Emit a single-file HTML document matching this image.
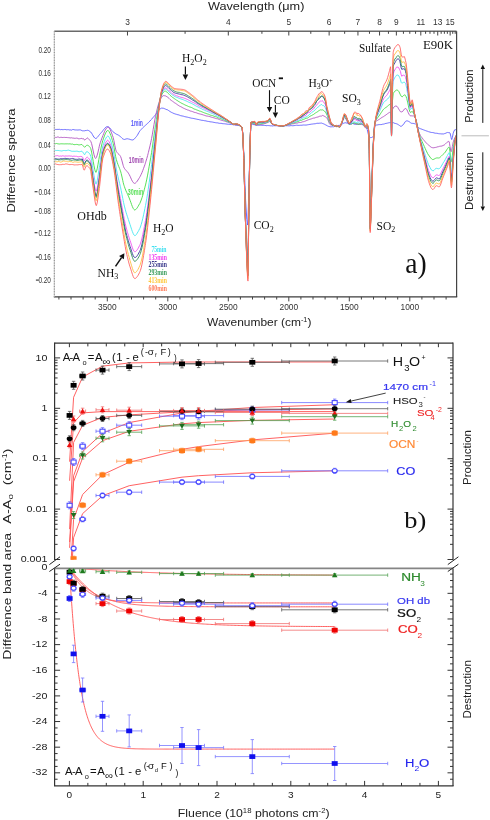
<!DOCTYPE html>
<html><head><meta charset="utf-8"><style>
html,body{margin:0;padding:0;background:#fff;width:490px;height:820px;overflow:hidden;}
body{position:relative;font-family:"Liberation Sans", sans-serif;}
</style></head><body>
<svg width="490" height="820" viewBox="0 0 490 820" style="position:absolute;left:0;top:0;will-change:transform">
<rect width="490" height="820" fill="#fff"/>
<clipPath id="c1"><rect x="54.3" y="31.2" width="402.3" height="265.7"/></clipPath>
<g clip-path="url(#c1)">
<polyline points="54,129.62 54.8,129.48 55.6,129.44 56.4,129.46 57.2,129.39 58,129.44 58.8,129.39 59.6,129.35 60,129.62 60.4,129.68 61.2,129.52 62,129.57 62.8,129.66 63.6,129.62 64.4,129.49 65.2,129.48 66,129.68 66.8,129.8 67.6,129.67 68.4,129.67 69.2,129.92 70,129.92 70.8,129.93 71.6,130.12 72,129.9 72.4,129.62 73.2,129.55 74,129.63 74.8,129.91 75.6,129.94 76.4,129.95 77.2,130.04 78,129.97 78.8,129.95 79.6,129.88 80.4,129.92 81.2,130.23 82,130.71 82.2,130.83 82.8,130.73 83.4,130.79 83.6,130.86 84,131.06 84.4,131 84.6,130.73 85.2,130.58 86,130.53 86.4,130.59 86.8,130.21 87.1,130.08 87.6,130.33 88.4,130.46 89.2,130.93 90,131.55 90.1,131.61 90.7,132.03 90.8,132.1 91.6,133.13 92.4,134.5 93.2,135.93 94,137.13 94.8,138 95.6,138.49 96.2,138.44 96.4,138.25 97.2,137.48 98,136.5 98.8,135.44 99.3,134.77 99.6,134.42 100.4,133.55 100.5,133.43 101.2,132.68 102,131.8 102.8,130.76 103,130.42 103.6,129.65 104.4,128.7 105.2,127.77 106,127.06 106.8,126.74 107.5,126.69 107.6,126.63 108,126.63 108.4,126.78 109.2,127.34 110,128.17 110.8,129.2 111.6,130.22 112.4,131.14 113,131.77 113.2,131.95 113.9,132.52 114,132.55 114.8,133.07 115.6,133.66 116.2,134.12 116.4,134.18 117.2,134.51 118,134.9 118.5,135.2 118.8,135.44 119.6,135.92 120,136.14 120.4,136.48 120.5,136.62 121.2,137.35 122,138.21 122.8,138.93 123.2,139.13 123.6,139.28 124.1,139.44 124.4,139.47 125.2,139.26 126,138.97 126.8,138.81 127.3,138.79 127.6,138.77 128.3,138.91 128.4,139.01 129.2,139.15 130,139.36 130.1,139.45 130.8,139.67 131.6,139.85 132.4,139.96 133.2,139.76 134,139.24 134.5,138.79 134.8,138.44 135.6,137.48 136.4,136.55 136.5,136.46 137.2,135.53 138,134.11 138.8,132.64 139.6,131.36 139.7,131.17 139.8,131.02 140,130.84 140.4,130.39 141.2,129.48 142,128.58 142.8,127.72 143.6,126.97 144.4,126.29 144.9,125.86 145.2,125.58 145.5,125.29 146,124.83 146.8,124.09 147.6,123.3 148.2,122.76 148.4,122.66 149.2,121.88 150,120.98 150.8,120.01 151.1,119.74 151.6,119.28 152.4,118.33 153.2,117.34 154,116.47 154.8,115.54 155.5,114.58 155.6,114.49 155.8,114.27 156.4,113.35 157.2,112.09 158,110.9 158.8,109.99 159.5,109.42 159.6,109.39 160,109.1 160.4,108.78 161.2,108.25 161.6,108.14 162,108.17 162.8,108.19 163.6,108.3 164,108.45 164.4,108.61 165.2,108.94 165.7,109.21 166,109.36 166.8,109.6 167,109.55 167.6,109.86 168.4,110.41 169.2,110.95 170,111.51 170.8,111.99 171.6,112.44 172,112.68 172.4,112.79 172.7,112.91 173.2,113.21 174,113.49 174.7,113.79 174.8,113.9 175.6,114.08 176.4,114.29 177.2,114.57 178,114.74 178.8,114.93 179.6,115.25 180,115.45 180.4,115.58 181.2,115.77 182,115.92 182.8,116.08 183.6,116.25 183.7,116.32 184.4,116.55 185.2,116.73 186,116.91 186.8,117.05 187.6,117.21 188.4,117.42 189.2,117.62 190,117.82 190.8,118.03 191.6,118.22 192.4,118.32 193.2,118.4 194,118.55 194.8,118.77 194.9,118.82 195.6,118.92 196.4,119.1 197.2,119.31 198,119.43 198.8,119.59 199.6,119.8 200,119.88 200.4,119.97 201.2,120.19 202,120.32 202.8,120.38 203.6,120.51 204.4,120.69 205.2,120.79 206,120.92 206.8,121.17 207.6,121.35 208.4,121.45 209.2,121.57 210,121.75 210.8,121.86 211.6,121.93 212.2,122.01 212.4,122.07 213.2,122.24 214,122.39 214.8,122.54 215.6,122.69 216.4,122.81 217.2,122.86 217.3,122.83 218,122.99 218.8,123.18 219.6,123.33 220.4,123.35 221.2,123.34 222,123.52 222.8,123.7 223.6,123.72 224.4,123.75 224.5,123.77 225.2,123.86 226,123.97 226.8,124.09 227.6,124.22 228.4,124.26 229.2,124.29 230,124.43 230.8,124.54 231.6,124.56 231.8,124.5 232.4,124.56 233.2,124.76 234,124.83 234.8,124.83 235,124.88 235.3,125.06 235.6,125.18 236.4,125.28 236.7,125.28 237.2,125.25 238,125.36 238.8,125.6 239.6,125.8 240.4,126.03 241,126.25 241.2,126.29 242,127.49 242.2,128.1 242.8,134.21 243.6,150.02 243.7,152.07 243.8,154.02 244.4,168.95 245.2,191.43 245.4,196.05 245.5,198.18 245.6,200.06 246,206.94 246.8,219.48 247.6,225.04 247.8,223.28 248,218.94 248.4,206.33 248.6,199.95 248.7,196.86 249.2,177.28 249.8,153.94 250,147.17 250.8,124.67 250.9,124.13 251.6,124.09 252.4,124.28 253.2,124.5 254,124.65 254.8,124.74 255,124.79 255.6,124.96 256,124.97 256.4,124.96 257.2,125.12 257.3,125.16 258,125.13 258.8,125.17 259.6,125.21 260.4,125.2 261.2,125.23 262,125.3 262.8,125.34 263.6,125.38 264.4,125.41 265.2,125.47 266,125.6 266.8,125.66 267.5,125.56 267.6,125.48 268,125.52 268.4,125.55 269.2,125.62 269.8,125.73 270,125.81 270.8,125.83 271.6,125.84 272,125.96 272.4,125.97 273.2,125.77 274,125.67 274.8,125.76 275.6,125.78 276.4,125.72 277.2,125.8 278,125.84 278.8,125.85 279.6,125.94 280.4,125.96 281.2,125.91 282,125.88 282.1,125.84 282.8,125.83 283.6,125.89 284.4,125.9 285.2,125.79 286,125.73 286.8,125.77 287.6,125.75 288.4,125.82 289.2,125.89 290,125.78 290.8,125.61 291.6,125.61 292,125.71 292.2,125.73 292.4,125.73 293.2,125.71 294,125.62 294.8,125.52 295.6,125.37 296.4,125.23 297.2,125.26 298,125.35 298.8,125.36 299.6,125.33 300.4,125.28 301.2,125.25 302,125.2 302.8,125.09 303.6,124.99 304.2,124.97 304.4,125.05 305,125.05 305.2,125.06 306,125.07 306.8,124.96 307.6,124.81 308.4,124.66 309.2,124.5 310,124.42 310.8,124.28 311.6,124.13 312.4,124.06 313.2,123.95 313.4,123.9 314,123.83 314.8,123.77 315.6,123.66 316.4,123.42 317.2,123.27 318,123.29 318.8,123.3 319.6,123.21 320.4,123.17 320.7,123.13 321.2,123.05 321.6,123.12 322,123.27 322.6,123.49 322.8,123.53 323.6,123.82 324.4,124.2 325.2,124.61 325.3,124.69 326,125.08 326.8,125.49 327,125.63 327.1,125.73 327.6,125.98 328.4,126.33 329,126.52 329.2,126.54 330,126.76 330.8,126.85 331.6,126.8 331.7,126.76 332.4,126.73 333.2,126.78 333.6,126.77 334,126.62 334.8,126.48 335,126.47 335.6,126.4 336.4,126.38 337.2,126.04 338,125.56 338.8,125.38 339.6,125.33 339.7,125.35 340,125.26 340.4,125.18 341.2,124.99 342,124.38 342.1,123.95 342.8,123.51 343.6,123.27 344.4,123.01 344.6,122.87 345.2,122.75 346,122.84 346.8,123.1 347,123.19 347.6,123.03 348.4,122.91 348.9,122.94 349,123.01 349.2,123.06 349.5,123.01 350,122.96 350.8,123.05 351.6,123.24 351.9,123.51 352,123.56 352.4,123.51 353.2,123.71 354,123.97 354.4,124.21 354.8,124.31 355.6,124.29 356.4,124.28 357.2,124.17 357.4,124.06 357.5,124.08 358,124.13 358.8,124.16 359.6,124.16 360,124.18 360.4,124.32 360.5,124.34 361.2,124.11 361.7,124.04 362,124.29 362.8,124.6 363,124.48 363.6,124.68 364.4,125.49 365.2,126.31 365.4,126.33 366,127.06 366.6,127.84 366.8,128.17 367.2,129.43 367.6,131.04 368.4,134.56 368.5,135.01 369.1,136.42 369.2,136.41 369.3,136.45 370,137.12 370.2,137.35 370.8,137.73 370.9,137.7 371.5,137.51 371.6,137.45 372.4,137.11 373.2,136.5 373.4,136.36 374,133.37 374.5,129 374.8,126.74 375,125.85 375.2,125.54 375.6,125.38 376.1,125.15 376.4,125.07 377,124.98 377.2,124.96 378,124.82 378.8,124.65 379.6,124.58 379.8,124.6 380.4,124.59 381.2,124.58 382,124.44 382.2,124.33 382.8,124.22 383.5,124.09 383.6,124.12 384.4,123.92 384.7,123.72 385.2,123.55 386,123.43 386.8,123.26 387.1,123.2 387.6,123.08 388.4,122.89 389.2,122.72 389.6,122.61 390,122.54 390.6,122.45 390.8,122.44 391.2,122.52 391.4,122.49 391.5,122.37 391.6,122.39 391.9,122.53 392.3,122.64 392.4,122.54 393.2,122.57 393.3,122.69 394,123.08 394.8,123.32 395.6,123.51 395.7,123.55 396.3,123.75 396.4,123.72 396.9,123.83 397.2,123.98 398,124.51 398.2,124.64 398.8,124.96 399.6,125.52 400,125.93 400.4,126.19 401.2,126.24 401.8,125.95 402,125.81 402.8,125.11 403.6,124.18 404.3,123.18 404.4,122.97 405.2,121.77 405.5,121.39 406,121.12 406.1,121.14 406.7,120.84 406.8,120.78 407.6,120.97 408,121.11 408.4,121.29 409.2,121.7 410,122.27 410.4,122.61 410.8,122.93 411.6,123.32 412.2,123.41 412.4,123.37 413.2,123.43 414,123.47 414.1,123.54 414.8,123.75 415.6,124 416.4,124.42 416.5,124.51 416.6,124.56 417.2,126.03 417.7,127.1 418,127.33 418.8,127.91 419.6,128.35 420.4,128.69 421,128.92 421.2,128.98 422,129.27 422.8,129.59 423.2,129.73 423.6,129.88 424.3,130.2 424.4,130.2 425.2,130.44 425.4,130.57 426,130.81 426.8,131.05 427.6,131.31 428.4,131.58 428.6,131.71 429.2,131.87 430,132.09 430.8,132.33 431.6,132.49 431.9,132.5 432.4,132.53 433,132.6 433.2,132.63 434,132.87 434.8,133.09 435.6,133.24 436.3,133.32 436.4,133.24 437.2,133.33 438,133.5 438.5,133.63 438.8,133.68 439.1,133.7 439.6,133.76 440.4,133.81 441.2,133.88 442,133.95 442.8,133.91 442.9,133.94 443.6,133.94 444,133.83 444.4,133.67 445.2,133.41 446,133.1 446.8,132.68 447.3,132.48 447.6,132.53 448.4,132.58 448.9,132.62 449.2,132.59 449.5,132.67 450,132.99 450.8,136.13 451.1,137.71 451.4,138.94 451.6,139.43 451.7,139.59 452.4,137.4 453.2,133.32 453.3,132.94 454,131.03 454.8,129.69 455,129.64 455.6,129.71 456.4,130.03" fill="none" stroke="#5a5aff" stroke-width="0.9" stroke-linejoin="round" />
<polyline points="54,137.12 54.8,137.19 55.6,137.43 56.4,137.43 57.2,137.07 58,136.89 58.8,137.22 59.6,137.61 60,137.61 60.4,137.39 61.2,137.3 62,137.45 62.8,137.53 63.6,137.43 64.4,137.4 65.2,137.48 66,137.49 66.8,137.48 67.6,137.6 68.4,137.67 69.2,137.73 70,137.95 70.8,137.92 71.6,137.79 72,137.97 72.4,138.06 73.2,138.07 74,138.22 74.8,138.3 75.6,138.28 76.4,138.12 77.2,138.15 78,138.58 78.8,138.82 79.6,138.74 80.4,138.61 81.2,138.44 82,138.39 82.2,138.65 82.8,138.84 83.4,138.7 83.6,138.66 84,139.22 84.4,139.96 84.6,140.15 85.2,139.69 86,138.98 86.4,138.81 86.8,138.36 87.1,138.01 87.6,137.94 88.4,138.66 89.2,139.47 90,140.42 90.1,140.6 90.7,141.36 90.8,141.42 91.6,143.58 92.4,147.06 93.2,150.99 94,154.63 94.8,157.35 95.6,158.48 96.2,157.89 96.4,157.42 97.2,155.17 98,152.09 98.8,148.55 99.3,146.22 99.6,144.96 100.4,142.36 100.5,142.07 101.2,140.14 102,137.93 102.8,135.83 103,135.4 103.6,133.81 104.4,131.82 105.2,130.19 106,128.87 106.8,127.84 107.5,127.34 107.6,127.31 108,127.2 108.4,127.27 109.2,128.07 110,129.43 110.8,131.07 111.6,133.01 112.4,135.22 113,136.96 113.2,137.61 113.9,140.61 114,141.08 114.8,145.3 115.6,149.17 116.2,151.04 116.4,151.4 117.2,152.66 118,153.58 118.5,154 118.8,154.27 119.6,155.18 120,155.67 120.4,156.22 120.5,156.38 121.2,158.18 122,160.96 122.8,163.99 123.2,165.45 123.6,166.7 124.1,167.87 124.4,168.35 125.2,169.43 126,170.34 126.8,171.21 127.3,171.79 127.6,172.11 128.3,173 128.4,173.19 129.2,174.54 130,176.11 130.1,176.31 130.8,177.95 131.6,179.75 132.4,181.29 133.2,182.47 134,183.19 134.5,183.37 134.8,183.37 135.6,182.97 136.4,182.2 136.5,182.09 137.2,181.21 138,179.98 138.8,178.66 139.6,177.41 139.7,177.29 139.8,177.11 140,176.71 140.4,175.93 141.2,174.32 142,172.5 142.8,170.44 143.6,168.31 144.4,166.15 144.9,164.74 145.2,163.8 145.5,162.78 146,161.13 146.8,158.44 147.6,155.58 148.2,153.28 148.4,152.46 149.2,149.17 150,145.8 150.8,142.28 151.1,140.86 151.6,138.48 152.4,134.19 153.2,129.39 154,124.51 154.8,119.93 155.5,116.33 155.6,115.92 155.8,115.15 156.4,112.5 157.2,108.93 158,105.8 158.8,103.08 159.5,101.06 159.6,100.84 160,100.08 160.4,99.35 161.2,98.04 161.6,97.39 162,96.79 162.8,96 163.6,95.59 164,95.61 164.4,95.7 165.2,95.83 165.7,95.96 166,96.14 166.8,96.69 167,96.8 167.6,97.16 168.4,97.77 169.2,98.53 170,99.38 170.8,100.09 171.6,100.66 172,100.92 172.4,101.18 172.7,101.38 173.2,101.74 174,102.34 174.7,102.9 174.8,102.92 175.6,103.37 176.4,103.95 177.2,104.58 178,105.11 178.8,105.61 179.6,106.16 180,106.39 180.4,106.5 181.2,106.88 182,107.34 182.8,107.84 183.6,108.23 183.7,108.23 184.4,108.57 185.2,108.97 186,109.29 186.8,109.62 187.6,109.96 188.4,110.17 189.2,110.5 190,110.92 190.8,111.13 191.6,111.3 192.4,111.56 193.2,111.88 194,112.21 194.8,112.48 194.9,112.48 195.6,112.6 196.4,112.8 197.2,113.16 198,113.52 198.8,113.73 199.6,113.92 200,114.03 200.4,114.12 201.2,114.31 202,114.52 202.8,114.78 203.6,115.05 204.4,115.3 205.2,115.6 206,115.9 206.8,116.06 207.6,116.15 208.4,116.29 209.2,116.48 210,116.7 210.8,116.98 211.6,117.24 212.2,117.4 212.4,117.44 213.2,117.65 214,117.83 214.8,118.08 215.6,118.42 216.4,118.62 217.2,118.72 217.3,118.7 218,118.95 218.8,119.28 219.6,119.61 220.4,119.89 221.2,120.14 222,120.4 222.8,120.66 223.6,120.89 224.4,121.11 224.5,121.05 225.2,121.22 226,121.59 226.8,121.95 227.6,122.14 228.4,122.38 229.2,122.71 230,122.95 230.8,123.21 231.6,123.54 231.8,123.62 232.4,123.75 233.2,123.95 234,124.22 234.8,124.5 235,124.59 235.3,124.71 235.6,124.77 236.4,124.9 236.7,124.91 237.2,124.97 238,125.18 238.8,125.39 239.6,125.55 240.4,125.84 241,126.14 241.2,126.27 242,127.5 242.2,128 242.8,134.33 243.6,151.66 243.7,154.1 243.8,156.68 244.4,178.72 245.2,211.54 245.4,217.55 245.5,219.98 245.6,222.29 246,231.14 246.8,246.48 247.6,254.78 247.8,255.08 248,252.14 248.4,235.25 248.6,224.91 248.7,220.11 249.2,189.39 249.8,154.01 250,146.16 250.8,123.43 250.9,122.97 251.6,123.02 252.4,123.33 253.2,123.76 254,124.2 254.8,124.63 255,124.74 255.6,124.98 256,125.06 256.4,124.98 257.2,124.93 257.3,124.95 258,124.87 258.8,124.78 259.6,124.73 260.4,124.6 261.2,124.39 262,124.26 262.8,124.17 263.6,123.94 264.4,123.63 265.2,123.47 266,123.23 266.8,122.83 267.5,122.56 267.6,122.61 268,122.49 268.4,122.31 269.2,121.76 269.8,121.51 270,121.56 270.8,122.54 271.6,123.8 272,124.18 272.4,124.31 273.2,124.49 274,124.75 274.8,125.07 275.6,125.25 276.4,125.32 277.2,125.44 278,125.59 278.8,125.67 279.6,125.7 280.4,125.74 281.2,125.82 282,125.84 282.1,125.79 282.8,125.78 283.6,125.74 284.4,125.6 285.2,125.44 286,125.29 286.8,125.15 287.6,125.02 288.4,124.84 289.2,124.69 290,124.49 290.8,124.22 291.6,124.03 292,123.94 292.2,123.87 292.4,123.86 293.2,123.76 294,123.68 294.8,123.51 295.6,123.27 296.4,123.12 297.2,123.07 298,122.88 298.8,122.57 299.6,122.55 300.4,122.53 301.2,122.36 302,122.03 302.8,121.74 303.6,121.69 304.2,121.65 304.4,121.39 305,121.07 305.2,121.1 306,120.8 306.8,120.46 307.6,120.14 308.4,119.78 309.2,119.5 310,119.26 310.8,119.03 311.6,118.78 312.4,118.41 313.2,118.06 313.4,118.14 314,118.16 314.8,117.92 315.6,117.59 316.4,117.34 317.2,117.15 318,116.98 318.8,116.68 319.6,116.26 320.4,116.07 320.7,116.22 321.2,116.25 321.6,115.98 322,115.63 322.6,115.45 322.8,115.46 323.6,115.84 324.4,116.29 325.2,116.67 325.3,116.79 326,117.33 326.8,117.93 327,118.13 327.1,118.24 327.6,119.06 328.4,121.18 329,122.78 329.2,123.22 330,124.56 330.8,124.92 331.6,125.08 331.7,125.17 332.4,125.25 333.2,125.27 333.6,125.34 334,125.43 334.8,125.62 335,125.69 335.6,125.82 336.4,125.92 337.2,126.26 338,126.48 338.8,126.76 339.6,126.9 339.7,126.64 340,126.26 340.4,125.69 341.2,124.15 342,122.56 342.1,122.27 342.8,120.44 343.6,118.65 344.4,117.75 344.6,117.69 345.2,117.95 346,119.18 346.8,120.92 347,121.36 347.6,122.33 348.4,123.83 348.9,124.39 349,124.54 349.2,124.55 349.5,124.46 350,124.38 350.8,124.4 351.6,124.17 351.9,123.65 352,123.42 352.4,123.44 353.2,123.26 354,123.19 354.4,123.45 354.8,123.58 355.6,123.67 356.4,123.93 357.2,124.26 357.4,124.38 357.5,124.31 358,124.26 358.8,124.22 359.6,124.2 360,124.11 360.4,123.8 360.5,123.81 361.2,124.19 361.7,124.37 362,124.5 362.8,124.8 363,124.87 363.6,125.5 364.4,126.55 365.2,127.4 365.4,127.79 366,128.4 366.6,128.26 366.8,127.95 367.2,128.34 367.6,128.55 368.4,129.28 368.5,129.46 369.1,142.59 369.2,146.25 369.3,150 370,208.08 370.2,214.99 370.8,207.19 370.9,204.85 371.5,189.97 371.6,187.73 372.4,165.09 373.2,143.66 373.4,139.93 374,130.77 374.5,124.75 374.8,122.61 375,122.01 375.2,121.78 375.6,121.42 376.1,121.13 376.4,121.05 377,120.76 377.2,120.56 378,120.04 378.8,119.58 379.6,119.14 379.8,118.98 380.4,118.51 381.2,117.94 382,117.38 382.2,117.27 382.8,116.98 383.5,116.62 383.6,116.55 384.4,115.96 384.7,115.72 385.2,115.45 386,114.88 386.8,114.25 387.1,114.03 387.6,113.66 388.4,113.1 389.2,112.59 389.6,112.38 390,112.25 390.6,112.11 390.8,112.15 391.2,125.12 391.4,133.96 391.5,135.99 391.6,134.96 391.9,125.14 392.3,110.23 392.4,109.87 393.2,108.11 393.3,107.84 394,106.96 394.8,106.47 395.6,106.08 395.7,105.93 396.3,106.03 396.4,106.28 396.9,106.46 397.2,106.55 398,107.7 398.2,108.16 398.8,109.19 399.6,110.48 400,111.18 400.4,111.65 401.2,111.97 401.8,111.87 402,111.96 402.8,111.27 403.6,110.16 404.3,109.21 404.4,109.05 405.2,108.61 405.5,108.54 406,108.54 406.1,108.69 406.7,109.55 406.8,109.57 407.6,111.25 408,112.21 408.4,112.94 409.2,114.54 410,115.68 410.4,115.82 410.8,115.78 411.6,115.84 412.2,115.89 412.4,115.92 413.2,115.92 414,115.87 414.1,115.79 414.8,116.4 415.6,118.5 416.4,121.23 416.5,121.65 416.6,121.99 417.2,124.44 417.7,127.03 418,128.56 418.8,131.81 419.6,133.81 420.4,135.43 421,136.49 421.2,136.76 422,137.75 422.8,138.79 423.2,139.42 423.6,139.85 424.3,140.64 424.4,140.83 425.2,141.79 425.4,141.96 426,142.64 426.8,143.51 427.6,144.3 428.4,144.98 428.6,145.09 429.2,145.57 430,146.28 430.8,146.94 431.6,147.45 431.9,147.55 432.4,147.67 433,147.77 433.2,147.81 434,147.71 434.8,147.56 435.6,147.41 436.3,147.29 436.4,147.25 437.2,146.95 438,146.71 438.5,146.63 438.8,146.65 439.1,146.53 439.6,146.31 440.4,146.2 441.2,146.15 442,145.98 442.8,145.66 442.9,145.51 443.6,145.28 444,145.17 444.4,144.88 445.2,144.17 446,143.32 446.8,142.51 447.3,142.16 447.6,141.94 448.4,141.45 448.9,141.38 449.2,141.95 449.5,143.32 450,146.53 450.8,151.12 451.1,151.66 451.4,151.33 451.6,150.64 451.7,150.17 452.4,146.38 453.2,142.17 453.3,141.88 454,139.69 454.8,137.68 455,137.32 455.6,136.53 456.4,135.92" fill="none" stroke="#b050c0" stroke-width="0.9" stroke-linejoin="round" />
<polyline points="54,143.73 54.8,143.81 55.6,143.71 56.4,143.49 57.2,143.65 58,143.91 58.8,143.91 59.6,144.01 60,144.06 60.4,143.87 61.2,143.79 62,143.85 62.8,143.83 63.6,143.87 64.4,143.91 65.2,143.85 66,143.87 66.8,143.86 67.6,143.83 68.4,143.92 69.2,143.89 70,143.84 70.8,144.03 71.6,144.17 72,144.04 72.4,144.03 73.2,144.39 74,144.63 74.8,144.64 75.6,144.52 76.4,144.41 77.2,144.47 78,144.69 78.8,144.92 79.6,144.86 80.4,144.7 81.2,144.53 82,144.53 82.2,144.77 82.8,145.42 83.4,146.2 83.6,146.26 84,146.7 84.4,147.12 84.6,147.21 85.2,146.9 86,146 86.4,145.5 86.8,145.08 87.1,145.01 87.6,145.36 88.4,145.64 89.2,146.3 90,147.19 90.1,147.3 90.7,148.52 90.8,148.81 91.6,152.05 92.4,156.54 93.2,161.27 94,165.77 94.8,169.71 95.6,172.16 96.2,172.24 96.4,171.75 97.2,168.72 98,164.36 98.8,159.65 99.3,156.9 99.6,155.36 100.4,151.27 100.5,150.73 101.2,147.12 102,143.44 102.8,140.51 103,139.99 103.6,138.24 104.4,135.96 105.2,133.94 106,132.29 106.8,131.06 107.5,130.51 107.6,130.62 108,130.51 108.4,130.67 109.2,131.73 110,133.35 110.8,135.32 111.6,137.75 112.4,140.57 113,142.77 113.2,143.52 113.9,146.9 114,147.46 114.8,151.98 115.6,156.38 116.2,159.04 116.4,159.77 117.2,162.34 118,164.63 118.5,165.91 118.8,166.6 119.6,168.56 120,169.67 120.4,170.89 120.5,171.09 121.2,173.52 122,177.01 122.8,180.69 123.2,182.48 123.6,184.09 124.1,185.72 124.4,186.56 125.2,188.87 126,190.88 126.8,192.59 127.3,193.66 127.6,194.37 128.3,195.97 128.4,196.1 129.2,197.98 130,200.12 130.1,200.39 130.8,202.31 131.6,204.58 132.4,206.65 133.2,208.36 134,209.52 134.5,209.91 134.8,210.02 135.6,209.62 136.4,208.8 136.5,208.75 137.2,207.85 138,206.51 138.8,205.08 139.6,203.71 139.7,203.62 139.8,203.46 140,203 140.4,202.1 141.2,200.06 142,197.69 142.8,195.15 143.6,192.33 144.4,189.23 144.9,187.23 145.2,186.1 145.5,184.97 146,182.85 146.8,179.14 147.6,175.12 148.2,171.94 148.4,170.79 149.2,166.28 150,161.77 150.8,157.25 151.1,155.43 151.6,152.4 152.4,147.06 153.2,141.32 154,135.48 154.8,129.8 155.5,125.26 155.6,124.68 155.8,123.36 156.4,119.66 157.2,114.69 158,109.76 158.8,105.27 159.5,102.03 159.6,101.66 160,100.14 160.4,98.67 161.2,96.09 161.6,95.17 162,94.39 162.8,92.98 163.6,91.89 164,91.51 164.4,91.29 165.2,91.12 165.7,91.25 166,91.44 166.8,92.02 167,92.13 167.6,92.62 168.4,93.45 169.2,94.38 170,95.2 170.8,95.9 171.6,96.57 172,96.9 172.4,97.28 172.7,97.48 173.2,97.75 174,98.39 174.7,98.86 174.8,98.87 175.6,99.48 176.4,100.05 177.2,100.51 178,101.01 178.8,101.59 179.6,102.03 180,102.23 180.4,102.53 181.2,103 182,103.44 182.8,103.8 183.6,104.14 183.7,104.26 184.4,104.64 185.2,105.04 186,105.39 186.8,105.69 187.6,106.06 188.4,106.44 189.2,106.77 190,107.04 190.8,107.27 191.6,107.56 192.4,107.96 193.2,108.48 194,108.96 194.8,109.18 194.9,109.09 195.6,109.41 196.4,109.81 197.2,110.1 198,110.37 198.8,110.74 199.6,111.09 200,111.18 200.4,111.21 201.2,111.52 202,111.9 202.8,112.18 203.6,112.53 204.4,112.87 205.2,113.15 206,113.43 206.8,113.72 207.6,113.98 208.4,114.22 209.2,114.58 210,114.99 210.8,115.24 211.6,115.42 212.2,115.57 212.4,115.6 213.2,115.89 214,116.21 214.8,116.5 215.6,116.66 216.4,116.86 217.2,117.26 217.3,117.48 218,117.84 218.8,118.05 219.6,118.21 220.4,118.48 221.2,118.8 222,119.12 222.8,119.4 223.6,119.73 224.4,120.15 224.5,120.23 225.2,120.51 226,120.92 226.8,121.31 227.6,121.57 228.4,121.86 229.2,122.19 230,122.5 230.8,122.88 231.6,123.22 231.8,123.3 232.4,123.72 233.2,124.13 234,124.24 234.8,124.38 235,124.38 235.3,124.36 235.6,124.43 236.4,124.47 236.7,124.44 237.2,124.54 238,124.79 238.8,125.08 239.6,125.43 240.4,125.88 241,126.2 241.2,126.26 242,127.45 242.2,127.93 242.8,134.43 243.6,152.13 243.7,154.67 243.8,157.45 244.4,179.6 245.2,212.15 245.4,218.22 245.5,220.72 245.6,223.17 246,233.09 246.8,251.1 247.6,261.68 247.8,262.46 248,260.68 248.4,239.97 248.6,226.04 248.7,220.01 249.2,188.13 249.8,153.91 250,146.14 250.8,123.31 250.9,122.86 251.6,122.79 252.4,122.91 253.2,123.14 254,123.41 254.8,123.68 255,123.81 255.6,124.46 256,124.93 256.4,125.09 257.2,124.2 257.3,124.12 258,124.09 258.8,124.01 259.6,123.91 260.4,123.8 261.2,123.67 262,123.59 262.8,123.41 263.6,123.17 264.4,123.01 265.2,122.85 266,122.64 266.8,122.38 267.5,122.17 267.6,122.08 268,121.71 268.4,121.42 269.2,120.8 269.8,120.62 270,120.73 270.8,121.93 271.6,123.46 272,123.88 272.4,124.04 273.2,124.33 274,124.63 274.8,124.86 275.6,125 276.4,125.12 277.2,125.36 278,125.63 278.8,125.69 279.6,125.68 280.4,125.74 281.2,125.8 282,125.87 282.1,125.93 282.8,125.91 283.6,125.8 284.4,125.63 285.2,125.5 286,125.35 286.8,125.09 287.6,124.75 288.4,124.43 289.2,124.23 290,124.04 290.8,123.71 291.6,123.33 292,123.25 292.2,123.27 292.4,123.2 293.2,122.96 294,122.77 294.8,122.57 295.6,122.3 296.4,122.02 297.2,121.77 298,121.52 298.8,121.21 299.6,120.76 300.4,120.49 301.2,120.39 302,120 302.8,119.62 303.6,119.33 304.2,119.1 304.4,119.07 305,118.85 305.2,118.67 306,118.31 306.8,118.21 307.6,118.01 308.4,117.49 309.2,116.84 310,116.26 310.8,115.89 311.6,115.5 312.4,115.02 313.2,114.63 313.4,114.52 314,114.08 314.8,113.45 315.6,112.88 316.4,112.42 317.2,111.96 318,111.37 318.8,110.72 319.6,110.28 320.4,109.91 320.7,109.8 321.2,109.92 321.6,109.96 322,109.79 322.6,109.85 322.8,110 323.6,110.49 324.4,111.21 325.2,111.77 325.3,111.63 326,112.94 326.8,114.75 327,115.09 327.1,115.34 327.6,116.63 328.4,119.16 329,121.08 329.2,121.54 330,122.97 330.8,123.76 331.6,124.51 331.7,124.82 332.4,125.33 333.2,125.39 333.6,125.39 334,125.49 334.8,125.72 335,125.76 335.6,125.92 336.4,126.02 337.2,126.08 338,126.24 338.8,126.6 339.6,126.98 339.7,126.94 340,126.31 340.4,125.51 341.2,123.77 342,121.99 342.1,121.94 342.8,120.09 343.6,117.75 344.4,116.33 344.6,116.39 345.2,117.15 346,118.52 346.8,119.84 347,119.9 347.6,121.04 348.4,123.03 348.9,123.87 349,124.12 349.2,124.41 349.5,124.3 350,124.03 350.8,123.85 351.6,123.8 351.9,124.02 352,123.96 352.4,123.57 353.2,123.15 354,122.88 354.4,122.78 354.8,122.83 355.6,123.28 356.4,123.72 357.2,123.92 357.4,123.89 357.5,123.81 358,124.07 358.8,124.41 359.6,123.96 360,123.69 360.4,124.1 360.5,124.09 361.2,123.68 361.7,123.42 362,123.53 362.8,123.99 363,124.24 363.6,124.93 364.4,126.39 365.2,127.42 365.4,127.33 366,127.53 366.6,127.58 366.8,127.52 367.2,127.17 367.6,127.44 368.4,129.15 368.5,129.48 369.1,142.66 369.2,146.36 369.3,150.15 370,212.41 370.2,219.8 370.8,211.3 370.9,208.83 371.5,192.76 371.6,190.36 372.4,167.17 373.2,145.31 373.4,141.26 374,131.59 374.5,125.52 374.8,123.26 375,122.41 375.2,121.81 375.6,120.77 376.1,119.85 376.4,119.5 377,118.69 377.2,118.36 378,117.26 378.8,116.2 379.6,115.05 379.8,114.74 380.4,113.85 381.2,112.63 382,111.43 382.2,111.12 382.8,110.23 383.5,109.32 383.6,109.22 384.4,108.52 384.7,108.33 385.2,107.95 386,107.38 386.8,106.85 387.1,106.61 387.6,106.13 388.4,105.4 389.2,104.78 389.6,104.59 390,104.35 390.6,103.38 390.8,104.27 391.2,119.89 391.4,132.78 391.5,136.04 391.6,134.1 391.9,119.37 392.3,103.1 392.4,101.62 393.2,93.81 393.3,93.58 394,92.25 394.8,91.25 395.6,90.69 395.7,90.6 396.3,90.18 396.4,90.03 396.9,89.92 397.2,90.05 398,90.46 398.2,90.61 398.8,91.46 399.6,93.01 400,93.97 400.4,94.76 401.2,96.23 401.8,96.82 402,97.07 402.8,96.32 403.6,95.46 404.3,95.02 404.4,94.91 405.2,95.12 405.5,95.65 406,96.47 406.1,96.61 406.7,98.45 406.8,98.72 407.6,102.13 408,103.89 408.4,105.72 409.2,109.54 410,112.1 410.4,112.46 410.8,112.34 411.6,111.71 412.2,111.44 412.4,111.56 413.2,112.78 414,114.39 414.1,114.59 414.8,116.17 415.6,118.78 416.4,121.79 416.5,122.18 416.6,122.64 417.2,125.4 417.7,127.97 418,129.43 418.8,132.9 419.6,135.45 420.4,137.68 421,139.13 421.2,139.5 422,141.33 422.8,143.13 423.2,144.02 423.6,144.89 424.3,146.41 424.4,146.64 425.2,148.44 425.4,148.95 426,150.24 426.8,151.94 427.6,153.57 428.4,154.91 428.6,155.08 429.2,155.92 430,157.05 430.8,158.08 431.6,158.9 431.9,159.16 432.4,159.49 433,159.65 433.2,159.54 434,159.19 434.8,158.72 435.6,158.29 436.3,158.04 436.4,158 437.2,157.93 438,157.94 438.5,157.98 438.8,158.03 439.1,157.96 439.6,157.66 440.4,156.99 441.2,156.22 442,155.41 442.8,154.56 442.9,154.46 443.6,153.85 444,153.5 444.4,153.19 445.2,152.22 446,150.99 446.8,149.72 447.3,148.99 447.6,148.6 448.4,147.52 448.9,147 449.2,147.29 449.5,148.31 450,151.88 450.8,159.58 451.1,161.31 451.4,161.58 451.6,160.97 451.7,160.46 452.4,155.06 453.2,148.27 453.3,147.61 454,143.51 454.8,139.68 455,138.99 455.6,137.21 456.4,135.66" fill="none" stroke="#44dd44" stroke-width="0.9" stroke-linejoin="round" />
<polyline points="54,150.15 54.8,150.21 55.6,150.43 56.4,150.53 57.2,150.44 58,150.46 58.8,150.56 59.6,150.7 60,150.72 60.4,150.79 61.2,150.98 62,150.91 62.8,150.71 63.6,150.49 64.4,150.49 65.2,150.6 66,150.59 66.8,150.51 67.6,150.28 68.4,150.14 69.2,150.39 70,150.64 70.8,150.86 71.6,151.23 72,151.41 72.4,151.32 73.2,151.28 74,151.31 74.8,151.32 75.6,151.29 76.4,151.19 77.2,151.2 78,151.44 78.8,151.65 79.6,151.68 80.4,151.51 81.2,151.26 82,151.33 82.2,151.49 82.8,152.13 83.4,153.18 83.6,153.37 84,154.02 84.4,154.56 84.6,154.81 85.2,153.73 86,152.16 86.4,151.89 86.8,151.82 87.1,151.8 87.6,151.84 88.4,152.4 89.2,153.25 90,154.33 90.1,154.54 90.7,156.04 90.8,156.34 91.6,160.33 92.4,165.48 93.2,170.6 94,175.63 94.8,180.36 95.6,183.59 96.2,184.1 96.4,183.74 97.2,180.73 98,176.06 98.8,170.71 99.3,167.55 99.6,165.74 100.4,160.32 100.5,159.57 101.2,154.81 102,149.82 102.8,146.09 103,145.5 103.6,143.71 104.4,141.46 105.2,139.53 106,137.96 106.8,136.77 107.5,136.13 107.6,136.05 108,135.94 108.4,136.26 109.2,137.42 110,138.96 110.8,141.11 111.6,143.89 112.4,147.1 113,149.79 113.2,150.75 113.9,154.44 114,154.96 114.8,159.7 115.6,164.72 116.2,168.17 116.4,169.23 117.2,173.12 118,176.73 118.5,178.94 118.8,180.23 119.6,183.46 120,185.07 120.4,186.72 120.5,187.17 121.2,190.5 122,194.65 122.8,198.68 123.2,200.57 123.6,202.59 124.1,204.93 124.4,206.07 125.2,209.21 126,212.18 126.8,214.75 127.3,216.24 127.6,217.15 128.3,219.19 128.4,219.49 129.2,222 130,224.42 130.1,224.72 130.8,226.88 131.6,229.39 132.4,231.64 133.2,233.54 134,235 134.5,235.53 134.8,235.67 135.6,235.36 136.4,234.52 136.5,234.27 137.2,233.15 138,231.84 138.8,230.38 139.6,228.75 139.7,228.57 139.8,228.43 140,228 140.4,227.02 141.2,224.57 142,221.59 142.8,218.31 143.6,214.8 144.4,211.03 144.9,208.53 145.2,206.99 145.5,205.52 146,202.94 146.8,198.34 147.6,193.39 148.2,189.5 148.4,188.08 149.2,182.38 150,176.68 150.8,170.88 151.1,168.61 151.6,164.64 152.4,157.97 153.2,151.09 154,144.24 154.8,137.45 155.5,131.71 155.6,130.95 155.8,129.42 156.4,124.64 157.2,118.3 158,112.32 158.8,106.88 159.5,102.82 159.6,102.35 160,100.36 160.4,98.4 161.2,95.15 161.6,94.1 162,93.22 162.8,91.51 163.6,90.22 164,89.75 164.4,89.4 165.2,89.11 165.7,89.17 166,89.4 166.8,89.98 167,90.16 167.6,90.7 168.4,91.43 169.2,92.18 170,92.93 170.8,93.64 171.6,94.34 172,94.73 172.4,95.05 172.7,95.17 173.2,95.45 174,96.04 174.7,96.5 174.8,96.52 175.6,96.86 176.4,97.26 177.2,97.52 178,97.75 178.8,98.17 179.6,98.54 180,98.62 180.4,98.72 181.2,99.03 182,99.3 182.8,99.53 183.6,99.86 183.7,99.96 184.4,100.27 185.2,100.57 186,100.86 186.8,101.25 187.6,101.67 188.4,102.08 189.2,102.45 190,102.76 190.8,103.1 191.6,103.5 192.4,103.9 193.2,104.37 194,104.83 194.8,105.2 194.9,105.28 195.6,105.75 196.4,106.19 197.2,106.58 198,106.96 198.8,107.37 199.6,107.89 200,108.19 200.4,108.31 201.2,108.6 202,109.06 202.8,109.51 203.6,109.82 204.4,110.1 205.2,110.53 206,110.96 206.8,111.23 207.6,111.54 208.4,111.84 209.2,112.15 210,112.58 210.8,113.05 211.6,113.4 212.2,113.56 212.4,113.6 213.2,113.91 214,114.26 214.8,114.77 215.6,115.27 216.4,115.61 217.2,115.91 217.3,116 218,116.32 218.8,116.61 219.6,116.95 220.4,117.34 221.2,117.8 222,118.22 222.8,118.49 223.6,118.85 224.4,119.35 224.5,119.35 225.2,119.59 226,120 226.8,120.45 227.6,120.91 228.4,121.4 229.2,121.86 230,122.25 230.8,122.66 231.6,123.12 231.8,123.33 232.4,123.8 233.2,124.15 234,124.24 234.8,124.39 235,124.36 235.3,124.2 235.6,124.14 236.4,124.27 236.7,124.37 237.2,124.39 238,124.55 238.8,124.88 239.6,125.35 240.4,125.81 241,126.1 241.2,126.25 242,127.49 242.2,127.93 242.8,134.74 243.6,152.92 243.7,155.44 243.8,158.22 244.4,180.41 245.2,212.68 245.4,218.87 245.5,221.54 245.6,224.17 246,234.94 246.8,254.8 247.6,267.08 247.8,268.28 248,267.23 248.4,243.39 248.6,226.71 248.7,219.96 249.2,187.45 249.8,154.12 250,146.18 250.8,123.06 250.9,122.58 251.6,122.44 252.4,122.53 253.2,122.7 254,122.82 254.8,122.99 255,123.07 255.6,123.92 256,124.7 256.4,125.03 257.2,123.65 257.3,123.52 258,123.34 258.8,123.24 259.6,123.15 260.4,123.06 261.2,122.99 262,122.95 262.8,122.9 263.6,122.72 264.4,122.51 265.2,122.38 266,122.21 266.8,121.93 267.5,121.65 267.6,121.64 268,121.48 268.4,121.14 269.2,120.23 269.8,119.9 270,119.98 270.8,121.49 271.6,123.44 272,123.99 272.4,124.18 273.2,124.45 274,124.66 274.8,124.86 275.6,125.08 276.4,125.31 277.2,125.43 278,125.5 278.8,125.65 279.6,125.74 280.4,125.69 281.2,125.78 282,125.93 282.1,125.94 282.8,125.83 283.6,125.73 284.4,125.71 285.2,125.55 286,125.21 286.8,124.86 287.6,124.62 288.4,124.34 289.2,123.93 290,123.55 290.8,123.24 291.6,122.96 292,122.79 292.2,122.65 292.4,122.5 293.2,122.24 294,122.11 294.8,121.9 295.6,121.58 296.4,121.22 297.2,120.8 298,120.45 298.8,120.19 299.6,119.95 300.4,119.6 301.2,118.89 302,118.38 302.8,118.06 303.6,117.76 304.2,117.43 304.4,117.23 305,117.22 305.2,117.32 306,116.83 306.8,116.59 307.6,116.17 308.4,115.36 309.2,114.67 310,114.1 310.8,113.41 311.6,112.6 312.4,111.97 313.2,111.48 313.4,111.38 314,111.04 314.8,110.27 315.6,109.27 316.4,108.46 317.2,107.68 318,107.06 318.8,106.56 319.6,105.87 320.4,105.07 320.7,104.76 321.2,104.67 321.6,104.56 322,104.78 322.6,105.46 322.8,105.57 323.6,105.64 324.4,106.25 325.2,107.46 325.3,107.69 326,109.39 326.8,112.22 327,113.22 327.1,113.54 327.6,114.57 328.4,117.08 329,119.25 329.2,119.88 330,121.81 330.8,123.4 331.6,124.43 331.7,124.49 332.4,124.84 333.2,125.16 333.6,125.29 334,125.52 334.8,125.83 335,125.84 335.6,125.96 336.4,126.18 337.2,126.22 338,126.21 338.8,126.45 339.6,127.03 339.7,127.25 340,126.59 340.4,125.86 341.2,124.1 342,122.25 342.1,122.4 342.8,120.53 343.6,117.81 344.4,115.94 344.6,115.76 345.2,116.3 346,117.52 346.8,119.1 347,119.51 347.6,120.86 348.4,123.19 348.9,124.22 349,124.32 349.2,124.2 349.5,124.08 350,124.03 350.8,123.73 351.6,123.56 351.9,123.48 352,123.4 352.4,123.21 353.2,122.21 354,121.55 354.4,121.77 354.8,121.91 355.6,122.15 356.4,122.53 357.2,122.68 357.4,122.24 357.5,121.84 358,122.06 358.8,122.28 359.6,121.88 360,121.62 360.4,122 360.5,122.54 361.2,122.89 361.7,123.09 362,123.51 362.8,124.33 363,124.62 363.6,124.96 364.4,125.91 365.2,127.03 365.4,127.27 366,127.23 366.6,126.67 366.8,126.56 367.2,126.33 367.6,126.69 368.4,128.95 368.5,129.34 369.1,142.59 369.2,146.28 369.3,150.14 370,215.97 370.2,223.89 370.8,214.73 370.9,212.01 371.5,194.98 371.6,192.36 372.4,168.6 373.2,146.47 373.4,142.39 374,132.4 374.5,126.23 374.8,123.75 375,122.62 375.2,121.87 375.6,120.41 376.1,118.84 376.4,118 377,116.6 377.2,116.18 378,114.47 378.8,112.85 379.6,111.25 379.8,110.85 380.4,109.46 381.2,107.53 382,105.69 382.2,105.27 382.8,104.01 383.5,102.69 383.6,102.5 384.4,101.67 384.7,101.45 385.2,101.02 386,100.46 386.8,99.8 387.1,99.55 387.6,99.08 388.4,98.15 389.2,97.19 389.6,96.67 390,96.06 390.6,94.26 390.8,95.97 391.2,114.71 391.4,131.7 391.5,136.05 391.6,133.39 391.9,113.97 392.3,96.18 392.4,93.86 393.2,81.39 393.3,80.94 394,78.99 394.8,77.64 395.6,76.56 395.7,76.41 396.3,75.59 396.4,75.39 396.9,75.19 397.2,75.12 398,75 398.2,75.1 398.8,75.87 399.6,77.43 400,78.2 400.4,79.44 401.2,82.39 401.8,83.15 402,83.04 402.8,82.79 403.6,82.28 404.3,81.99 404.4,82.16 405.2,83.07 405.5,83.54 406,84.79 406.1,85.36 406.7,88.23 406.8,88.61 407.6,93.64 408,96.36 408.4,99.46 409.2,105.26 410,108.93 410.4,109.52 410.8,109.33 411.6,108.2 412.2,107.7 412.4,107.75 413.2,109.93 414,112.98 414.1,113.28 414.8,115.62 415.6,118.89 416.4,122.32 416.5,122.73 416.6,123.22 417.2,125.99 417.7,128.48 418,130.08 418.8,133.77 419.6,136.8 420.4,139.65 421,141.59 421.2,142.17 422,144.7 422.8,147.23 423.2,148.56 423.6,149.85 424.3,152.06 424.4,152.42 425.2,154.92 425.4,155.51 426,157.34 426.8,159.85 427.6,162.24 428.4,164.32 428.6,164.77 429.2,165.89 430,167.4 430.8,168.97 431.6,170.16 431.9,170.32 432.4,170.52 433,170.76 433.2,170.79 434,170.3 434.8,169.42 435.6,168.64 436.3,168.32 436.4,168.33 437.2,168.48 438,168.74 438.5,168.77 438.8,168.67 439.1,168.57 439.6,168.38 440.4,167.63 441.2,166.42 442,164.97 442.8,163.54 442.9,163.27 443.6,162.21 444,161.7 444.4,161.11 445.2,159.7 446,158.09 446.8,156.54 447.3,155.71 447.6,155.23 448.4,153.61 448.9,152.8 449.2,152.73 449.5,153.19 450,157.13 450.8,167.84 451.1,170.55 451.4,171.39 451.6,170.95 451.7,170.48 452.4,163.44 453.2,154.09 453.3,153.27 454,147.38 454.8,141.54 455,140.43 455.6,137.78 456.4,135.42" fill="none" stroke="#44e8f0" stroke-width="0.9" stroke-linejoin="round" />
<polyline points="54,155.85 54.8,155.91 55.6,155.89 56.4,155.74 57.2,155.6 58,155.8 58.8,156.08 59.6,156.17 60,156.1 60.4,156.01 61.2,156.16 62,156.09 62.8,155.78 63.6,155.99 64.4,156.18 65.2,156 66,155.99 66.8,156.06 67.6,156.06 68.4,155.97 69.2,155.92 70,156.02 70.8,156.11 71.6,156.11 72,156.23 72.4,156.39 73.2,156.28 74,156.12 74.8,156.26 75.6,156.33 76.4,156.27 77.2,156.52 78,156.82 78.8,156.8 79.6,156.54 80.4,156.41 81.2,156.51 82,156.68 82.2,156.77 82.8,157.65 83.4,159.28 83.6,159.74 84,160.5 84.4,160.64 84.6,160.52 85.2,159.44 86,158.02 86.4,157.61 86.8,157.22 87.1,157.09 87.6,157.35 88.4,158.05 89.2,158.9 90,160 90.1,160.21 90.7,161.82 90.8,162.16 91.6,166.45 92.4,171.87 93.2,177.02 94,182.08 94.8,187.13 95.6,190.56 96.2,191.13 96.4,190.95 97.2,188.16 98,183.37 98.8,177.91 99.3,174.68 99.6,172.79 100.4,166.84 100.5,166.02 101.2,160.55 102,154.77 102.8,150.52 103,149.78 103.6,147.87 104.4,145.6 105.2,143.64 106,142.06 106.8,140.85 107.5,140.24 107.6,140.25 108,140.32 108.4,140.73 109.2,141.91 110,143.52 110.8,145.77 111.6,148.76 112.4,152.37 113,155.35 113.2,156.29 113.9,160.13 114,160.79 114.8,165.74 115.6,171.11 116.2,175.08 116.4,176.32 117.2,181.29 118,186.05 118.5,188.74 118.8,190.15 119.6,194.21 120,196.33 120.4,198.37 120.5,198.81 121.2,202.52 122,206.99 122.8,211.39 123.2,213.54 123.6,215.69 124.1,218.23 124.4,219.65 125.2,223.43 126,226.82 126.8,229.85 127.3,231.67 127.6,232.71 128.3,235.04 128.4,235.38 129.2,237.99 130,240.41 130.1,240.65 130.8,242.76 131.6,245.35 132.4,247.85 133.2,249.82 134,251.14 134.5,251.66 134.8,251.78 135.6,251.49 136.4,250.81 136.5,250.71 137.2,249.81 138,248.54 138.8,247.07 139.6,245.54 139.7,245.31 139.8,245.12 140,244.77 140.4,243.75 141.2,241.2 142,238.12 142.8,234.54 143.6,230.58 144.4,226.46 144.9,223.76 145.2,222.04 145.5,220.43 146,217.61 146.8,212.51 147.6,206.9 148.2,202.33 148.4,200.68 149.2,194.29 150,187.83 150.8,180.9 151.1,178.31 151.6,173.8 152.4,166.3 153.2,158.62 154,150.76 154.8,142.99 155.5,136.47 155.6,135.49 155.8,133.81 156.4,128.51 157.2,121.18 158,114.13 158.8,107.81 159.5,103.2 159.6,102.62 160,100.28 160.4,98.15 161.2,94.5 161.6,93.13 162,92.04 162.8,90.35 163.6,89.03 164,88.45 164.4,88.08 165.2,87.83 165.7,87.96 166,88.09 166.8,88.53 167,88.72 167.6,89.26 168.4,90.04 169.2,90.85 170,91.52 170.8,92.16 171.6,92.93 172,93.4 172.4,93.7 172.7,93.74 173.2,94.04 174,94.6 174.7,94.98 174.8,95.01 175.6,95.39 176.4,95.73 177.2,95.96 178,96.28 178.8,96.64 179.6,96.83 180,96.89 180.4,97.07 181.2,97.29 182,97.49 182.8,97.71 183.6,97.93 183.7,97.98 184.4,98.26 185.2,98.53 186,98.8 186.8,99.21 187.6,99.59 188.4,99.97 189.2,100.43 190,100.85 190.8,101.3 191.6,101.76 192.4,102.14 193.2,102.54 194,102.93 194.8,103.31 194.9,103.34 195.6,103.8 196.4,104.24 197.2,104.67 198,105.27 198.8,105.84 199.6,106.26 200,106.44 200.4,106.57 201.2,106.92 202,107.35 202.8,107.73 203.6,108.13 204.4,108.6 205.2,108.97 206,109.3 206.8,109.7 207.6,110.11 208.4,110.55 209.2,110.95 210,111.21 210.8,111.57 211.6,112.13 212.2,112.48 212.4,112.42 213.2,112.69 214,113.1 214.8,113.56 215.6,114 216.4,114.43 217.2,114.85 217.3,114.85 218,115.16 218.8,115.62 219.6,116.18 220.4,116.67 221.2,117.04 222,117.42 222.8,117.89 223.6,118.35 224.4,118.8 224.5,118.83 225.2,119.18 226,119.57 226.8,119.98 227.6,120.47 228.4,120.95 229.2,121.42 230,121.99 230.8,122.55 231.6,122.99 231.8,123.05 232.4,123.6 233.2,124.23 234,124.34 234.8,124.25 235,124.15 235.3,124.09 235.6,124.14 236.4,124.15 236.7,124.12 237.2,124.15 238,124.39 238.8,124.81 239.6,125.29 240.4,125.76 241,126.16 241.2,126.29 242,127.46 242.2,127.92 242.8,134.88 243.6,153.28 243.7,155.84 243.8,158.7 244.4,180.95 245.2,213.12 245.4,219.34 245.5,222.05 245.6,224.76 246,236.15 246.8,257.63 247.6,271.17 247.8,272.52 248,272.12 248.4,246.14 248.6,227.43 248.7,219.96 249.2,186.71 249.8,153.99 250,146.1 250.8,122.93 250.9,122.48 251.6,122.33 252.4,122.27 253.2,122.35 254,122.41 254.8,122.41 255,122.46 255.6,123.47 256,124.32 256.4,124.77 257.2,123.09 257.3,123.09 258,122.96 258.8,122.81 259.6,122.65 260.4,122.54 261.2,122.44 262,122.32 262.8,122.26 263.6,122.23 264.4,122.12 265.2,121.99 266,121.82 266.8,121.58 267.5,121.39 267.6,121.39 268,121.09 268.4,120.6 269.2,119.58 269.8,119.3 270,119.43 270.8,121.07 271.6,123.17 272,123.75 272.4,123.96 273.2,124.26 274,124.57 274.8,124.89 275.6,125.1 276.4,125.28 277.2,125.49 278,125.6 278.8,125.69 279.6,125.81 280.4,125.88 281.2,125.91 282,125.9 282.1,125.93 282.8,125.96 283.6,125.84 284.4,125.64 285.2,125.42 286,125.14 286.8,124.8 287.6,124.43 288.4,124.1 289.2,123.74 290,123.31 290.8,122.9 291.6,122.52 292,122.41 292.2,122.34 292.4,122.22 293.2,121.9 294,121.48 294.8,121.08 295.6,120.74 296.4,120.37 297.2,120.05 298,119.59 298.8,118.49 299.6,118.08 300.4,118.07 301.2,117.79 302,117.16 302.8,116.75 303.6,116.42 304.2,115.98 304.4,115.78 305,115.44 305.2,115.7 306,115.23 306.8,114.02 307.6,112.95 308.4,112.66 309.2,112.52 310,112 310.8,111.25 311.6,110.25 312.4,109.44 313.2,109.06 313.4,109.08 314,108.23 314.8,107.12 315.6,106.28 316.4,105.41 317.2,104.45 318,103.48 318.8,102.62 319.6,101.68 320.4,100.86 320.7,101.12 321.2,101.36 321.6,101.08 322,100.64 322.6,100.89 322.8,101.38 323.6,102.03 324.4,102.96 325.2,104.27 325.3,104.38 326,106.86 326.8,110.65 327,111.43 327.1,111.93 327.6,113.6 328.4,116.32 329,118.49 329.2,119.21 330,121.6 330.8,123.26 331.6,124.41 331.7,124.66 332.4,124.89 333.2,125.24 333.6,125.5 334,125.67 334.8,125.87 335,125.92 335.6,126.13 336.4,126.84 337.2,126.41 338,125.97 338.8,126.24 339.6,126.59 339.7,126.47 340,126.3 340.4,126.12 341.2,124.37 342,122.11 342.1,121.75 342.8,119.53 343.6,116.81 344.4,115.12 344.6,115.03 345.2,115.68 346,116.99 346.8,118.48 347,118.98 347.6,120.67 348.4,122.82 348.9,123.39 349,123.7 349.2,123.86 349.5,123.46 350,123.46 350.8,123.08 351.6,121.96 351.9,121.46 352,121.26 352.4,121.03 353.2,120.54 354,119.61 354.4,119.07 354.8,119.26 355.6,119.87 356.4,120.25 357.2,120.58 357.4,120.74 357.5,120.61 358,120.67 358.8,120.82 359.6,120.79 360,120.81 360.4,121.26 360.5,121.7 361.2,121.79 361.7,121.89 362,121.88 362.8,122.63 363,123.07 363.6,123.84 364.4,125.39 365.2,126.86 365.4,127.45 366,127.62 366.6,126.74 366.8,126.24 367.2,125.74 367.6,126.13 368.4,128.71 368.5,129.16 369.1,142.54 369.2,146.24 369.3,150.02 370,218.3 370.2,226.66 370.8,217.09 370.9,214.23 371.5,196.61 371.6,193.94 372.4,169.63 373.2,147.14 373.4,143.13 374,133.07 374.5,126.79 374.8,124.14 375,122.79 375.2,121.65 375.6,119.69 376.1,117.79 376.4,116.85 377,115.18 377.2,114.7 378,112.64 378.8,110.7 379.6,108.74 379.8,108.27 380.4,106.73 381.2,104.54 382,102.43 382.2,101.95 382.8,100.46 383.5,98.97 383.6,98.76 384.4,97.72 384.7,97.39 385.2,96.84 386,96.09 386.8,95.22 387.1,94.86 387.6,94.08 388.4,92.64 389.2,91.19 389.6,90.43 390,89.53 390.6,87.61 390.8,90.08 391.2,110.94 391.4,130.8 391.5,136 391.6,132.79 391.9,110.32 392.3,92.14 392.4,89.51 393.2,74.09 393.3,73.59 394,71.47 394.8,69.87 395.6,68.78 395.7,68.38 396.3,67.45 396.4,67.41 396.9,67.05 397.2,67.11 398,67.14 398.2,67.17 398.8,67.94 399.6,69.7 400,70.43 400.4,71.3 401.2,74.82 401.8,76.31 402,75.91 402.8,75.29 403.6,75.2 404.3,75.39 404.4,75.32 405.2,76.41 405.5,77.46 406,79.11 406.1,79.23 406.7,82.47 406.8,83.45 407.6,89.7 408,92.51 408.4,95.46 409.2,102.29 410,107.24 410.4,108 410.8,107.64 411.6,106.13 412.2,105.46 412.4,105.6 413.2,108.36 414,112.19 414.1,112.71 414.8,115.53 415.6,118.99 416.4,122.59 416.5,123.06 416.6,123.55 417.2,126.46 417.7,129.09 418,130.66 418.8,134.33 419.6,137.55 420.4,140.71 421,142.94 421.2,143.69 422,146.88 422.8,149.97 423.2,151.39 423.6,152.65 424.3,155.07 424.4,155.55 425.2,158.6 425.4,159.36 426,161.61 426.8,164.64 427.6,167.57 428.4,170.1 428.6,170.57 429.2,172.03 430,174.02 430.8,175.74 431.6,176.88 431.9,177.12 432.4,177.48 433,177.76 433.2,177.81 434,177.28 434.8,176.27 435.6,175.33 436.3,174.94 436.4,174.88 437.2,174.95 438,175.3 438.5,175.51 438.8,175.53 439.1,175.51 439.6,175.22 440.4,174.18 441.2,172.62 442,170.81 442.8,169.17 442.9,168.94 443.6,167.43 444,166.64 444.4,165.98 445.2,164.4 446,162.69 446.8,160.95 447.3,159.86 447.6,159.19 448.4,157.3 448.9,156.38 449.2,156.2 449.5,156.54 450,160.69 450.8,173.16 451.1,176.55 451.4,177.7 451.6,176.98 451.7,176.4 452.4,168.69 453.2,157.83 453.3,156.81 454,149.7 454.8,142.58 455,141.36 455.6,138.24 456.4,135.37" fill="none" stroke="#f050f0" stroke-width="0.9" stroke-linejoin="round" />
<polyline points="54,158.41 54.8,158.56 55.6,158.63 56.4,158.75 57.2,158.99 58,159.12 58.8,159.1 59.6,159.05 60,158.93 60.4,158.69 61.2,158.68 62,158.81 62.8,158.68 63.6,158.55 64.4,158.44 65.2,158.32 66,158.46 66.8,158.6 67.6,158.49 68.4,158.6 69.2,158.95 70,158.93 70.8,158.72 71.6,158.66 72,158.55 72.4,158.46 73.2,158.55 74,158.83 74.8,159.16 75.6,159.28 76.4,159.29 77.2,159.38 78,159.29 78.8,159.02 79.6,158.99 80.4,159.18 81.2,159.33 82,159.24 82.2,158.86 82.8,160.04 83.4,162.54 83.6,163.19 84,163.79 84.4,163.49 84.6,163.15 85.2,162.17 86,160.7 86.4,160.38 86.8,160.18 87.1,160 87.6,160.31 88.4,160.94 89.2,161.73 90,162.82 90.1,162.98 90.7,164.62 90.8,165.05 91.6,169.77 92.4,175.52 93.2,180.81 94,186.03 94.8,191.38 95.6,195.17 96.2,196.02 96.4,195.79 97.2,192.94 98,188.13 98.8,182.47 99.3,179.02 99.6,176.98 100.4,170.61 100.5,169.75 101.2,163.83 102,157.61 102.8,153.01 103,152.2 103.6,150.33 104.4,148.11 105.2,146.18 106,144.61 106.8,143.6 107.5,143.25 107.6,143.25 108,143.28 108.4,143.65 109.2,144.75 110,146.2 110.8,148.28 111.6,151.2 112.4,154.75 113,157.71 113.2,158.76 113.9,162.61 114,163.28 114.8,168.28 115.6,173.74 116.2,177.83 116.4,179.06 117.2,184.33 118,189.48 118.5,192.5 118.8,194.27 119.6,198.67 120,200.76 120.4,202.92 120.5,203.45 121.2,207.27 122,211.79 122.8,216.33 123.2,218.53 123.6,220.57 124.1,223.17 124.4,224.86 125.2,228.94 126,232.42 126.8,235.47 127.3,237.3 127.6,238.38 128.3,240.82 128.4,241.1 129.2,243.74 130,246.27 130.1,246.48 130.8,248.63 131.6,251.27 132.4,253.61 133.2,255.56 134,257 134.5,257.43 134.8,257.49 135.6,257.36 136.4,256.77 136.5,256.63 137.2,255.72 138,254.47 138.8,253 139.6,251.43 139.7,251.25 139.8,251.05 140,250.63 140.4,249.74 141.2,247.3 142,244.12 142.8,240.44 143.6,236.38 144.4,232.04 144.9,229.3 145.2,227.66 145.5,225.93 146,222.94 146.8,217.63 147.6,211.74 148.2,207.07 148.4,205.45 149.2,198.81 150,192.12 150.8,185.08 151.1,182.34 151.6,177.7 152.4,170.04 153.2,162.18 154,154.26 154.8,146.4 155.5,139.69 155.6,138.65 155.8,136.65 156.4,130.91 157.2,123.19 158,115.63 158.8,108.69 159.5,103.56 159.6,102.93 160,100.27 160.4,97.83 161.2,93.69 161.6,92.25 162,91.14 162.8,89.05 163.6,87.36 164,86.76 164.4,86.26 165.2,85.63 165.7,85.56 166,85.71 166.8,86.22 167,86.41 167.6,86.93 168.4,87.67 169.2,88.5 170,89.28 170.8,89.96 171.6,90.71 172,91.13 172.4,91.44 172.7,91.7 173.2,92.1 174,92.56 174.7,92.86 174.8,92.91 175.6,93.19 176.4,93.43 177.2,93.63 178,93.8 178.8,93.96 179.6,94.13 180,94.24 180.4,94.41 181.2,94.62 182,94.72 182.8,94.87 183.6,95.1 183.7,95.21 184.4,95.5 185.2,95.8 186,96.09 186.8,96.43 187.6,96.95 188.4,97.49 189.2,97.88 190,98.3 190.8,98.83 191.6,99.39 192.4,99.92 193.2,100.36 194,100.84 194.8,101.4 194.9,101.43 195.6,101.9 196.4,102.56 197.2,103.13 198,103.58 198.8,104.1 199.6,104.64 200,104.87 200.4,105.07 201.2,105.54 202,106.02 202.8,106.44 203.6,106.87 204.4,107.3 205.2,107.71 206,108.1 206.8,108.56 207.6,109.09 208.4,109.55 209.2,109.84 210,110.09 210.8,110.6 211.6,111.25 212.2,111.69 212.4,111.77 213.2,112.1 214,112.48 214.8,112.96 215.6,113.49 216.4,113.87 217.2,114.26 217.3,114.39 218,114.74 218.8,115.05 219.6,115.55 220.4,116.14 221.2,116.57 222,116.94 222.8,117.44 223.6,117.98 224.4,118.42 224.5,118.4 225.2,118.86 226,119.41 226.8,119.87 227.6,120.36 228.4,120.94 229.2,121.37 230,121.76 230.8,122.25 231.6,122.77 231.8,122.98 232.4,123.73 233.2,124.38 234,124.32 234.8,124.21 235,124.2 235.3,124.12 235.6,124.08 236.4,124.1 236.7,124.14 237.2,124.22 238,124.38 238.8,124.63 239.6,125.06 240.4,125.61 241,126.09 241.2,126.3 242,127.51 242.2,128 242.8,135.11 243.6,153.66 243.7,156.1 243.8,158.86 244.4,181.08 245.2,213.13 245.4,219.42 245.5,222.28 245.6,225.21 246,237.06 246.8,259.38 247.6,273.76 247.8,275.33 248,275.34 248.4,247.96 248.6,227.98 248.7,220.16 249.2,186.43 249.8,154 250,146.06 250.8,122.78 250.9,122.35 251.6,122.21 252.4,122.02 253.2,121.96 254,122.09 254.8,122.16 255,122.08 255.6,123.26 256,124.51 256.4,125.08 257.2,122.92 257.3,122.77 258,122.53 258.8,122.36 259.6,122.26 260.4,122.11 261.2,121.89 262,121.84 262.8,121.93 263.6,121.91 264.4,121.79 265.2,121.65 266,121.46 266.8,121.28 267.5,121.16 267.6,121.14 268,120.76 268.4,120.24 269.2,119.21 269.8,118.88 270,118.97 270.8,120.85 271.6,123.21 272,123.8 272.4,124.04 273.2,124.44 274,124.72 274.8,124.86 275.6,125.03 276.4,125.27 277.2,125.49 278,125.63 278.8,125.66 279.6,125.77 280.4,125.93 281.2,125.96 282,125.97 282.1,125.95 282.8,125.89 283.6,125.76 284.4,125.53 285.2,125.32 286,125.11 286.8,124.71 287.6,124.24 288.4,123.84 289.2,123.44 290,122.95 290.8,122.48 291.6,122.07 292,121.84 292.2,121.74 292.4,121.69 293.2,121.33 294,120.92 294.8,120.46 295.6,120.02 296.4,119.62 297.2,119.17 298,118.68 298.8,118.11 299.6,117.83 300.4,117.56 301.2,117.07 302,116.51 302.8,115.86 303.6,115.2 304.2,114.91 304.4,114.64 305,114 305.2,113.81 306,113.29 306.8,112.98 307.6,112.08 308.4,110.83 309.2,110.06 310,109.51 310.8,108.93 311.6,108.42 312.4,107.84 313.2,107 313.4,106.5 314,105.6 314.8,104.81 315.6,103.48 316.4,101.67 317.2,100.5 318,99.7 318.8,98.94 319.6,98.36 320.4,97.63 320.7,97.09 321.2,96.38 321.6,96.09 322,96.32 322.6,96.77 322.8,96.77 323.6,97.4 324.4,98.75 325.2,100.69 325.3,101.11 326,103.78 326.8,108.21 327,109.24 327.1,109.84 327.6,111.9 328.4,114.72 329,116.66 329.2,117.41 330,120.52 330.8,123.07 331.6,124.46 331.7,124.35 332.4,124.59 333.2,125.19 333.6,125.48 334,125.64 334.8,125.82 335,125.94 335.6,126.09 336.4,126.12 337.2,126.15 338,126.42 338.8,126.76 339.6,126.94 339.7,127.14 340,126.86 340.4,126.03 341.2,123.91 342,121.67 342.1,121.63 342.8,120.03 343.6,117.52 344.4,115.24 344.6,114.57 345.2,114.8 346,116.21 346.8,118.22 347,118.57 347.6,120.02 348.4,122.78 348.9,123.94 349,123.84 349.2,123.63 349.5,123.75 350,123.44 350.8,122.38 351.6,121.8 351.9,121.65 352,121.19 352.4,120.62 353.2,119.28 354,118.19 354.4,118.05 354.8,117.97 355.6,118.27 356.4,118.96 357.2,119.61 357.4,119.39 357.5,119.05 358,119.56 358.8,120.14 359.6,120.08 360,119.49 360.4,119.17 360.5,119.66 361.2,120.69 361.7,121.22 362,121.14 362.8,122.18 363,122.52 363.6,123.24 364.4,124.78 365.2,126.28 365.4,126.6 366,126.54 366.6,125.9 366.8,125.29 367.2,125.09 367.6,125.59 368.4,128.66 368.5,129.25 369.1,142.55 369.2,146.09 369.3,149.94 370,220.14 370.2,228.72 370.8,218.86 370.9,215.94 371.5,197.8 371.6,195.12 372.4,170.66 373.2,147.88 373.4,143.67 374,133.46 374.5,127.07 374.8,124.24 375,122.82 375.2,121.71 375.6,119.58 376.1,117.37 376.4,116.26 377,114.28 377.2,113.56 378,111.17 378.8,109.05 379.6,106.84 379.8,106.26 380.4,104.4 381.2,101.76 382,99.09 382.2,98.43 382.8,96.78 383.5,95.06 383.6,94.74 384.4,93.39 384.7,93.03 385.2,92.4 386,91.41 386.8,90.37 387.1,90.01 387.6,89.05 388.4,87.29 389.2,85.56 389.6,84.71 390,83.53 390.6,81.35 390.8,84.62 391.2,107.63 391.4,129.94 391.5,135.82 391.6,132.34 391.9,107.12 392.3,88.21 392.4,84.74 393.2,66.7 393.3,66.15 394,64.28 394.8,62.94 395.6,61.54 395.7,61.09 396.3,60.25 396.4,60.21 396.9,59.58 397.2,59.14 398,58.67 398.2,58.63 398.8,59.2 399.6,60.64 400,61.75 400.4,63.66 401.2,67.92 401.8,69.47 402,69.27 402.8,68.93 403.6,68.8 404.3,68.75 404.4,68.77 405.2,70.37 405.5,71.43 406,73.33 406.1,73.7 406.7,77.31 406.8,78.25 407.6,85.7 408,89.27 408.4,92.49 409.2,99.94 410,105.56 410.4,106.51 410.8,106.17 411.6,104.44 412.2,103.68 412.4,103.78 413.2,106.99 414,111.49 414.1,112.05 414.8,115.2 415.6,118.94 416.4,122.8 416.5,123.28 416.6,123.8 417.2,126.83 417.7,129.41 418,130.96 418.8,134.7 419.6,138.1 420.4,141.61 421,144.21 421.2,144.97 422,148.14 422.8,151.32 423.2,152.95 423.6,154.55 424.3,157.4 424.4,157.87 425.2,161 425.4,161.76 426,164.15 426.8,167.45 427.6,170.65 428.4,173.35 428.6,173.87 429.2,175.4 430,177.35 430.8,179.06 431.6,180.33 431.9,180.64 432.4,181 433,181.25 433.2,181.18 434,180.46 434.8,179.39 435.6,178.42 436.3,177.94 436.4,177.85 437.2,178.06 438,178.5 438.5,178.71 438.8,178.7 439.1,178.7 439.6,178.54 440.4,177.37 441.2,175.56 442,173.61 442.8,171.76 442.9,171.5 443.6,170.04 444,169.24 444.4,168.45 445.2,166.72 446,164.87 446.8,163 447.3,161.92 447.6,161.25 448.4,159.03 448.9,157.88 449.2,157.68 449.5,157.93 450,162.16 450.8,175.52 451.1,179.14 451.4,180.48 451.6,179.96 451.7,179.36 452.4,171.13 453.2,159.63 453.3,158.54 454,150.82 454.8,143.1 455,141.75 455.6,138.34 456.4,135.16" fill="none" stroke="#35359a" stroke-width="0.9" stroke-linejoin="round" />
<polyline points="54,159.64 54.8,159.71 55.6,159.75 56.4,159.64 57.2,159.5 58,159.7 58.8,159.98 59.6,159.85 60,159.74 60.4,159.8 61.2,159.68 62,159.7 62.8,159.81 63.6,159.79 64.4,159.72 65.2,159.43 66,159.23 66.8,159.46 67.6,159.66 68.4,159.73 69.2,159.92 70,160.06 70.8,160.17 71.6,160.43 72,160.51 72.4,160.25 73.2,159.98 74,159.97 74.8,160.04 75.6,160.12 76.4,160.44 77.2,160.5 78,160.33 78.8,160.27 79.6,160.08 80.4,160.04 81.2,160.14 82,160.1 82.2,160.13 82.8,161.5 83.4,163.85 83.6,164.51 84,165.22 84.4,164.9 84.6,164.29 85.2,162.77 86,161.1 86.4,160.81 86.8,160.68 87.1,160.7 87.6,160.96 88.4,161.93 89.2,162.86 90,163.88 90.1,164 90.7,165.78 90.8,166.22 91.6,170.9 92.4,176.71 93.2,182.08 94,187.27 94.8,192.69 95.6,196.65 96.2,197.54 96.4,197.24 97.2,194.38 98,189.47 98.8,183.75 99.3,180.35 99.6,178.35 100.4,171.86 100.5,170.95 101.2,164.85 102,158.5 102.8,153.83 103,153.11 103.6,151.3 104.4,148.93 105.2,146.91 106,145.37 106.8,144.34 107.5,143.91 107.6,143.89 108,143.85 108.4,144.18 109.2,145.38 110,146.88 110.8,148.99 111.6,152.02 112.4,155.71 113,158.82 113.2,159.98 113.9,163.85 114,164.35 114.8,169.36 115.6,174.94 116.2,179.2 116.4,180.65 117.2,186.14 118,191.33 118.5,194.4 118.8,196.15 119.6,200.74 120,203.01 120.4,205.22 120.5,205.81 121.2,209.78 122,214.25 122.8,218.78 123.2,221.13 123.6,223.49 124.1,226.35 124.4,227.96 125.2,231.98 126,235.5 126.8,238.61 127.3,240.54 127.6,241.75 128.3,244.3 128.4,244.64 129.2,247.37 130,249.9 130.1,250.14 130.8,252.28 131.6,254.89 132.4,257.34 133.2,259.33 134,260.8 134.5,261.26 134.8,261.23 135.6,261.05 136.4,260.47 136.5,260.31 137.2,259.4 138,258.25 138.8,256.91 139.6,255.34 139.7,255.03 139.8,254.75 140,254.35 140.4,253.39 141.2,250.79 142,247.63 142.8,243.96 143.6,239.78 144.4,235.37 144.9,232.6 145.2,230.87 145.5,229.08 146,226.06 146.8,220.66 147.6,214.59 148.2,209.74 148.4,208.13 149.2,201.35 150,194.38 150.8,187.46 151.1,184.92 151.6,180.4 152.4,172.77 153.2,164.77 154,156.72 154.8,148.78 155.5,141.89 155.6,140.95 155.8,139.04 156.4,132.98 157.2,124.77 158,116.84 158.8,109.56 159.5,104.04 159.6,103.3 160,100.35 160.4,97.49 161.2,92.8 161.6,91.26 162,90.07 162.8,87.85 163.6,85.99 164,85.26 164.4,84.74 165.2,84.07 165.7,83.92 166,83.97 166.8,84.51 167,84.68 167.6,85.16 168.4,85.93 169.2,86.74 170,87.52 170.8,88.37 171.6,89.24 172,89.64 172.4,89.89 172.7,90.06 173.2,90.41 174,90.87 174.7,91.18 174.8,91.22 175.6,91.55 176.4,91.92 177.2,92.15 178,92.25 178.8,92.31 179.6,92.4 180,92.54 180.4,92.78 181.2,92.99 182,93.13 182.8,93.33 183.6,93.55 183.7,93.51 184.4,93.79 185.2,94.22 186,94.53 186.8,94.94 187.6,95.48 188.4,96.03 189.2,96.5 190,96.94 190.8,97.47 191.6,98.01 192.4,98.48 193.2,99.01 194,99.65 194.8,100.3 194.9,100.39 195.6,100.88 196.4,101.47 197.2,102.11 198,102.74 198.8,103.32 199.6,103.76 200,103.94 200.4,104.25 201.2,104.8 202,105.31 202.8,105.81 203.6,106.3 204.4,106.79 205.2,107.27 206,107.71 206.8,108.03 207.6,108.38 208.4,108.99 209.2,109.63 210,110.01 210.8,110.39 211.6,110.86 212.2,111.19 212.4,111.32 213.2,111.85 214,112.39 214.8,112.82 215.6,113.21 216.4,113.66 217.2,114.07 217.3,114.09 218,114.51 218.8,114.97 219.6,115.44 220.4,115.93 221.2,116.44 222,116.94 222.8,117.35 223.6,117.75 224.4,118.24 224.5,118.33 225.2,118.73 226,119.2 226.8,119.71 227.6,120.22 228.4,120.74 229.2,121.25 230,121.76 230.8,122.25 231.6,122.82 231.8,123.1 232.4,123.74 233.2,124.26 234,124.26 234.8,124.14 235,124.08 235.3,124.04 235.6,123.94 236.4,123.93 236.7,123.98 237.2,124.03 238,124.3 238.8,124.67 239.6,125.15 240.4,125.69 241,126.13 241.2,126.37 242,127.67 242.2,128.12 242.8,135.13 243.6,153.7 243.7,156.21 243.8,159.05 244.4,181.33 245.2,213.39 245.4,219.71 245.5,222.52 245.6,225.39 246,237.32 246.8,259.98 247.6,274.65 247.8,276.14 248,276.25 248.4,248.45 248.6,227.94 248.7,219.92 249.2,186.23 249.8,154.09 250,146.16 250.8,122.9 250.9,122.43 251.6,122.21 252.4,122.08 253.2,121.99 254,121.9 254.8,121.98 255,122.1 255.6,123.29 256,124.44 256.4,125.01 257.2,122.79 257.3,122.64 258,122.43 258.8,122.32 259.6,122.18 260.4,122.01 261.2,121.81 262,121.72 262.8,121.85 263.6,121.83 264.4,121.6 265.2,121.52 266,121.5 266.8,121.33 267.5,121.12 267.6,121.04 268,120.72 268.4,120.29 269.2,119.22 269.8,118.73 270,118.78 270.8,120.82 271.6,123.25 272,123.84 272.4,124.11 273.2,124.41 274,124.64 274.8,124.93 275.6,125.13 276.4,125.27 277.2,125.39 278,125.44 278.8,125.57 279.6,125.8 280.4,125.91 281.2,125.91 282,125.95 282.1,126 282.8,125.97 283.6,125.87 284.4,125.73 285.2,125.4 286,124.98 286.8,124.57 287.6,124.13 288.4,123.75 289.2,123.37 290,122.93 290.8,122.39 291.6,121.8 292,121.59 292.2,121.6 292.4,121.58 293.2,121.23 294,120.81 294.8,120.39 295.6,120 296.4,119.58 297.2,119.08 298,118.51 298.8,117.84 299.6,117.57 300.4,117.2 301.2,116.6 302,115.92 302.8,115.1 303.6,114.59 304.2,114.32 304.4,114.27 305,114.05 305.2,113.78 306,112.69 306.8,111.9 307.6,111.33 308.4,110.6 309.2,109.76 310,109.1 310.8,108.64 311.6,107.92 312.4,107.09 313.2,105.93 313.4,105.25 314,104.67 314.8,103.86 315.6,102.78 316.4,101.59 317.2,100.49 318,99.27 318.8,97.7 319.6,96.85 320.4,96.82 320.7,96.66 321.2,96.09 321.6,96.2 322,96.15 322.6,95.93 322.8,96.12 323.6,97.32 324.4,98.86 325.2,100.7 325.3,100.88 326,103.46 326.8,107.65 327,108.37 327.1,109.17 327.6,111.9 328.4,115.01 329,116.59 329.2,116.8 330,119.59 330.8,122.37 331.6,124.03 331.7,124.42 332.4,125.04 333.2,125.19 333.6,125.4 334,125.7 334.8,125.99 335,125.93 335.6,126.02 336.4,126.4 337.2,126.69 338,126.18 338.8,126.29 339.6,126.89 339.7,126.71 340,126.2 340.4,125.86 341.2,124.44 342,122.48 342.1,122.03 342.8,119.36 343.6,116.28 344.4,115 344.6,115.24 345.2,115.44 346,116.59 346.8,118.34 347,118.8 347.6,120.1 348.4,122.47 348.9,123.53 349,123.48 349.2,123.39 349.5,123.43 350,123.01 350.8,121.81 351.6,120.8 351.9,120.61 352,120.44 352.4,119.77 353.2,117.73 354,116.21 354.4,116.42 354.8,116.89 355.6,117.25 356.4,117.42 357.2,117.91 357.4,118.45 357.5,118.59 358,118.51 358.8,118.38 359.6,118.43 360,118.76 360.4,119.06 360.5,119.14 361.2,119.25 361.7,119.68 362,120.58 362.8,122.13 363,121.73 363.6,122.14 364.4,124.53 365.2,126.52 365.4,126.68 366,126.45 366.6,125.63 366.8,125.06 367.2,124.86 367.6,125.37 368.4,128.61 368.5,129.11 369.1,142.34 369.2,146.02 369.3,150 370,220.89 370.2,229.49 370.8,219.56 370.9,216.68 371.5,198.35 371.6,195.69 372.4,171.08 373.2,148.13 373.4,143.85 374,133.63 374.5,127.29 374.8,124.47 375,122.95 375.2,121.59 375.6,119.33 376.1,117.13 376.4,115.94 377,113.79 377.2,113.14 378,110.82 378.8,108.63 379.6,106.29 379.8,105.72 380.4,103.84 381.2,101.05 382,98.3 382.2,97.7 382.8,95.92 383.5,94.17 383.6,93.96 384.4,92.53 384.7,92.1 385.2,91.48 386,90.5 386.8,89.29 387.1,88.73 387.6,87.69 388.4,85.73 389.2,83.6 389.6,82.51 390,81.27 390.6,79.12 390.8,82.6 391.2,106.39 391.4,129.84 391.5,136.04 391.6,132.25 391.9,105.81 392.3,86.36 392.4,82.83 393.2,64.07 393.3,63.59 394,61.08 394.8,59.11 395.6,58.14 395.7,58.45 396.3,57.35 396.4,56.76 396.9,56.34 397.2,56.14 398,55.56 398.2,55.49 398.8,55.97 399.6,57.49 400,58.35 400.4,59.84 401.2,64.32 401.8,66.22 402,66.58 402.8,66.7 403.6,66.38 404.3,66.35 404.4,66.5 405.2,68.21 405.5,69.1 406,70.36 406.1,70.5 406.7,74.81 406.8,76.14 407.6,83.66 408,87 408.4,90.59 409.2,98.83 410,104.93 410.4,105.86 410.8,105.4 411.6,103.64 412.2,102.87 412.4,102.97 413.2,106.48 414,111.31 414.1,111.81 414.8,115.13 415.6,119.01 416.4,122.91 416.5,123.4 416.6,123.87 417.2,126.88 417.7,129.47 418,130.97 418.8,134.84 419.6,138.46 420.4,141.92 421,144.5 421.2,145.41 422,148.93 422.8,152.32 423.2,153.93 423.6,155.58 424.3,158.46 424.4,158.9 425.2,162.25 425.4,163.05 426,165.55 426.8,168.98 427.6,172.21 428.4,175.01 428.6,175.6 429.2,177.33 430,179.54 430.8,181.24 431.6,182.41 431.9,182.79 432.4,183.15 433,183.36 433.2,183.31 434,182.53 434.8,181.37 435.6,180.33 436.3,179.9 436.4,179.91 437.2,180.16 438,180.58 438.5,180.76 438.8,180.82 439.1,180.78 439.6,180.41 440.4,179.23 441.2,177.45 442,175.38 442.8,173.44 442.9,173.22 443.6,171.73 444,170.83 444.4,169.94 445.2,168.11 446,166.25 446.8,164.45 447.3,163.29 447.6,162.51 448.4,160.26 448.9,159.09 449.2,158.63 449.5,158.6 450,162.96 450.8,177 451.1,180.94 451.4,182.38 451.6,181.8 451.7,181.18 452.4,172.62 453.2,160.58 453.3,159.4 454,151.49 454.8,143.62 455,142.22 455.6,138.55 456.4,135.18" fill="none" stroke="#2f8f55" stroke-width="0.9" stroke-linejoin="round" />
<polyline points="54,161.23 54.8,161.56 55.6,161.74 56.4,161.71 57.2,161.81 58,161.62 58.8,161.37 59.6,161.75 60,162.14 60.4,162.12 61.2,162.01 62,161.72 62.8,161.24 63.6,161.01 64.4,161.15 65.2,161.26 66,161.21 66.8,161.34 67.6,161.69 68.4,161.75 69.2,161.46 70,161.47 70.8,161.74 71.6,161.69 72,161.78 72.4,162.27 73.2,162.34 74,161.99 74.8,161.82 75.6,161.91 76.4,162.01 77.2,162.15 78,162.24 78.8,162.2 79.6,162.13 80.4,162.02 81.2,161.82 82,161.71 82.2,161.92 82.8,163.52 83.4,166.07 83.6,166.4 84,166.81 84.4,166.81 84.6,166.42 85.2,164.91 86,163.42 86.4,163.42 86.8,163.46 87.1,163.27 87.6,163.41 88.4,163.99 89.2,164.8 90,165.86 90.1,166.04 90.7,167.92 90.8,168.36 91.6,173.22 92.4,179.25 93.2,184.82 94,190.22 94.8,195.74 95.6,199.78 96.2,200.75 96.4,200.5 97.2,197.61 98,192.56 98.8,186.68 99.3,183.17 99.6,181.04 100.4,174.22 100.5,173.28 101.2,166.82 102,160.15 102.8,155.32 103,154.49 103.6,152.54 104.4,150.23 105.2,148.19 106,146.56 106.8,145.46 107.5,144.99 107.6,144.97 108,144.91 108.4,145.31 109.2,146.66 110,148.38 110.8,150.76 111.6,154.12 112.4,158.14 113,161.39 113.2,162.44 113.9,166.54 114,167.18 114.8,172.36 115.6,178.16 116.2,182.67 116.4,184.24 117.2,190.43 118,196.2 118.5,199.54 118.8,201.61 119.6,206.76 120,209.27 120.4,211.75 120.5,212.34 121.2,216.6 122,221.45 122.8,226.2 123.2,228.5 123.6,230.95 124.1,234.11 124.4,235.96 125.2,240.46 126,244.48 126.8,248.12 127.3,250.27 127.6,251.48 128.3,254.22 128.4,254.55 129.2,257.52 130,260.35 130.1,260.79 130.8,263.09 131.6,265.75 132.4,268.32 133.2,270.53 134,272.11 134.5,272.69 134.8,272.79 135.6,272.49 136.4,271.8 136.5,271.63 137.2,270.66 138,269.4 138.8,267.79 139.6,266.07 139.7,265.9 139.8,265.66 140,265.12 140.4,264.05 141.2,261.33 142,257.99 142.8,254.01 143.6,249.41 144.4,244.54 144.9,241.56 145.2,239.76 145.5,237.79 146,234.47 146.8,228.62 147.6,222.04 148.2,216.84 148.4,215.11 149.2,207.88 150,200.45 150.8,192.98 151.1,190.08 151.6,185.27 152.4,177.34 153.2,169.14 154,160.75 154.8,152.26 155.5,144.93 155.6,143.93 155.8,141.92 156.4,135.57 157.2,126.79 158,118.17 158.8,110.3 159.5,104.35 159.6,103.64 160,100.59 160.4,97.48 161.2,92.25 161.6,90.59 162,89.39 162.8,87.02 163.6,84.99 164,84.1 164.4,83.32 165.2,82.5 165.7,82.46 166,82.51 166.8,82.92 167,83.05 167.6,83.46 168.4,84.32 169.2,85.31 170,86.06 170.8,86.76 171.6,87.53 172,87.84 172.4,88.16 172.7,88.37 173.2,88.74 174,89.32 174.7,89.58 174.8,89.55 175.6,89.74 176.4,89.81 177.2,89.86 178,89.96 178.8,90.06 179.6,90.17 180,90.22 180.4,90.26 181.2,90.38 182,90.51 182.8,90.63 183.6,90.76 183.7,90.74 184.4,90.84 185.2,91.15 186,91.66 186.8,92.2 187.6,92.81 188.4,93.43 189.2,94.02 190,94.61 190.8,95.17 191.6,95.74 192.4,96.43 193.2,97.16 194,97.85 194.8,98.5 194.9,98.51 195.6,99.14 196.4,99.91 197.2,100.55 198,101.17 198.8,101.79 199.6,102.33 200,102.63 200.4,102.96 201.2,103.56 202,104.16 202.8,104.7 203.6,105.18 204.4,105.64 205.2,106.16 206,106.71 206.8,107.25 207.6,107.75 208.4,108.24 209.2,108.8 210,109.35 210.8,109.75 211.6,110.2 212.2,110.67 212.4,110.83 213.2,111.28 214,111.69 214.8,112.1 215.6,112.62 216.4,113.2 217.2,113.74 217.3,113.8 218,114.19 218.8,114.59 219.6,115 220.4,115.44 221.2,115.9 222,116.45 222.8,116.99 223.6,117.43 224.4,117.99 224.5,118.14 225.2,118.58 226,119.08 226.8,119.59 227.6,120.05 228.4,120.54 229.2,121.18 230,121.74 230.8,122.25 231.6,122.85 231.8,123.05 232.4,123.68 233.2,124.19 234,124.08 234.8,124.02 235,124.07 235.3,124 235.6,123.93 236.4,123.83 236.7,123.84 237.2,123.89 238,124.15 238.8,124.61 239.6,125.07 240.4,125.64 241,126.18 241.2,126.27 242,127.38 242.2,127.92 242.8,135.16 243.6,153.89 243.7,156.46 243.8,159.38 244.4,181.61 245.2,213.57 245.4,219.94 245.5,222.8 245.6,225.73 246,237.98 246.8,261.41 247.6,276.81 247.8,278.45 248,278.68 248.4,249.68 248.6,228.25 248.7,219.94 249.2,185.89 249.8,154.03 250,146.05 250.8,122.72 250.9,122.3 251.6,122.1 252.4,121.88 253.2,121.73 254,121.81 254.8,121.94 255,121.87 255.6,123.03 256,124.3 256.4,125.02 257.2,122.63 257.3,122.42 258,122.01 258.8,121.79 259.6,121.89 260.4,121.9 261.2,121.69 262,121.59 262.8,121.62 263.6,121.62 264.4,121.52 265.2,121.36 266,121.24 266.8,121.13 267.5,120.99 267.6,120.99 268,120.61 268.4,119.94 269.2,118.73 269.8,118.37 270,118.51 270.8,120.52 271.6,123.02 272,123.6 272.4,123.83 273.2,124.25 274,124.52 274.8,124.75 275.6,124.99 276.4,125.19 277.2,125.41 278,125.63 278.8,125.81 279.6,125.85 280.4,125.84 281.2,125.92 282,125.95 282.1,125.85 282.8,125.68 283.6,125.6 284.4,125.53 285.2,125.29 286,124.91 286.8,124.52 287.6,124.08 288.4,123.57 289.2,123.16 290,122.76 290.8,122.28 291.6,121.81 292,121.61 292.2,121.52 292.4,121.42 293.2,120.93 294,120.43 294.8,120.01 295.6,119.63 296.4,119.16 297.2,118.62 298,118.1 298.8,117.81 299.6,117.03 300.4,115.94 301.2,115.02 302,114.2 302.8,113.7 303.6,113.66 304.2,113.43 304.4,113.18 305,112.64 305.2,112.68 306,112.25 306.8,111.65 307.6,111.34 308.4,110.52 309.2,109.11 310,108.17 310.8,107.54 311.6,106.92 312.4,106.18 313.2,105.19 313.4,104.55 314,103.31 314.8,102.02 315.6,100.89 316.4,99.69 317.2,98.38 318,97.38 318.8,96.42 319.6,95.13 320.4,93.92 320.7,93.55 321.2,93.39 321.6,93.66 322,94.16 322.6,94.43 322.8,94.3 323.6,95.21 324.4,96.59 325.2,98.19 325.3,98.33 326,101.71 326.8,106.89 327,107.88 327.1,108.17 327.6,110.18 328.4,113.56 329,116.02 329.2,116.93 330,120.09 330.8,122.81 331.6,124.14 331.7,123.92 332.4,124.56 333.2,125.18 333.6,125.39 334,125.61 334.8,125.87 335,125.96 335.6,126.13 336.4,126.02 337.2,125.64 338,126.35 338.8,127.32 339.6,126.96 339.7,126.51 340,126.69 340.4,126.25 341.2,123.89 342,121.41 342.1,121.23 342.8,118.83 343.6,115.47 344.4,113.71 344.6,114.2 345.2,115.1 346,116.59 346.8,117.83 347,118.22 347.6,120.02 348.4,122.23 348.9,122.98 349,122.77 349.2,122.57 349.5,122.86 350,122.25 350.8,120.62 351.6,119.62 351.9,119.71 352,119.35 352.4,117.82 353.2,115.08 354,113.37 354.4,113.24 354.8,113.31 355.6,114.15 356.4,114.84 357.2,114.93 357.4,115.23 357.5,115.57 358,115.35 358.8,115.57 359.6,116.12 360,115.99 360.4,115.69 360.5,115.59 361.2,116.41 361.7,117.61 362,118.19 362.8,119.75 363,120.08 363.6,122.05 364.4,124.69 365.2,126.43 365.4,126.83 366,126.4 366.6,125.39 366.8,124.57 367.2,124.41 367.6,125.02 368.4,128.6 368.5,129.18 369.1,142.45 369.2,146.05 369.3,149.95 370,222.22 370.2,231.06 370.8,220.95 370.9,217.99 371.5,199.2 371.6,196.45 372.4,171.77 373.2,148.88 373.4,144.57 374,134.06 374.5,127.62 374.8,124.81 375,123.19 375.2,121.65 375.6,119.06 376.1,116.48 376.4,115.07 377,112.58 377.2,111.87 378,109.2 378.8,106.72 379.6,104.19 379.8,103.56 380.4,101.43 381.2,98.35 382,95.28 382.2,94.5 382.8,92.48 383.5,90.54 383.6,90.33 384.4,88.92 384.7,88.54 385.2,87.75 386,86.54 386.8,85.2 387.1,84.58 387.6,83.35 388.4,81.11 389.2,78.78 389.6,77.64 390,76.08 390.6,73.88 390.8,78.09 391.2,103.66 391.4,129.13 391.5,135.83 391.6,131.63 391.9,103.15 392.3,83.49 392.4,79.66 393.2,58.81 393.3,57.9 394,55.51 394.8,54.08 395.6,53.11 395.7,53.04 396.3,52 396.4,51.54 396.9,51.13 397.2,50.97 398,50.4 398.2,50.45 398.8,50.84 399.6,52.14 400,53.21 400.4,55.24 401.2,60.32 401.8,62.35 402,62.36 402.8,62.17 403.6,61.88 404.3,62.01 404.4,62.41 405.2,64.35 405.5,65 406,66.77 406.1,67.49 406.7,71.95 406.8,72.85 407.6,80.82 408,84.66 408.4,88.49 409.2,97.01 410,103.75 410.4,104.83 410.8,104.38 411.6,102.33 412.2,101.5 412.4,101.63 413.2,105.5 414,110.94 414.1,111.51 414.8,114.94 415.6,118.91 416.4,122.94 416.5,123.49 416.6,124.09 417.2,127.22 417.7,129.79 418,131.26 418.8,135.13 419.6,138.93 420.4,142.68 421,145.41 421.2,146.27 422,149.9 422.8,153.59 423.2,155.4 423.6,157.11 424.3,160.21 424.4,160.72 425.2,164.28 425.4,165.13 426,167.77 426.8,171.44 427.6,174.84 428.4,177.74 428.6,178.46 429.2,180.27 430,182.48 430.8,184.41 431.6,185.76 431.9,186.04 432.4,186.42 433,186.65 433.2,186.55 434,185.78 434.8,184.61 435.6,183.5 436.3,183.06 436.4,183.1 437.2,183.32 438,183.65 438.5,183.84 438.8,183.93 439.1,184 439.6,183.8 440.4,182.44 441.2,180.24 442,177.91 442.8,175.91 442.9,175.73 443.6,174.1 444,173.16 444.4,172.25 445.2,170.33 446,168.42 446.8,166.55 447.3,165.3 447.6,164.38 448.4,161.93 448.9,160.74 449.2,160.28 449.5,160.19 450,164.67 450.8,179.57 451.1,183.78 451.4,185.39 451.6,184.82 451.7,184.21 452.4,175.22 453.2,162.44 453.3,161.17 454,152.51 454.8,143.91 455,142.43 455.6,138.63 456.4,135.1" fill="none" stroke="#ffc040" stroke-width="0.9" stroke-linejoin="round" />
<polyline points="54,163.84 54.8,163.8 55.6,163.92 56.4,164.23 57.2,164.43 58,164.56 58.8,164.66 59.6,164.71 60,164.69 60.4,164.65 61.2,164.68 62,164.53 62.8,164.29 63.6,164.39 64.4,164.41 65.2,164.05 66,163.89 66.8,164.03 67.6,164.17 68.4,164.41 69.2,164.6 70,164.58 70.8,164.56 71.6,164.47 72,164.39 72.4,164.5 73.2,164.66 74,164.87 74.8,164.94 75.6,164.87 76.4,164.83 77.2,164.85 78,164.87 78.8,164.66 79.6,164.57 80.4,164.65 81.2,164.51 82,164.46 82.2,164.54 82.8,166 83.4,168.63 83.6,169.34 84,170.2 84.4,170.01 84.6,169.64 85.2,168.12 86,166.16 86.4,165.86 86.8,165.93 87.1,165.84 87.6,166.03 88.4,166.76 89.2,167.63 90,168.65 90.1,168.75 90.7,170.78 90.8,171.4 91.6,176.69 92.4,182.91 93.2,188.48 94,194.01 94.8,199.91 95.6,204.33 96.2,205.58 96.4,205.53 97.2,202.91 98,197.91 98.8,191.99 99.3,188.49 99.6,186.33 100.4,179.14 100.5,178.2 101.2,171.19 102,163.8 102.8,158.62 103,157.89 103.6,156.11 104.4,153.86 105.2,151.89 106,150.31 106.8,149.28 107.5,149.01 107.6,149.12 108,149.27 108.4,149.54 109.2,150.59 110,152.05 110.8,154.17 111.6,157.29 112.4,161.21 113,164.44 113.2,165.58 113.9,169.56 114,170.11 114.8,175.3 115.6,181.34 116.2,186.13 116.4,187.72 117.2,194.31 118,200.68 118.5,204.35 118.8,206.33 119.6,211.65 120,214.38 120.4,217.01 120.5,217.59 121.2,222.03 122,227.03 122.8,231.93 123.2,234.4 123.6,236.84 124.1,239.81 124.4,241.58 125.2,246.42 126,250.79 126.8,254.5 127.3,256.57 127.6,257.82 128.3,260.73 128.4,261.16 129.2,264.11 130,266.75 130.1,266.98 130.8,269.14 131.6,271.78 132.4,274.3 133.2,276.46 134,277.98 134.5,278.48 134.8,278.58 135.6,278.31 136.4,277.63 136.5,277.53 137.2,276.67 138,275.44 138.8,274.05 139.6,272.42 139.7,272.07 139.8,271.87 140,271.53 140.4,270.57 141.2,267.83 142,264.23 142.8,260.08 143.6,255.54 144.4,250.72 144.9,247.62 145.2,245.61 145.5,243.65 146,240.41 146.8,234.35 147.6,227.52 148.2,222.16 148.4,220.37 149.2,212.88 150,205.18 150.8,197.4 151.1,194.42 151.6,189.4 152.4,181.11 153.2,172.56 154,163.76 154.8,154.9 155.5,147.37 155.6,146.45 155.8,144.38 156.4,137.56 157.2,128.16 158,119.13 158.8,110.93 159.5,104.62 159.6,103.83 160,100.51 160.4,97.22 161.2,91.83 161.6,90.03 162,88.55 162.8,85.96 163.6,83.91 164,83.18 164.4,82.47 165.2,81.54 165.7,81.35 166,81.37 166.8,81.79 167,81.93 167.6,82.44 168.4,83.3 169.2,84.2 170,84.99 170.8,85.71 171.6,86.47 172,86.77 172.4,87.01 172.7,87.27 173.2,87.82 174,88.41 174.7,88.51 174.8,88.42 175.6,88.65 176.4,88.81 177.2,88.93 178,89.04 178.8,89.09 179.6,89.12 180,89.15 180.4,89.2 181.2,89.28 182,89.36 182.8,89.44 183.6,89.55 183.7,89.59 184.4,89.82 185.2,90.12 186,90.56 186.8,91.17 187.6,91.75 188.4,92.29 189.2,92.86 190,93.48 190.8,94.12 191.6,94.73 192.4,95.34 193.2,95.98 194,96.62 194.8,97.34 194.9,97.48 195.6,98.13 196.4,98.89 197.2,99.65 198,100.29 198.8,100.82 199.6,101.33 200,101.68 200.4,102.09 201.2,102.7 202,103.27 202.8,103.82 203.6,104.35 204.4,104.89 205.2,105.47 206,106.05 206.8,106.55 207.6,106.97 208.4,107.46 209.2,108.06 210,108.62 210.8,109.1 211.6,109.58 212.2,110 212.4,110.11 213.2,110.56 214,111.12 214.8,111.71 215.6,112.2 216.4,112.67 217.2,113.15 217.3,113.23 218,113.71 218.8,114.14 219.6,114.52 220.4,115 221.2,115.56 222,116.14 222.8,116.63 223.6,117.09 224.4,117.73 224.5,117.88 225.2,118.31 226,118.84 226.8,119.33 227.6,119.83 228.4,120.44 229.2,121.11 230,121.73 230.8,122.26 231.6,122.8 231.8,122.94 232.4,123.61 233.2,124.29 234,124.31 234.8,124.18 235,124.08 235.3,123.98 235.6,123.88 236.4,123.79 236.7,123.88 237.2,123.96 238,124.21 238.8,124.55 239.6,124.95 240.4,125.55 241,126.13 241.2,126.37 242,127.59 242.2,128.05 242.8,135.19 243.6,153.96 243.7,156.53 243.8,159.49 244.4,181.84 245.2,213.71 245.4,220.05 245.5,222.88 245.6,225.79 246,238.42 246.8,262.65 247.6,278.66 247.8,280.47 248,281.08 248.4,251.09 248.6,228.65 248.7,219.94 249.2,185.53 249.8,153.91 250,145.92 250.8,122.55 250.9,122.21 251.6,122.05 252.4,121.79 253.2,121.67 254,121.53 254.8,121.31 255,121.3 255.6,122.79 256,124.23 256.4,125.02 257.2,122.53 257.3,122.41 258,122.06 258.8,121.78 259.6,121.67 260.4,121.59 261.2,121.54 262,121.48 262.8,121.39 263.6,121.4 264.4,121.38 265.2,121.31 266,121.15 266.8,120.92 267.5,120.75 267.6,120.77 268,120.52 268.4,120.07 269.2,118.8 269.8,118.21 270,118.25 270.8,120.44 271.6,123.08 272,123.62 272.4,123.88 273.2,124.31 274,124.52 274.8,124.74 275.6,125.12 276.4,125.39 277.2,125.49 278,125.63 278.8,125.8 279.6,125.84 280.4,125.82 281.2,125.85 282,125.89 282.1,125.94 282.8,125.91 283.6,125.72 284.4,125.51 285.2,125.17 286,124.78 286.8,124.47 287.6,124.04 288.4,123.45 289.2,122.98 290,122.66 290.8,122.25 291.6,121.7 292,121.43 292.2,121.32 292.4,121.16 293.2,120.72 294,120.28 294.8,119.77 295.6,119.32 296.4,118.84 297.2,118.24 298,117.61 298.8,117.21 299.6,116.81 300.4,115.97 301.2,114.94 302,114.36 302.8,114.3 303.6,113.8 304.2,113.22 304.4,113.1 305,112.2 305.2,111.48 306,110.82 306.8,110.7 307.6,110.63 308.4,109.63 309.2,107.83 310,106.77 310.8,106.51 311.6,106.05 312.4,104.89 313.2,103.63 313.4,103.65 314,102.94 314.8,101.54 315.6,99.79 316.4,97.84 317.2,96.59 318,95.32 318.8,93.78 319.6,93.32 320.4,92.77 320.7,92.22 321.2,92.04 321.6,91.71 322,91.4 322.6,92.07 322.8,92.64 323.6,93.53 324.4,94.87 325.2,97.02 325.3,97.61 326,100.98 326.8,106.39 327,107.45 327.1,107.46 327.6,109.3 328.4,112.51 329,115.06 329.2,116.07 330,118.99 330.8,121.8 331.6,123.73 331.7,123.44 332.4,123.54 333.2,125.07 333.6,125.48 334,125.75 334.8,125.98 335,125.98 335.6,126.03 336.4,125.32 337.2,125.82 338,126.35 338.8,126.51 339.6,126.36 339.7,125.87 340,125.74 340.4,125.89 341.2,124.41 342,122.06 342.1,121.58 342.8,119.07 343.6,115.53 344.4,113.75 344.6,114.1 345.2,114.13 346,115.04 346.8,117.29 347,118.43 347.6,119.97 348.4,122.34 348.9,123.54 349,124.01 349.2,123.65 349.5,123.34 350,122.76 350.8,120.86 351.6,118.43 351.9,117.49 352,118.2 352.4,117.87 353.2,115.03 354,112.86 354.4,112.31 354.8,111.91 355.6,112.1 356.4,113 357.2,114.19 357.4,114.22 357.5,113.36 358,113.11 358.8,113.72 359.6,114.24 360,114.85 360.4,115.14 360.5,114.98 361.2,116.22 361.7,117.35 362,117.36 362.8,119.61 363,121.22 363.6,123.55 364.4,125.67 365.2,126.8 365.4,126.15 366,124.9 366.6,123.77 366.8,123.43 367.2,124.05 367.6,124.6 368.4,128.38 368.5,129.16 369.1,142.56 369.2,146.15 369.3,150.03 370,223.56 370.2,232.58 370.8,222.16 370.9,219.06 371.5,199.98 371.6,197.21 372.4,172.31 373.2,149.32 373.4,145.08 374,134.51 374.5,127.99 374.8,125.03 375,123.24 375.2,121.6 375.6,118.71 376.1,115.68 376.4,114.18 377,111.49 377.2,110.65 378,107.62 378.8,104.82 379.6,101.89 379.8,101.17 380.4,98.71 381.2,95.2 382,91.75 382.2,90.86 382.8,88.57 383.5,86.37 383.6,86.07 384.4,84.31 384.7,83.79 385.2,82.94 386,81.51 386.8,79.81 387.1,79.07 387.6,77.63 388.4,74.88 389.2,71.88 389.6,70.33 390,68.53 390.6,66.72 390.8,71.88 391.2,100.01 391.4,128.46 391.5,136.04 391.6,131.4 391.9,100.04 392.3,79.69 392.4,74.88 393.2,52.42 393.3,51.8 394,49.31 394.8,47.73 395.6,46.88 395.7,46.71 396.3,45.76 396.4,45.85 396.9,45.24 397.2,44.85 398,44.41 398.2,44.45 398.8,44.83 399.6,46.23 400,47.28 400.4,49.05 401.2,54.28 401.8,56.58 402,56.89 402.8,57.06 403.6,56.88 404.3,56.63 404.4,56.59 405.2,59.13 405.5,60.73 406,62.74 406.1,63.06 406.7,67.89 406.8,68.87 407.6,77.41 408,81.29 408.4,85.5 409.2,95.02 410,102.3 410.4,103.45 410.8,103.06 411.6,100.77 412.2,99.82 412.4,100.14 413.2,104.45 414,110.23 414.1,110.77 414.8,114.71 415.6,119.11 416.4,123.34 416.5,123.83 416.6,124.3 417.2,127.37 417.7,129.94 418,131.47 418.8,135.42 419.6,139.36 420.4,143.28 421,146.19 421.2,147.17 422,151 422.8,154.83 423.2,156.82 423.6,158.68 424.3,161.84 424.4,162.27 425.2,166 425.4,166.91 426,169.77 426.8,173.75 427.6,177.46 428.4,180.62 428.6,181.34 429.2,183.17 430,185.43 430.8,187.3 431.6,188.58 431.9,188.92 432.4,189.35 433,189.55 433.2,189.44 434,188.64 434.8,187.31 435.6,186.08 436.3,185.67 436.4,185.71 437.2,185.95 438,186.42 438.5,186.67 438.8,186.75 439.1,186.81 439.6,186.58 440.4,185.2 441.2,182.95 442,180.41 442.8,178.23 442.9,178.03 443.6,176.21 444,175.17 444.4,174.26 445.2,172.29 446,170.22 446.8,168.21 447.3,166.98 447.6,166.15 448.4,163.57 448.9,162.18 449.2,161.64 449.5,161.52 450,166.12 450.8,181.75 451.1,186.15 451.4,187.84 451.6,187.24 451.7,186.62 452.4,177.37 453.2,164 453.3,162.66 454,153.64 454.8,144.54 455,142.89 455.6,138.79 456.4,135" fill="none" stroke="#ff6262" stroke-width="0.9" stroke-linejoin="round" />
</g>
<line x1="54.3" y1="31.2" x2="456.6" y2="31.2" stroke="#6a6a6a" stroke-width="1.5" />
<line x1="456.6" y1="31.2" x2="456.6" y2="296.9" stroke="#444" stroke-width="1.2" />
<line x1="53.8" y1="296.9" x2="457.2" y2="296.9" stroke="#3c3c3c" stroke-width="1.3" />
<line x1="54.3" y1="31.2" x2="54.3" y2="296.9" stroke="#c4c4c4" stroke-width="1" />
<line x1="54.3" y1="31.2" x2="54.3" y2="296.9" stroke="#8a8a8a" stroke-width="1" stroke-dasharray="1,1.6"/>
<line x1="58.9" y1="296.9" x2="58.9" y2="299.5" stroke="#444" stroke-width="1" />
<line x1="71" y1="296.9" x2="71" y2="299.5" stroke="#444" stroke-width="1" />
<line x1="83.1" y1="296.9" x2="83.1" y2="299.5" stroke="#444" stroke-width="1" />
<line x1="95.2" y1="296.9" x2="95.2" y2="299.5" stroke="#444" stroke-width="1" />
<line x1="107.3" y1="296.9" x2="107.3" y2="301.4" stroke="#444" stroke-width="1" />
<line x1="119.4" y1="296.9" x2="119.4" y2="299.5" stroke="#444" stroke-width="1" />
<line x1="131.5" y1="296.9" x2="131.5" y2="299.5" stroke="#444" stroke-width="1" />
<line x1="143.6" y1="296.9" x2="143.6" y2="299.5" stroke="#444" stroke-width="1" />
<line x1="155.7" y1="296.9" x2="155.7" y2="299.5" stroke="#444" stroke-width="1" />
<line x1="167.8" y1="296.9" x2="167.8" y2="301.4" stroke="#444" stroke-width="1" />
<line x1="179.9" y1="296.9" x2="179.9" y2="299.5" stroke="#444" stroke-width="1" />
<line x1="192" y1="296.9" x2="192" y2="299.5" stroke="#444" stroke-width="1" />
<line x1="204.1" y1="296.9" x2="204.1" y2="299.5" stroke="#444" stroke-width="1" />
<line x1="216.2" y1="296.9" x2="216.2" y2="299.5" stroke="#444" stroke-width="1" />
<line x1="228.3" y1="296.9" x2="228.3" y2="301.4" stroke="#444" stroke-width="1" />
<line x1="240.4" y1="296.9" x2="240.4" y2="299.5" stroke="#444" stroke-width="1" />
<line x1="252.5" y1="296.9" x2="252.5" y2="299.5" stroke="#444" stroke-width="1" />
<line x1="264.6" y1="296.9" x2="264.6" y2="299.5" stroke="#444" stroke-width="1" />
<line x1="276.7" y1="296.9" x2="276.7" y2="299.5" stroke="#444" stroke-width="1" />
<line x1="288.8" y1="296.9" x2="288.8" y2="301.4" stroke="#444" stroke-width="1" />
<line x1="300.9" y1="296.9" x2="300.9" y2="299.5" stroke="#444" stroke-width="1" />
<line x1="313" y1="296.9" x2="313" y2="299.5" stroke="#444" stroke-width="1" />
<line x1="325.1" y1="296.9" x2="325.1" y2="299.5" stroke="#444" stroke-width="1" />
<line x1="337.2" y1="296.9" x2="337.2" y2="299.5" stroke="#444" stroke-width="1" />
<line x1="349.3" y1="296.9" x2="349.3" y2="301.4" stroke="#444" stroke-width="1" />
<line x1="361.4" y1="296.9" x2="361.4" y2="299.5" stroke="#444" stroke-width="1" />
<line x1="373.5" y1="296.9" x2="373.5" y2="299.5" stroke="#444" stroke-width="1" />
<line x1="385.6" y1="296.9" x2="385.6" y2="299.5" stroke="#444" stroke-width="1" />
<line x1="397.7" y1="296.9" x2="397.7" y2="299.5" stroke="#444" stroke-width="1" />
<line x1="409.8" y1="296.9" x2="409.8" y2="301.4" stroke="#444" stroke-width="1" />
<line x1="421.9" y1="296.9" x2="421.9" y2="299.5" stroke="#444" stroke-width="1" />
<line x1="434" y1="296.9" x2="434" y2="299.5" stroke="#444" stroke-width="1" />
<line x1="446.1" y1="296.9" x2="446.1" y2="299.5" stroke="#444" stroke-width="1" />
<text x="107.3" y="310.3" font-family='"Liberation Sans", sans-serif' font-size="8.4" fill="#333" text-anchor="middle" >3500</text>
<text x="167.8" y="310.3" font-family='"Liberation Sans", sans-serif' font-size="8.4" fill="#333" text-anchor="middle" >3000</text>
<text x="228.3" y="310.3" font-family='"Liberation Sans", sans-serif' font-size="8.4" fill="#333" text-anchor="middle" >2500</text>
<text x="288.8" y="310.3" font-family='"Liberation Sans", sans-serif' font-size="8.4" fill="#333" text-anchor="middle" >2000</text>
<text x="349.3" y="310.3" font-family='"Liberation Sans", sans-serif' font-size="8.4" fill="#333" text-anchor="middle" >1500</text>
<text x="409.8" y="310.3" font-family='"Liberation Sans", sans-serif' font-size="8.4" fill="#333" text-anchor="middle" >1000</text>
<line x1="127.47" y1="31.2" x2="127.47" y2="35.5" stroke="#444" stroke-width="1" />
<line x1="185.09" y1="31.2" x2="185.09" y2="33.8" stroke="#444" stroke-width="1" />
<line x1="228.3" y1="31.2" x2="228.3" y2="35.5" stroke="#444" stroke-width="1" />
<line x1="261.91" y1="31.2" x2="261.91" y2="33.8" stroke="#444" stroke-width="1" />
<line x1="288.8" y1="31.2" x2="288.8" y2="35.5" stroke="#444" stroke-width="1" />
<line x1="310.8" y1="31.2" x2="310.8" y2="33.8" stroke="#444" stroke-width="1" />
<line x1="329.13" y1="31.2" x2="329.13" y2="35.5" stroke="#444" stroke-width="1" />
<line x1="344.65" y1="31.2" x2="344.65" y2="33.8" stroke="#444" stroke-width="1" />
<line x1="357.94" y1="31.2" x2="357.94" y2="35.5" stroke="#444" stroke-width="1" />
<line x1="369.47" y1="31.2" x2="369.47" y2="33.8" stroke="#444" stroke-width="1" />
<line x1="379.55" y1="31.2" x2="379.55" y2="35.5" stroke="#444" stroke-width="1" />
<line x1="388.45" y1="31.2" x2="388.45" y2="33.8" stroke="#444" stroke-width="1" />
<line x1="396.36" y1="31.2" x2="396.36" y2="35.5" stroke="#444" stroke-width="1" />
<line x1="403.43" y1="31.2" x2="403.43" y2="33.8" stroke="#444" stroke-width="1" />
<line x1="409.8" y1="31.2" x2="409.8" y2="33.8" stroke="#444" stroke-width="1" />
<line x1="415.56" y1="31.2" x2="415.56" y2="33.8" stroke="#444" stroke-width="1" />
<line x1="420.8" y1="31.2" x2="420.8" y2="35.5" stroke="#444" stroke-width="1" />
<line x1="425.58" y1="31.2" x2="425.58" y2="33.8" stroke="#444" stroke-width="1" />
<line x1="429.97" y1="31.2" x2="429.97" y2="33.8" stroke="#444" stroke-width="1" />
<line x1="434" y1="31.2" x2="434" y2="33.8" stroke="#444" stroke-width="1" />
<line x1="437.72" y1="31.2" x2="437.72" y2="35.5" stroke="#444" stroke-width="1" />
<line x1="441.17" y1="31.2" x2="441.17" y2="33.8" stroke="#444" stroke-width="1" />
<line x1="444.37" y1="31.2" x2="444.37" y2="33.8" stroke="#444" stroke-width="1" />
<line x1="447.35" y1="31.2" x2="447.35" y2="33.8" stroke="#444" stroke-width="1" />
<line x1="450.13" y1="31.2" x2="450.13" y2="35.5" stroke="#444" stroke-width="1" />
<line x1="452.74" y1="31.2" x2="452.74" y2="33.8" stroke="#444" stroke-width="1" />
<line x1="455.18" y1="31.2" x2="455.18" y2="33.8" stroke="#444" stroke-width="1" />
<text x="127.47" y="25.2" font-family='"Liberation Sans", sans-serif' font-size="8.4" fill="#333" text-anchor="middle" >3</text>
<text x="228.3" y="25.2" font-family='"Liberation Sans", sans-serif' font-size="8.4" fill="#333" text-anchor="middle" >4</text>
<text x="288.8" y="25.2" font-family='"Liberation Sans", sans-serif' font-size="8.4" fill="#333" text-anchor="middle" >5</text>
<text x="329.13" y="25.2" font-family='"Liberation Sans", sans-serif' font-size="8.4" fill="#333" text-anchor="middle" >6</text>
<text x="357.94" y="25.2" font-family='"Liberation Sans", sans-serif' font-size="8.4" fill="#333" text-anchor="middle" >7</text>
<text x="379.55" y="25.2" font-family='"Liberation Sans", sans-serif' font-size="8.4" fill="#333" text-anchor="middle" >8</text>
<text x="396.36" y="25.2" font-family='"Liberation Sans", sans-serif' font-size="8.4" fill="#333" text-anchor="middle" >9</text>
<text x="420.8" y="25.2" font-family='"Liberation Sans", sans-serif' font-size="8.4" fill="#333" text-anchor="middle" >11</text>
<text x="437.72" y="25.2" font-family='"Liberation Sans", sans-serif' font-size="8.4" fill="#333" text-anchor="middle" >13</text>
<text x="450.13" y="25.2" font-family='"Liberation Sans", sans-serif' font-size="8.4" fill="#333" text-anchor="middle" >15</text>
<text x="50.9" y="53.4" font-family='"Liberation Sans", sans-serif' font-size="8.7" fill="#333" text-anchor="end" transform="translate(50.9 0) scale(0.74 1) translate(-50.9 0)">0.20</text>
<text x="50.9" y="76.4" font-family='"Liberation Sans", sans-serif' font-size="8.7" fill="#333" text-anchor="end" transform="translate(50.9 0) scale(0.74 1) translate(-50.9 0)">0.16</text>
<text x="50.9" y="99.3" font-family='"Liberation Sans", sans-serif' font-size="8.7" fill="#333" text-anchor="end" transform="translate(50.9 0) scale(0.74 1) translate(-50.9 0)">0.12</text>
<text x="50.9" y="123.2" font-family='"Liberation Sans", sans-serif' font-size="8.7" fill="#333" text-anchor="end" transform="translate(50.9 0) scale(0.74 1) translate(-50.9 0)">0.08</text>
<text x="50.9" y="147.8" font-family='"Liberation Sans", sans-serif' font-size="8.7" fill="#333" text-anchor="end" transform="translate(50.9 0) scale(0.74 1) translate(-50.9 0)">0.04</text>
<text x="50.9" y="171.4" font-family='"Liberation Sans", sans-serif' font-size="8.7" fill="#333" text-anchor="end" transform="translate(50.9 0) scale(0.74 1) translate(-50.9 0)">0.00</text>
<line x1="34.6" y1="191.7" x2="37.5" y2="191.7" stroke="#333" stroke-width="1.1" />
<text x="50.9" y="194.7" font-family='"Liberation Sans", sans-serif' font-size="8.7" fill="#333" text-anchor="end" transform="translate(50.9 0) scale(0.74 1) translate(-50.9 0)">0.04</text>
<line x1="34.6" y1="211.4" x2="37.5" y2="211.4" stroke="#333" stroke-width="1.1" />
<text x="50.9" y="214.4" font-family='"Liberation Sans", sans-serif' font-size="8.7" fill="#333" text-anchor="end" transform="translate(50.9 0) scale(0.74 1) translate(-50.9 0)">0.08</text>
<line x1="34.6" y1="232.7" x2="37.5" y2="232.7" stroke="#333" stroke-width="1.1" />
<text x="50.9" y="235.7" font-family='"Liberation Sans", sans-serif' font-size="8.7" fill="#333" text-anchor="end" transform="translate(50.9 0) scale(0.74 1) translate(-50.9 0)">0.12</text>
<line x1="35.9" y1="257.1" x2="38.8" y2="257.1" stroke="#333" stroke-width="1.1" />
<text x="50.9" y="260.1" font-family='"Liberation Sans", sans-serif' font-size="8.7" fill="#333" text-anchor="end" transform="translate(50.9 0) scale(0.74 1) translate(-50.9 0)">0.16</text>
<line x1="35.9" y1="280.1" x2="38.8" y2="280.1" stroke="#333" stroke-width="1.1" />
<text x="50.9" y="283.1" font-family='"Liberation Sans", sans-serif' font-size="8.7" fill="#333" text-anchor="end" transform="translate(50.9 0) scale(0.74 1) translate(-50.9 0)">0.20</text>
<text x="207.9" y="9.7" font-family='"Liberation Sans", sans-serif' font-size="10.8" fill="#222" text-anchor="start" textLength="96.5" lengthAdjust="spacingAndGlyphs" >Wavelength (&#956;m)</text>
<text x="207.1" y="326" font-family='"Liberation Sans", sans-serif' font-size="11.5" fill="#222" text-anchor="start" textLength="104.3" lengthAdjust="spacingAndGlyphs" >Wavenumber (cm<tspan dy="-4.5" font-size="7">-1</tspan><tspan dy="4.5">)</tspan></text>
<text transform="translate(15.3 160.6) rotate(-90)" font-family='"Liberation Sans", sans-serif' font-size="11.8" fill="#222" text-anchor="middle" textLength="104" lengthAdjust="spacingAndGlyphs">Difference spectra</text>
<text x="182" y="62" font-family='"Liberation Serif", serif' font-size="11.5" fill="#111" text-anchor="start" >H<tspan dy="2.5" font-size="8">2</tspan><tspan dy="-2.5">O</tspan><tspan dy="2.5" font-size="8">2</tspan></text>
<text x="252.3" y="87" font-family='"Liberation Serif", serif' font-size="11.8" fill="#111" text-anchor="start" textLength="23.9" lengthAdjust="spacingAndGlyphs" >OCN</text>
<line x1="278.8" y1="78.3" x2="283" y2="78.3" stroke="#111" stroke-width="1.8" />
<text x="273.8" y="104.1" font-family='"Liberation Serif", serif' font-size="11.5" fill="#111" text-anchor="start" textLength="16" lengthAdjust="spacingAndGlyphs" >CO</text>
<text x="308.4" y="86.7" font-family='"Liberation Serif", serif' font-size="11.5" fill="#111" text-anchor="start" >H<tspan dy="2.5" font-size="8">3</tspan><tspan dy="-2.5">O</tspan><tspan dy="-4" font-size="6.5">+</tspan></text>
<text x="342.1" y="102.1" font-family='"Liberation Serif", serif' font-size="11.5" fill="#111" text-anchor="start" >SO<tspan dy="2.5" font-size="8">3</tspan></text>
<text x="359" y="51.5" font-family='"Liberation Serif", serif' font-size="11.5" fill="#111" text-anchor="start" textLength="31.9" lengthAdjust="spacingAndGlyphs" >Sulfate</text>
<text x="423" y="48.7" font-family='"Liberation Serif", serif' font-size="13" fill="#111" text-anchor="start" textLength="30" lengthAdjust="spacingAndGlyphs" >E90K</text>
<text x="77.3" y="219.6" font-family='"Liberation Serif", serif' font-size="11.5" fill="#111" text-anchor="start" textLength="29.4" lengthAdjust="spacingAndGlyphs" >OHdb</text>
<text x="153" y="232" font-family='"Liberation Serif", serif' font-size="11.5" fill="#111" text-anchor="start" >H<tspan dy="2.5" font-size="8">2</tspan><tspan dy="-2.5">O</tspan></text>
<text x="97.6" y="276.5" font-family='"Liberation Serif", serif' font-size="11.5" fill="#111" text-anchor="start" >NH<tspan dy="2.5" font-size="8">3</tspan></text>
<text x="253.7" y="229" font-family='"Liberation Serif", serif' font-size="11.5" fill="#111" text-anchor="start" >CO<tspan dy="2.5" font-size="8">2</tspan></text>
<text x="376.5" y="229.8" font-family='"Liberation Serif", serif' font-size="11.5" fill="#111" text-anchor="start" >SO<tspan dy="2.5" font-size="8">2</tspan></text>
<text transform="translate(405.2 273.1) scale(0.95 1)" font-family='"Liberation Serif", serif' font-size="29" fill="#111">a)</text>
<line x1="185.4" y1="66.6" x2="185.4" y2="74.4" stroke="#111" stroke-width="1.2" />
<polygon points="185.4,79.9 182.6,74.4 188.2,74.4" fill="#111"/>
<line x1="269.5" y1="90.2" x2="269.5" y2="106.9" stroke="#111" stroke-width="1.1" />
<polygon points="269.5,112.3 266.8,106.9 272.2,106.9" fill="#111"/>
<line x1="275.4" y1="104.9" x2="275.4" y2="112.5" stroke="#111" stroke-width="1.1" />
<polygon points="275.4,118.1 272.7,112.5 278.1,112.5" fill="#111"/>
<line x1="115.5" y1="266.4" x2="121.48" y2="257.6" stroke="#111" stroke-width="1.5" />
<polygon points="124.4,253.3 123.88,259.23 119.08,255.97" fill="#111"/>
<text x="131.1" y="126.1" font-family='"Liberation Sans", sans-serif' font-size="8.6" fill="#5858f8" text-anchor="start" font-weight="bold" textLength="11.8" lengthAdjust="spacingAndGlyphs" >1min</text>
<text x="128.8" y="163.2" font-family='"Liberation Sans", sans-serif' font-size="8.6" fill="#a048b0" text-anchor="start" font-weight="bold" textLength="15" lengthAdjust="spacingAndGlyphs" >10min</text>
<text x="127.8" y="194.8" font-family='"Liberation Sans", sans-serif' font-size="8.6" fill="#58e058" text-anchor="start" font-weight="bold" textLength="15.5" lengthAdjust="spacingAndGlyphs" >30min</text>
<text x="151.4" y="251.8" font-family='"Liberation Serif", serif' font-size="7.6" fill="#40e0f0" text-anchor="start" font-weight="bold" textLength="15.1" lengthAdjust="spacingAndGlyphs" >75min</text>
<text x="148.6" y="259.5" font-family='"Liberation Serif", serif' font-size="7.6" fill="#f040f0" text-anchor="start" font-weight="bold" textLength="18.3" lengthAdjust="spacingAndGlyphs" >135min</text>
<text x="148.6" y="267.3" font-family='"Liberation Serif", serif' font-size="7.6" fill="#343488" text-anchor="start" font-weight="bold" textLength="18.3" lengthAdjust="spacingAndGlyphs" >255min</text>
<text x="148.6" y="274.6" font-family='"Liberation Serif", serif' font-size="7.6" fill="#359a58" text-anchor="start" font-weight="bold" textLength="18.3" lengthAdjust="spacingAndGlyphs" >293min</text>
<text x="148.6" y="282.8" font-family='"Liberation Serif", serif' font-size="7.6" fill="#ffc83a" text-anchor="start" font-weight="bold" textLength="18.3" lengthAdjust="spacingAndGlyphs" >413min</text>
<text x="148.6" y="291" font-family='"Liberation Serif", serif' font-size="7.6" fill="#ff7a55" text-anchor="start" font-weight="bold" textLength="18.3" lengthAdjust="spacingAndGlyphs" >600min</text>
<text transform="translate(473.4 96.2) rotate(-90)" font-family='"Liberation Sans", sans-serif' font-size="11.5" fill="#222" text-anchor="middle" textLength="53.3" lengthAdjust="spacingAndGlyphs">Production</text>
<text transform="translate(473.4 181.1) rotate(-90)" font-family='"Liberation Sans", sans-serif' font-size="11.5" fill="#222" text-anchor="middle" textLength="57.7" lengthAdjust="spacingAndGlyphs">Destruction</text>
<line x1="482.8" y1="122.9" x2="482.8" y2="69.1" stroke="#111" stroke-width="1" />
<polygon points="482.8,64.6 485,69.1 480.6,69.1" fill="#111"/>
<line x1="482.8" y1="152.3" x2="482.8" y2="206.5" stroke="#111" stroke-width="1" />
<polygon points="482.8,211 480.6,206.5 485,206.5" fill="#111"/>
<line x1="461.5" y1="135.8" x2="488.9" y2="135.8" stroke="#bbb" stroke-width="1" />
<line x1="69.4" y1="785.9" x2="69.4" y2="780.9" stroke="#333" stroke-width="1" />
<line x1="69.4" y1="343.2" x2="69.4" y2="347.2" stroke="#333" stroke-width="1" />
<line x1="87.85" y1="785.9" x2="87.85" y2="782.9" stroke="#333" stroke-width="1" />
<line x1="87.85" y1="343.2" x2="87.85" y2="346.4" stroke="#333" stroke-width="1" />
<line x1="106.3" y1="785.9" x2="106.3" y2="782.9" stroke="#333" stroke-width="1" />
<line x1="106.3" y1="343.2" x2="106.3" y2="346.4" stroke="#333" stroke-width="1" />
<line x1="124.75" y1="785.9" x2="124.75" y2="782.9" stroke="#333" stroke-width="1" />
<line x1="124.75" y1="343.2" x2="124.75" y2="346.4" stroke="#333" stroke-width="1" />
<line x1="143.2" y1="785.9" x2="143.2" y2="780.9" stroke="#333" stroke-width="1" />
<line x1="143.2" y1="343.2" x2="143.2" y2="347.2" stroke="#333" stroke-width="1" />
<line x1="161.65" y1="785.9" x2="161.65" y2="782.9" stroke="#333" stroke-width="1" />
<line x1="161.65" y1="343.2" x2="161.65" y2="346.4" stroke="#333" stroke-width="1" />
<line x1="180.1" y1="785.9" x2="180.1" y2="782.9" stroke="#333" stroke-width="1" />
<line x1="180.1" y1="343.2" x2="180.1" y2="346.4" stroke="#333" stroke-width="1" />
<line x1="198.55" y1="785.9" x2="198.55" y2="782.9" stroke="#333" stroke-width="1" />
<line x1="198.55" y1="343.2" x2="198.55" y2="346.4" stroke="#333" stroke-width="1" />
<line x1="217" y1="785.9" x2="217" y2="780.9" stroke="#333" stroke-width="1" />
<line x1="217" y1="343.2" x2="217" y2="347.2" stroke="#333" stroke-width="1" />
<line x1="235.45" y1="785.9" x2="235.45" y2="782.9" stroke="#333" stroke-width="1" />
<line x1="235.45" y1="343.2" x2="235.45" y2="346.4" stroke="#333" stroke-width="1" />
<line x1="253.9" y1="785.9" x2="253.9" y2="782.9" stroke="#333" stroke-width="1" />
<line x1="253.9" y1="343.2" x2="253.9" y2="346.4" stroke="#333" stroke-width="1" />
<line x1="272.35" y1="785.9" x2="272.35" y2="782.9" stroke="#333" stroke-width="1" />
<line x1="272.35" y1="343.2" x2="272.35" y2="346.4" stroke="#333" stroke-width="1" />
<line x1="290.8" y1="785.9" x2="290.8" y2="780.9" stroke="#333" stroke-width="1" />
<line x1="290.8" y1="343.2" x2="290.8" y2="347.2" stroke="#333" stroke-width="1" />
<line x1="309.25" y1="785.9" x2="309.25" y2="782.9" stroke="#333" stroke-width="1" />
<line x1="309.25" y1="343.2" x2="309.25" y2="346.4" stroke="#333" stroke-width="1" />
<line x1="327.7" y1="785.9" x2="327.7" y2="782.9" stroke="#333" stroke-width="1" />
<line x1="327.7" y1="343.2" x2="327.7" y2="346.4" stroke="#333" stroke-width="1" />
<line x1="346.15" y1="785.9" x2="346.15" y2="782.9" stroke="#333" stroke-width="1" />
<line x1="346.15" y1="343.2" x2="346.15" y2="346.4" stroke="#333" stroke-width="1" />
<line x1="364.6" y1="785.9" x2="364.6" y2="780.9" stroke="#333" stroke-width="1" />
<line x1="364.6" y1="343.2" x2="364.6" y2="347.2" stroke="#333" stroke-width="1" />
<line x1="383.05" y1="785.9" x2="383.05" y2="782.9" stroke="#333" stroke-width="1" />
<line x1="383.05" y1="343.2" x2="383.05" y2="346.4" stroke="#333" stroke-width="1" />
<line x1="401.5" y1="785.9" x2="401.5" y2="782.9" stroke="#333" stroke-width="1" />
<line x1="401.5" y1="343.2" x2="401.5" y2="346.4" stroke="#333" stroke-width="1" />
<line x1="419.95" y1="785.9" x2="419.95" y2="782.9" stroke="#333" stroke-width="1" />
<line x1="419.95" y1="343.2" x2="419.95" y2="346.4" stroke="#333" stroke-width="1" />
<line x1="438.4" y1="785.9" x2="438.4" y2="780.9" stroke="#333" stroke-width="1" />
<line x1="438.4" y1="343.2" x2="438.4" y2="347.2" stroke="#333" stroke-width="1" />
<text transform="translate(69.4 798.4) scale(1.12 1)" font-family='"Liberation Sans", sans-serif' font-size="9" fill="#222" text-anchor="middle">0</text>
<text transform="translate(143.2 798.4) scale(1.12 1)" font-family='"Liberation Sans", sans-serif' font-size="9" fill="#222" text-anchor="middle">1</text>
<text transform="translate(217 798.4) scale(1.12 1)" font-family='"Liberation Sans", sans-serif' font-size="9" fill="#222" text-anchor="middle">2</text>
<text transform="translate(290.8 798.4) scale(1.12 1)" font-family='"Liberation Sans", sans-serif' font-size="9" fill="#222" text-anchor="middle">3</text>
<text transform="translate(364.6 798.4) scale(1.12 1)" font-family='"Liberation Sans", sans-serif' font-size="9" fill="#222" text-anchor="middle">4</text>
<text transform="translate(438.4 798.4) scale(1.12 1)" font-family='"Liberation Sans", sans-serif' font-size="9" fill="#222" text-anchor="middle">5</text>
<line x1="54.6" y1="559.5" x2="60.1" y2="559.5" stroke="#333" stroke-width="1" />
<line x1="453" y1="559.5" x2="447.5" y2="559.5" stroke="#333" stroke-width="1" />
<line x1="54.6" y1="544.33" x2="57.6" y2="544.33" stroke="#333" stroke-width="1" />
<line x1="453" y1="544.33" x2="450" y2="544.33" stroke="#333" stroke-width="1" />
<line x1="54.6" y1="535.45" x2="57.6" y2="535.45" stroke="#333" stroke-width="1" />
<line x1="453" y1="535.45" x2="450" y2="535.45" stroke="#333" stroke-width="1" />
<line x1="54.6" y1="529.16" x2="57.6" y2="529.16" stroke="#333" stroke-width="1" />
<line x1="453" y1="529.16" x2="450" y2="529.16" stroke="#333" stroke-width="1" />
<line x1="54.6" y1="524.27" x2="57.6" y2="524.27" stroke="#333" stroke-width="1" />
<line x1="453" y1="524.27" x2="450" y2="524.27" stroke="#333" stroke-width="1" />
<line x1="54.6" y1="520.28" x2="57.6" y2="520.28" stroke="#333" stroke-width="1" />
<line x1="453" y1="520.28" x2="450" y2="520.28" stroke="#333" stroke-width="1" />
<line x1="54.6" y1="516.91" x2="57.6" y2="516.91" stroke="#333" stroke-width="1" />
<line x1="453" y1="516.91" x2="450" y2="516.91" stroke="#333" stroke-width="1" />
<line x1="54.6" y1="513.98" x2="57.6" y2="513.98" stroke="#333" stroke-width="1" />
<line x1="453" y1="513.98" x2="450" y2="513.98" stroke="#333" stroke-width="1" />
<line x1="54.6" y1="511.41" x2="57.6" y2="511.41" stroke="#333" stroke-width="1" />
<line x1="453" y1="511.41" x2="450" y2="511.41" stroke="#333" stroke-width="1" />
<line x1="54.6" y1="509.1" x2="60.1" y2="509.1" stroke="#333" stroke-width="1" />
<line x1="453" y1="509.1" x2="447.5" y2="509.1" stroke="#333" stroke-width="1" />
<line x1="54.6" y1="493.93" x2="57.6" y2="493.93" stroke="#333" stroke-width="1" />
<line x1="453" y1="493.93" x2="450" y2="493.93" stroke="#333" stroke-width="1" />
<line x1="54.6" y1="485.05" x2="57.6" y2="485.05" stroke="#333" stroke-width="1" />
<line x1="453" y1="485.05" x2="450" y2="485.05" stroke="#333" stroke-width="1" />
<line x1="54.6" y1="478.76" x2="57.6" y2="478.76" stroke="#333" stroke-width="1" />
<line x1="453" y1="478.76" x2="450" y2="478.76" stroke="#333" stroke-width="1" />
<line x1="54.6" y1="473.87" x2="57.6" y2="473.87" stroke="#333" stroke-width="1" />
<line x1="453" y1="473.87" x2="450" y2="473.87" stroke="#333" stroke-width="1" />
<line x1="54.6" y1="469.88" x2="57.6" y2="469.88" stroke="#333" stroke-width="1" />
<line x1="453" y1="469.88" x2="450" y2="469.88" stroke="#333" stroke-width="1" />
<line x1="54.6" y1="466.51" x2="57.6" y2="466.51" stroke="#333" stroke-width="1" />
<line x1="453" y1="466.51" x2="450" y2="466.51" stroke="#333" stroke-width="1" />
<line x1="54.6" y1="463.58" x2="57.6" y2="463.58" stroke="#333" stroke-width="1" />
<line x1="453" y1="463.58" x2="450" y2="463.58" stroke="#333" stroke-width="1" />
<line x1="54.6" y1="461.01" x2="57.6" y2="461.01" stroke="#333" stroke-width="1" />
<line x1="453" y1="461.01" x2="450" y2="461.01" stroke="#333" stroke-width="1" />
<line x1="54.6" y1="458.7" x2="60.1" y2="458.7" stroke="#333" stroke-width="1" />
<line x1="453" y1="458.7" x2="447.5" y2="458.7" stroke="#333" stroke-width="1" />
<line x1="54.6" y1="443.53" x2="57.6" y2="443.53" stroke="#333" stroke-width="1" />
<line x1="453" y1="443.53" x2="450" y2="443.53" stroke="#333" stroke-width="1" />
<line x1="54.6" y1="434.65" x2="57.6" y2="434.65" stroke="#333" stroke-width="1" />
<line x1="453" y1="434.65" x2="450" y2="434.65" stroke="#333" stroke-width="1" />
<line x1="54.6" y1="428.36" x2="57.6" y2="428.36" stroke="#333" stroke-width="1" />
<line x1="453" y1="428.36" x2="450" y2="428.36" stroke="#333" stroke-width="1" />
<line x1="54.6" y1="423.47" x2="57.6" y2="423.47" stroke="#333" stroke-width="1" />
<line x1="453" y1="423.47" x2="450" y2="423.47" stroke="#333" stroke-width="1" />
<line x1="54.6" y1="419.48" x2="57.6" y2="419.48" stroke="#333" stroke-width="1" />
<line x1="453" y1="419.48" x2="450" y2="419.48" stroke="#333" stroke-width="1" />
<line x1="54.6" y1="416.11" x2="57.6" y2="416.11" stroke="#333" stroke-width="1" />
<line x1="453" y1="416.11" x2="450" y2="416.11" stroke="#333" stroke-width="1" />
<line x1="54.6" y1="413.18" x2="57.6" y2="413.18" stroke="#333" stroke-width="1" />
<line x1="453" y1="413.18" x2="450" y2="413.18" stroke="#333" stroke-width="1" />
<line x1="54.6" y1="410.61" x2="57.6" y2="410.61" stroke="#333" stroke-width="1" />
<line x1="453" y1="410.61" x2="450" y2="410.61" stroke="#333" stroke-width="1" />
<line x1="54.6" y1="408.3" x2="60.1" y2="408.3" stroke="#333" stroke-width="1" />
<line x1="453" y1="408.3" x2="447.5" y2="408.3" stroke="#333" stroke-width="1" />
<line x1="54.6" y1="393.13" x2="57.6" y2="393.13" stroke="#333" stroke-width="1" />
<line x1="453" y1="393.13" x2="450" y2="393.13" stroke="#333" stroke-width="1" />
<line x1="54.6" y1="384.25" x2="57.6" y2="384.25" stroke="#333" stroke-width="1" />
<line x1="453" y1="384.25" x2="450" y2="384.25" stroke="#333" stroke-width="1" />
<line x1="54.6" y1="377.96" x2="57.6" y2="377.96" stroke="#333" stroke-width="1" />
<line x1="453" y1="377.96" x2="450" y2="377.96" stroke="#333" stroke-width="1" />
<line x1="54.6" y1="373.07" x2="57.6" y2="373.07" stroke="#333" stroke-width="1" />
<line x1="453" y1="373.07" x2="450" y2="373.07" stroke="#333" stroke-width="1" />
<line x1="54.6" y1="369.08" x2="57.6" y2="369.08" stroke="#333" stroke-width="1" />
<line x1="453" y1="369.08" x2="450" y2="369.08" stroke="#333" stroke-width="1" />
<line x1="54.6" y1="365.71" x2="57.6" y2="365.71" stroke="#333" stroke-width="1" />
<line x1="453" y1="365.71" x2="450" y2="365.71" stroke="#333" stroke-width="1" />
<line x1="54.6" y1="362.78" x2="57.6" y2="362.78" stroke="#333" stroke-width="1" />
<line x1="453" y1="362.78" x2="450" y2="362.78" stroke="#333" stroke-width="1" />
<line x1="54.6" y1="360.21" x2="57.6" y2="360.21" stroke="#333" stroke-width="1" />
<line x1="453" y1="360.21" x2="450" y2="360.21" stroke="#333" stroke-width="1" />
<line x1="54.6" y1="357.9" x2="60.1" y2="357.9" stroke="#333" stroke-width="1" />
<line x1="453" y1="357.9" x2="447.5" y2="357.9" stroke="#333" stroke-width="1" />
<text transform="translate(47.4 360.5) scale(1.2 1)" font-family='"Liberation Sans", sans-serif' font-size="8.9" fill="#222" text-anchor="end">10</text>
<text transform="translate(47.4 410.9) scale(1.2 1)" font-family='"Liberation Sans", sans-serif' font-size="8.9" fill="#222" text-anchor="end">1</text>
<text transform="translate(47.4 461.3) scale(1.2 1)" font-family='"Liberation Sans", sans-serif' font-size="8.9" fill="#222" text-anchor="end">0.1</text>
<text transform="translate(47.4 511.7) scale(1.2 1)" font-family='"Liberation Sans", sans-serif' font-size="8.9" fill="#222" text-anchor="end">0.01</text>
<text transform="translate(47.4 562.1) scale(1.2 1)" font-family='"Liberation Sans", sans-serif' font-size="8.9" fill="#222" text-anchor="end">0.001</text>
<line x1="54.6" y1="574.11" x2="57.6" y2="574.11" stroke="#333" stroke-width="1" />
<line x1="453" y1="574.11" x2="450" y2="574.11" stroke="#333" stroke-width="1" />
<line x1="54.6" y1="580.52" x2="57.6" y2="580.52" stroke="#333" stroke-width="1" />
<line x1="453" y1="580.52" x2="450" y2="580.52" stroke="#333" stroke-width="1" />
<line x1="54.6" y1="586.93" x2="57.6" y2="586.93" stroke="#333" stroke-width="1" />
<line x1="453" y1="586.93" x2="450" y2="586.93" stroke="#333" stroke-width="1" />
<line x1="54.6" y1="593.34" x2="60.1" y2="593.34" stroke="#333" stroke-width="1" />
<line x1="453" y1="593.34" x2="447.5" y2="593.34" stroke="#333" stroke-width="1" />
<line x1="54.6" y1="599.75" x2="57.6" y2="599.75" stroke="#333" stroke-width="1" />
<line x1="453" y1="599.75" x2="450" y2="599.75" stroke="#333" stroke-width="1" />
<line x1="54.6" y1="606.16" x2="57.6" y2="606.16" stroke="#333" stroke-width="1" />
<line x1="453" y1="606.16" x2="450" y2="606.16" stroke="#333" stroke-width="1" />
<line x1="54.6" y1="612.57" x2="57.6" y2="612.57" stroke="#333" stroke-width="1" />
<line x1="453" y1="612.57" x2="450" y2="612.57" stroke="#333" stroke-width="1" />
<line x1="54.6" y1="618.98" x2="60.1" y2="618.98" stroke="#333" stroke-width="1" />
<line x1="453" y1="618.98" x2="447.5" y2="618.98" stroke="#333" stroke-width="1" />
<line x1="54.6" y1="625.39" x2="57.6" y2="625.39" stroke="#333" stroke-width="1" />
<line x1="453" y1="625.39" x2="450" y2="625.39" stroke="#333" stroke-width="1" />
<line x1="54.6" y1="631.8" x2="57.6" y2="631.8" stroke="#333" stroke-width="1" />
<line x1="453" y1="631.8" x2="450" y2="631.8" stroke="#333" stroke-width="1" />
<line x1="54.6" y1="638.21" x2="57.6" y2="638.21" stroke="#333" stroke-width="1" />
<line x1="453" y1="638.21" x2="450" y2="638.21" stroke="#333" stroke-width="1" />
<line x1="54.6" y1="644.62" x2="60.1" y2="644.62" stroke="#333" stroke-width="1" />
<line x1="453" y1="644.62" x2="447.5" y2="644.62" stroke="#333" stroke-width="1" />
<line x1="54.6" y1="651.03" x2="57.6" y2="651.03" stroke="#333" stroke-width="1" />
<line x1="453" y1="651.03" x2="450" y2="651.03" stroke="#333" stroke-width="1" />
<line x1="54.6" y1="657.44" x2="57.6" y2="657.44" stroke="#333" stroke-width="1" />
<line x1="453" y1="657.44" x2="450" y2="657.44" stroke="#333" stroke-width="1" />
<line x1="54.6" y1="663.85" x2="57.6" y2="663.85" stroke="#333" stroke-width="1" />
<line x1="453" y1="663.85" x2="450" y2="663.85" stroke="#333" stroke-width="1" />
<line x1="54.6" y1="670.26" x2="60.1" y2="670.26" stroke="#333" stroke-width="1" />
<line x1="453" y1="670.26" x2="447.5" y2="670.26" stroke="#333" stroke-width="1" />
<line x1="54.6" y1="676.67" x2="57.6" y2="676.67" stroke="#333" stroke-width="1" />
<line x1="453" y1="676.67" x2="450" y2="676.67" stroke="#333" stroke-width="1" />
<line x1="54.6" y1="683.08" x2="57.6" y2="683.08" stroke="#333" stroke-width="1" />
<line x1="453" y1="683.08" x2="450" y2="683.08" stroke="#333" stroke-width="1" />
<line x1="54.6" y1="689.49" x2="57.6" y2="689.49" stroke="#333" stroke-width="1" />
<line x1="453" y1="689.49" x2="450" y2="689.49" stroke="#333" stroke-width="1" />
<line x1="54.6" y1="695.9" x2="60.1" y2="695.9" stroke="#333" stroke-width="1" />
<line x1="453" y1="695.9" x2="447.5" y2="695.9" stroke="#333" stroke-width="1" />
<line x1="54.6" y1="702.31" x2="57.6" y2="702.31" stroke="#333" stroke-width="1" />
<line x1="453" y1="702.31" x2="450" y2="702.31" stroke="#333" stroke-width="1" />
<line x1="54.6" y1="708.72" x2="57.6" y2="708.72" stroke="#333" stroke-width="1" />
<line x1="453" y1="708.72" x2="450" y2="708.72" stroke="#333" stroke-width="1" />
<line x1="54.6" y1="715.13" x2="57.6" y2="715.13" stroke="#333" stroke-width="1" />
<line x1="453" y1="715.13" x2="450" y2="715.13" stroke="#333" stroke-width="1" />
<line x1="54.6" y1="721.54" x2="60.1" y2="721.54" stroke="#333" stroke-width="1" />
<line x1="453" y1="721.54" x2="447.5" y2="721.54" stroke="#333" stroke-width="1" />
<line x1="54.6" y1="727.95" x2="57.6" y2="727.95" stroke="#333" stroke-width="1" />
<line x1="453" y1="727.95" x2="450" y2="727.95" stroke="#333" stroke-width="1" />
<line x1="54.6" y1="734.36" x2="57.6" y2="734.36" stroke="#333" stroke-width="1" />
<line x1="453" y1="734.36" x2="450" y2="734.36" stroke="#333" stroke-width="1" />
<line x1="54.6" y1="740.77" x2="57.6" y2="740.77" stroke="#333" stroke-width="1" />
<line x1="453" y1="740.77" x2="450" y2="740.77" stroke="#333" stroke-width="1" />
<line x1="54.6" y1="747.18" x2="60.1" y2="747.18" stroke="#333" stroke-width="1" />
<line x1="453" y1="747.18" x2="447.5" y2="747.18" stroke="#333" stroke-width="1" />
<line x1="54.6" y1="753.59" x2="57.6" y2="753.59" stroke="#333" stroke-width="1" />
<line x1="453" y1="753.59" x2="450" y2="753.59" stroke="#333" stroke-width="1" />
<line x1="54.6" y1="760" x2="57.6" y2="760" stroke="#333" stroke-width="1" />
<line x1="453" y1="760" x2="450" y2="760" stroke="#333" stroke-width="1" />
<line x1="54.6" y1="766.41" x2="57.6" y2="766.41" stroke="#333" stroke-width="1" />
<line x1="453" y1="766.41" x2="450" y2="766.41" stroke="#333" stroke-width="1" />
<line x1="54.6" y1="772.82" x2="60.1" y2="772.82" stroke="#333" stroke-width="1" />
<line x1="453" y1="772.82" x2="447.5" y2="772.82" stroke="#333" stroke-width="1" />
<line x1="54.6" y1="779.23" x2="57.6" y2="779.23" stroke="#333" stroke-width="1" />
<line x1="453" y1="779.23" x2="450" y2="779.23" stroke="#333" stroke-width="1" />
<text transform="translate(47.4 570.3) scale(1.2 1)" font-family='"Liberation Sans", sans-serif' font-size="8.9" fill="#222" text-anchor="end">0</text>
<text transform="translate(47.4 595.94) scale(1.2 1)" font-family='"Liberation Sans", sans-serif' font-size="8.9" fill="#222" text-anchor="end">-4</text>
<text transform="translate(47.4 621.58) scale(1.2 1)" font-family='"Liberation Sans", sans-serif' font-size="8.9" fill="#222" text-anchor="end">-8</text>
<text transform="translate(47.4 647.22) scale(1.2 1)" font-family='"Liberation Sans", sans-serif' font-size="8.9" fill="#222" text-anchor="end">-12</text>
<text transform="translate(47.4 672.86) scale(1.2 1)" font-family='"Liberation Sans", sans-serif' font-size="8.9" fill="#222" text-anchor="end">-16</text>
<text transform="translate(47.4 698.5) scale(1.2 1)" font-family='"Liberation Sans", sans-serif' font-size="8.9" fill="#222" text-anchor="end">-20</text>
<text transform="translate(47.4 724.14) scale(1.2 1)" font-family='"Liberation Sans", sans-serif' font-size="8.9" fill="#222" text-anchor="end">-24</text>
<text transform="translate(47.4 749.78) scale(1.2 1)" font-family='"Liberation Sans", sans-serif' font-size="8.9" fill="#222" text-anchor="end">-28</text>
<text transform="translate(47.4 775.42) scale(1.2 1)" font-family='"Liberation Sans", sans-serif' font-size="8.9" fill="#222" text-anchor="end">-32</text>
<line x1="54.6" y1="343.2" x2="453" y2="343.2" stroke="#333" stroke-width="1.2" />
<line x1="54" y1="785.9" x2="453.6" y2="785.9" stroke="#333" stroke-width="1.2" />
<line x1="54.6" y1="342.6" x2="54.6" y2="560" stroke="#333" stroke-width="1.2" />
<line x1="54.6" y1="568.3" x2="54.6" y2="785.9" stroke="#333" stroke-width="1.2" />
<line x1="453" y1="342.6" x2="453" y2="560" stroke="#333" stroke-width="1.2" />
<line x1="453" y1="568.3" x2="453" y2="785.9" stroke="#333" stroke-width="1.2" />
<line x1="54.6" y1="568.3" x2="453" y2="568.3" stroke="#858585" stroke-width="1.7" />
<line x1="49.4" y1="564.6" x2="60" y2="556.8" stroke="#222" stroke-width="1" />
<line x1="49.4" y1="571.5" x2="60" y2="564.2" stroke="#222" stroke-width="1" />
<line x1="447.8" y1="564.6" x2="458.4" y2="556.8" stroke="#222" stroke-width="1" />
<line x1="447.8" y1="571.5" x2="458.4" y2="564.2" stroke="#222" stroke-width="1" />
<clipPath id="cu"><rect x="55.2" y="343.8" width="397.2" height="216"/></clipPath>
<clipPath id="cl"><rect x="55.2" y="568.9" width="397.2" height="216.4"/></clipPath>
<g clip-path="url(#cu)">
<polyline points="69.6,461.68 73.6,397.31 82.6,377.05 102.5,366.16 129.2,362.93 182,362.04 198.6,362 252.3,361.98 334.7,361.98" fill="none" stroke="#ff5050" stroke-width="0.9" stroke-linejoin="round" />
<polyline points="69.6,542.08 73.6,475.81 82.6,451.56 102.5,433.21 129.2,422.56 182,412.98 198.6,411.24 252.3,407.52 334.7,404.72" fill="none" stroke="#ff5050" stroke-width="0.9" stroke-linejoin="round" />
<polyline points="69.6,529.16 73.6,442.46 82.6,425.3 102.5,417.39 129.2,414.89 182,411.86 198.6,411.35 252.3,409.89 334.7,408.97" fill="none" stroke="#ff5050" stroke-width="0.9" stroke-linejoin="round" />
<polyline points="69.6,480.76 73.6,422.87 82.6,412.89 102.5,411.62 129.2,411.6 182,411.6 198.6,411.6 252.3,411.6 334.7,411.6" fill="none" stroke="#ff5050" stroke-width="0.9" stroke-linejoin="round" />
<polyline points="69.6,547.82 73.6,481.77 82.6,458.01 102.5,440.69 129.2,431.29 182,423.78 198.6,422.59 252.3,420.33 334.7,419.02" fill="none" stroke="#ff5050" stroke-width="0.9" stroke-linejoin="round" />
<polyline points="69.6,585.99 73.6,519.42 82.6,494.51 102.5,474.74 129.2,462.27 182,449.33 198.6,446.61 252.3,439.91 334.7,433.15" fill="none" stroke="#ff5050" stroke-width="0.9" stroke-linejoin="round" />
<polyline points="69.6,603.81 73.6,537.64 82.6,513.62 102.5,495.76 129.2,485.72 182,477.17 198.6,475.71 252.3,472.76 334.7,470.79" fill="none" stroke="#ff5050" stroke-width="0.9" stroke-linejoin="round" />
</g>
<g clip-path="url(#cl)">
<polyline points="69.4,567.7 69.4,567.7 69.41,567.7 69.43,567.7 69.45,567.7 69.47,567.71 69.51,567.71 69.54,567.71 69.59,567.72 69.64,567.72 69.69,567.73 69.76,567.73 69.82,567.74 69.9,567.75 69.98,567.75 70.06,567.76 70.15,567.77 70.25,567.78 70.35,567.79 70.46,567.8 70.58,567.81 70.7,567.82 70.83,567.83 70.96,567.84 71.1,567.86 71.24,567.87 71.39,567.88 71.55,567.9 71.71,567.91 71.88,567.93 72.05,567.94 72.23,567.96 72.42,567.98 72.61,568 72.81,568.01 73.01,568.03 73.22,568.05 73.43,568.07 73.66,568.09 73.88,568.11 74.12,568.13 74.35,568.15 74.6,568.17 74.85,568.19 75.11,568.22 75.37,568.24 75.64,568.26 75.91,568.29 76.19,568.31 76.48,568.34 76.77,568.36 77.07,568.39 77.37,568.41 77.68,568.44 77.99,568.47 78.31,568.49 78.64,568.52 78.98,568.55 79.31,568.58 79.66,568.6 80.01,568.63 80.37,568.66 80.73,568.69 81.1,568.72 81.47,568.75 81.85,568.78 82.24,568.81 82.63,568.85 83.03,568.88 83.43,568.91 83.84,568.94 84.26,568.97 84.68,569.01 85.1,569.04 85.54,569.07 85.98,569.11 86.42,569.14 86.87,569.18 87.33,569.21 87.79,569.25 88.26,569.28 88.74,569.32 89.22,569.35 89.7,569.39 90.19,569.42 90.69,569.46 91.2,569.5 91.71,569.53 92.22,569.57 92.74,569.61 93.27,569.64 93.8,569.68 94.34,569.72 94.89,569.76 95.44,569.79 96,569.83 96.56,569.87 97.13,569.91 97.7,569.95 98.28,569.98 98.87,570.02 99.46,570.06 100.06,570.1 100.67,570.14 101.28,570.18 101.89,570.22 102.51,570.26 103.14,570.29 103.77,570.33 104.41,570.37 105.06,570.41 105.71,570.45 106.37,570.49 107.03,570.53 107.7,570.57 108.38,570.61 109.06,570.65 109.74,570.69 110.44,570.73 111.13,570.77 111.84,570.81 112.55,570.85 113.26,570.89 113.99,570.93 114.71,570.97 115.45,571.01 116.19,571.04 116.93,571.08 117.68,571.12 118.44,571.16 119.21,571.2 119.97,571.24 120.75,571.28 121.53,571.32 122.32,571.36 123.11,571.4 123.91,571.44 124.71,571.47 125.52,571.51 126.34,571.55 127.16,571.59 127.99,571.63 128.82,571.67 129.66,571.7 130.51,571.74 131.36,571.78 132.22,571.82 133.08,571.85 133.95,571.89 134.83,571.93 135.71,571.97 136.6,572 137.49,572.04 138.39,572.08 139.29,572.11 140.2,572.15 141.12,572.18 142.04,572.22 142.97,572.26 143.91,572.29 144.85,572.33 145.79,572.36 146.74,572.4 147.7,572.43 148.66,572.47 149.63,572.5 150.61,572.53 151.59,572.57 152.58,572.6 153.57,572.64 154.57,572.67 155.58,572.7 156.59,572.74 157.6,572.77 158.63,572.8 159.65,572.83 160.69,572.87 161.73,572.9 162.78,572.93 163.83,572.96 164.89,572.99 165.95,573.02 167.02,573.05 168.09,573.08 169.18,573.11 170.26,573.14 171.36,573.17 172.46,573.2 173.56,573.23 174.67,573.26 175.79,573.29 176.91,573.32 178.04,573.35 179.18,573.38 180.32,573.4 181.46,573.43 182.62,573.46 183.77,573.49 184.94,573.51 186.11,573.54 187.28,573.57 188.46,573.59 189.65,573.62 190.85,573.64 192.05,573.67 193.25,573.69 194.46,573.72 195.68,573.74 196.9,573.77 198.13,573.79 199.37,573.82 200.61,573.84 201.85,573.86 203.11,573.89 204.36,573.91 205.63,573.93 206.9,573.95 208.18,573.98 209.46,574 210.74,574.02 212.04,574.04 213.34,574.06 214.64,574.08 215.96,574.1 217.27,574.12 218.6,574.15 219.93,574.17 221.26,574.18 222.6,574.2 223.95,574.22 225.3,574.24 226.66,574.26 228.02,574.28 229.39,574.3 230.77,574.32 232.15,574.34 233.54,574.35 234.93,574.37 236.33,574.39 237.74,574.4 239.15,574.42 240.57,574.44 241.99,574.45 243.42,574.47 244.86,574.49 246.3,574.5 247.75,574.52 249.2,574.53 250.66,574.55 252.12,574.56 253.59,574.58 255.07,574.59 256.55,574.61 258.04,574.62 259.53,574.64 261.03,574.65 262.54,574.66 264.05,574.68 265.57,574.69 267.09,574.7 268.62,574.71 270.16,574.73 271.7,574.74 273.25,574.75 274.8,574.76 276.36,574.78 277.92,574.79 279.49,574.8 281.07,574.81 282.65,574.82 284.24,574.83 285.84,574.84 287.44,574.85 289.04,574.86 290.65,574.87 292.27,574.88 293.9,574.89 295.53,574.9 297.16,574.91 298.8,574.92 300.45,574.93 302.1,574.94 303.76,574.95 305.43,574.96 307.1,574.97 308.78,574.98 310.46,574.99 312.15,574.99 313.84,575 315.54,575.01 317.25,575.02 318.96,575.03 320.68,575.03 322.4,575.04 324.13,575.05 325.87,575.05 327.61,575.06 329.36,575.07 331.11,575.08 332.87,575.08 334.64,575.09" fill="none" stroke="#ff5050" stroke-width="0.9" stroke-linejoin="round" />
<polyline points="69.4,567.7 69.4,567.71 69.41,567.73 69.43,567.76 69.45,567.8 69.47,567.86 69.51,567.93 69.54,568.01 69.59,568.1 69.64,568.21 69.69,568.33 69.76,568.46 69.82,568.6 69.9,568.75 69.98,568.92 70.06,569.1 70.15,569.29 70.25,569.48 70.35,569.69 70.46,569.91 70.58,570.15 70.7,570.39 70.83,570.64 70.96,570.9 71.1,571.17 71.24,571.45 71.39,571.73 71.55,572.03 71.71,572.33 71.88,572.64 72.05,572.96 72.23,573.29 72.42,573.63 72.61,573.97 72.81,574.31 73.01,574.67 73.22,575.02 73.43,575.39 73.66,575.76 73.88,576.13 74.12,576.51 74.35,576.89 74.6,577.28 74.85,577.67 75.11,578.06 75.37,578.45 75.64,578.85 75.91,579.25 76.19,579.65 76.48,580.05 76.77,580.46 77.07,580.86 77.37,581.27 77.68,581.67 77.99,582.08 78.31,582.48 78.64,582.89 78.98,583.29 79.31,583.69 79.66,584.09 80.01,584.49 80.37,584.89 80.73,585.29 81.1,585.68 81.47,586.07 81.85,586.45 82.24,586.84 82.63,587.22 83.03,587.6 83.43,587.97 83.84,588.34 84.26,588.71 84.68,589.07 85.1,589.42 85.54,589.78 85.98,590.12 86.42,590.47 86.87,590.81 87.33,591.14 87.79,591.47 88.26,591.79 88.74,592.11 89.22,592.42 89.7,592.73 90.19,593.03 90.69,593.33 91.2,593.62 91.71,593.91 92.22,594.19 92.74,594.46 93.27,594.73 93.8,594.99 94.34,595.25 94.89,595.5 95.44,595.75 96,595.99 96.56,596.23 97.13,596.45 97.7,596.68 98.28,596.9 98.87,597.11 99.46,597.32 100.06,597.52 100.67,597.72 101.28,597.91 101.89,598.09 102.51,598.27 103.14,598.45 103.77,598.62 104.41,598.79 105.06,598.95 105.71,599.1 106.37,599.25 107.03,599.4 107.7,599.54 108.38,599.68 109.06,599.81 109.74,599.94 110.44,600.07 111.13,600.19 111.84,600.3 112.55,600.42 113.26,600.52 113.99,600.63 114.71,600.73 115.45,600.83 116.19,600.92 116.93,601.01 117.68,601.1 118.44,601.18 119.21,601.26 119.97,601.34 120.75,601.42 121.53,601.49 122.32,601.56 123.11,601.62 123.91,601.69 124.71,601.75 125.52,601.8 126.34,601.86 127.16,601.91 127.99,601.96 128.82,602.01 129.66,602.06 130.51,602.11 131.36,602.15 132.22,602.19 133.08,602.23 133.95,602.27 134.83,602.3 135.71,602.34 136.6,602.37 137.49,602.4 138.39,602.43 139.29,602.46 140.2,602.48 141.12,602.51 142.04,602.53 142.97,602.56 143.91,602.58 144.85,602.6 145.79,602.62 146.74,602.64 147.7,602.66 148.66,602.67 149.63,602.69 150.61,602.71 151.59,602.72 152.58,602.73 153.57,602.75 154.57,602.76 155.58,602.77 156.59,602.78 157.6,602.79 158.63,602.8 159.65,602.81 160.69,602.82 161.73,602.83 162.78,602.84 163.83,602.84 164.89,602.85 165.95,602.86 167.02,602.86 168.09,602.87 169.18,602.87 170.26,602.88 171.36,602.88 172.46,602.89 173.56,602.89 174.67,602.9 175.79,602.9 176.91,602.9 178.04,602.91 179.18,602.91 180.32,602.91 181.46,602.92 182.62,602.92 183.77,602.92 184.94,602.92 186.11,602.93 187.28,602.93 188.46,602.93 189.65,602.93 190.85,602.93 192.05,602.94 193.25,602.94 194.46,602.94 195.68,602.94 196.9,602.94 198.13,602.94 199.37,602.94 200.61,602.94 201.85,602.94 203.11,602.94 204.36,602.95 205.63,602.95 206.9,602.95 208.18,602.95 209.46,602.95 210.74,602.95 212.04,602.95 213.34,602.95 214.64,602.95 215.96,602.95 217.27,602.95 218.6,602.95 219.93,602.95 221.26,602.95 222.6,602.95 223.95,602.95 225.3,602.95 226.66,602.95 228.02,602.95 229.39,602.95 230.77,602.95 232.15,602.95 233.54,602.95 234.93,602.95 236.33,602.95 237.74,602.95 239.15,602.95 240.57,602.95 241.99,602.95 243.42,602.95 244.86,602.95 246.3,602.95 247.75,602.95 249.2,602.95 250.66,602.95 252.12,602.95 253.59,602.95 255.07,602.95 256.55,602.95 258.04,602.95 259.53,602.95 261.03,602.95 262.54,602.95 264.05,602.95 265.57,602.95 267.09,602.95 268.62,602.95 270.16,602.95 271.7,602.95 273.25,602.95 274.8,602.95 276.36,602.95 277.92,602.95 279.49,602.95 281.07,602.95 282.65,602.95 284.24,602.95 285.84,602.95 287.44,602.95 289.04,602.95 290.65,602.95 292.27,602.95 293.9,602.95 295.53,602.95 297.16,602.95 298.8,602.95 300.45,602.95 302.1,602.95 303.76,602.95 305.43,602.95 307.1,602.95 308.78,602.95 310.46,602.95 312.15,602.95 313.84,602.95 315.54,602.95 317.25,602.95 318.96,602.95 320.68,602.95 322.4,602.95 324.13,602.95 325.87,602.95 327.61,602.95 329.36,602.95 331.11,602.95 332.87,602.95 334.64,602.95" fill="none" stroke="#ff5050" stroke-width="0.9" stroke-linejoin="round" />
<polyline points="69.4,567.7 69.4,567.7 69.41,567.72 69.43,567.74 69.45,567.78 69.47,567.82 69.51,567.88 69.54,567.94 69.59,568.02 69.64,568.1 69.69,568.2 69.76,568.3 69.82,568.41 69.9,568.54 69.98,568.67 70.06,568.81 70.15,568.96 70.25,569.12 70.35,569.29 70.46,569.46 70.58,569.65 70.7,569.84 70.83,570.05 70.96,570.26 71.1,570.47 71.24,570.7 71.39,570.94 71.55,571.18 71.71,571.43 71.88,571.68 72.05,571.95 72.23,572.22 72.42,572.5 72.61,572.78 72.81,573.07 73.01,573.37 73.22,573.67 73.43,573.98 73.66,574.29 73.88,574.61 74.12,574.93 74.35,575.26 74.6,575.59 74.85,575.93 75.11,576.27 75.37,576.61 75.64,576.96 75.91,577.32 76.19,577.67 76.48,578.03 76.77,578.39 77.07,578.76 77.37,579.12 77.68,579.49 77.99,579.86 78.31,580.24 78.64,580.61 78.98,580.99 79.31,581.36 79.66,581.74 80.01,582.12 80.37,582.5 80.73,582.88 81.1,583.25 81.47,583.63 81.85,584.01 82.24,584.39 82.63,584.77 83.03,585.15 83.43,585.52 83.84,585.9 84.26,586.27 84.68,586.64 85.1,587.01 85.54,587.38 85.98,587.75 86.42,588.11 86.87,588.47 87.33,588.83 87.79,589.19 88.26,589.54 88.74,589.89 89.22,590.24 89.7,590.59 90.19,590.93 90.69,591.27 91.2,591.6 91.71,591.94 92.22,592.27 92.74,592.59 93.27,592.91 93.8,593.23 94.34,593.54 94.89,593.85 95.44,594.16 96,594.46 96.56,594.76 97.13,595.05 97.7,595.34 98.28,595.63 98.87,595.91 99.46,596.18 100.06,596.45 100.67,596.72 101.28,596.99 101.89,597.24 102.51,597.5 103.14,597.75 103.77,597.99 104.41,598.23 105.06,598.47 105.71,598.7 106.37,598.93 107.03,599.15 107.7,599.37 108.38,599.59 109.06,599.8 109.74,600 110.44,600.2 111.13,600.4 111.84,600.59 112.55,600.78 113.26,600.96 113.99,601.14 114.71,601.32 115.45,601.49 116.19,601.66 116.93,601.82 117.68,601.98 118.44,602.14 119.21,602.29 119.97,602.44 120.75,602.58 121.53,602.72 122.32,602.86 123.11,602.99 123.91,603.12 124.71,603.25 125.52,603.37 126.34,603.49 127.16,603.61 127.99,603.72 128.82,603.83 129.66,603.93 130.51,604.04 131.36,604.14 132.22,604.24 133.08,604.33 133.95,604.42 134.83,604.51 135.71,604.6 136.6,604.68 137.49,604.76 138.39,604.84 139.29,604.91 140.2,604.99 141.12,605.06 142.04,605.13 142.97,605.19 143.91,605.26 144.85,605.32 145.79,605.38 146.74,605.43 147.7,605.49 148.66,605.54 149.63,605.6 150.61,605.65 151.59,605.69 152.58,605.74 153.57,605.78 154.57,605.83 155.58,605.87 156.59,605.91 157.6,605.95 158.63,605.98 159.65,606.02 160.69,606.05 161.73,606.09 162.78,606.12 163.83,606.15 164.89,606.18 165.95,606.21 167.02,606.23 168.09,606.26 169.18,606.28 170.26,606.31 171.36,606.33 172.46,606.35 173.56,606.37 174.67,606.39 175.79,606.41 176.91,606.43 178.04,606.45 179.18,606.47 180.32,606.48 181.46,606.5 182.62,606.51 183.77,606.53 184.94,606.54 186.11,606.55 187.28,606.57 188.46,606.58 189.65,606.59 190.85,606.6 192.05,606.61 193.25,606.62 194.46,606.63 195.68,606.64 196.9,606.65 198.13,606.65 199.37,606.66 200.61,606.67 201.85,606.68 203.11,606.68 204.36,606.69 205.63,606.69 206.9,606.7 208.18,606.71 209.46,606.71 210.74,606.72 212.04,606.72 213.34,606.72 214.64,606.73 215.96,606.73 217.27,606.74 218.6,606.74 219.93,606.74 221.26,606.75 222.6,606.75 223.95,606.75 225.3,606.76 226.66,606.76 228.02,606.76 229.39,606.76 230.77,606.77 232.15,606.77 233.54,606.77 234.93,606.77 236.33,606.77 237.74,606.77 239.15,606.78 240.57,606.78 241.99,606.78 243.42,606.78 244.86,606.78 246.3,606.78 247.75,606.78 249.2,606.78 250.66,606.79 252.12,606.79 253.59,606.79 255.07,606.79 256.55,606.79 258.04,606.79 259.53,606.79 261.03,606.79 262.54,606.79 264.05,606.79 265.57,606.79 267.09,606.79 268.62,606.79 270.16,606.79 271.7,606.79 273.25,606.8 274.8,606.8 276.36,606.8 277.92,606.8 279.49,606.8 281.07,606.8 282.65,606.8 284.24,606.8 285.84,606.8 287.44,606.8 289.04,606.8 290.65,606.8 292.27,606.8 293.9,606.8 295.53,606.8 297.16,606.8 298.8,606.8 300.45,606.8 302.1,606.8 303.76,606.8 305.43,606.8 307.1,606.8 308.78,606.8 310.46,606.8 312.15,606.8 313.84,606.8 315.54,606.8 317.25,606.8 318.96,606.8 320.68,606.8 322.4,606.8 324.13,606.8 325.87,606.8 327.61,606.8 329.36,606.8 331.11,606.8 332.87,606.8 334.64,606.8" fill="none" stroke="#ff5050" stroke-width="0.9" stroke-linejoin="round" />
<polyline points="69.4,567.7 69.4,567.7 69.41,567.72 69.43,567.74 69.45,567.76 69.47,567.8 69.51,567.84 69.54,567.9 69.59,567.96 69.64,568.02 69.69,568.1 69.76,568.18 69.82,568.27 69.9,568.37 69.98,568.48 70.06,568.59 70.15,568.72 70.25,568.85 70.35,568.98 70.46,569.13 70.58,569.28 70.7,569.44 70.83,569.61 70.96,569.78 71.1,569.96 71.24,570.15 71.39,570.35 71.55,570.55 71.71,570.76 71.88,570.97 72.05,571.2 72.23,571.42 72.42,571.66 72.61,571.9 72.81,572.15 73.01,572.41 73.22,572.67 73.43,572.93 73.66,573.21 73.88,573.49 74.12,573.77 74.35,574.06 74.6,574.36 74.85,574.66 75.11,574.96 75.37,575.27 75.64,575.59 75.91,575.91 76.19,576.24 76.48,576.57 76.77,576.91 77.07,577.25 77.37,577.59 77.68,577.94 77.99,578.29 78.31,578.65 78.64,579.01 78.98,579.37 79.31,579.74 79.66,580.11 80.01,580.49 80.37,580.86 80.73,581.25 81.1,581.63 81.47,582.02 81.85,582.4 82.24,582.8 82.63,583.19 83.03,583.59 83.43,583.99 83.84,584.39 84.26,584.79 84.68,585.2 85.1,585.6 85.54,586.01 85.98,586.42 86.42,586.83 86.87,587.24 87.33,587.65 87.79,588.07 88.26,588.48 88.74,588.9 89.22,589.31 89.7,589.73 90.19,590.14 90.69,590.56 91.2,590.98 91.71,591.4 92.22,591.81 92.74,592.23 93.27,592.64 93.8,593.06 94.34,593.47 94.89,593.89 95.44,594.3 96,594.72 96.56,595.13 97.13,595.54 97.7,595.95 98.28,596.36 98.87,596.76 99.46,597.17 100.06,597.57 100.67,597.97 101.28,598.37 101.89,598.77 102.51,599.17 103.14,599.56 103.77,599.96 104.41,600.35 105.06,600.74 105.71,601.12 106.37,601.51 107.03,601.89 107.7,602.27 108.38,602.64 109.06,603.02 109.74,603.39 110.44,603.76 111.13,604.12 111.84,604.49 112.55,604.85 113.26,605.2 113.99,605.56 114.71,605.91 115.45,606.26 116.19,606.6 116.93,606.94 117.68,607.28 118.44,607.62 119.21,607.95 119.97,608.28 120.75,608.6 121.53,608.93 122.32,609.24 123.11,609.56 123.91,609.87 124.71,610.18 125.52,610.48 126.34,610.79 127.16,611.08 127.99,611.38 128.82,611.67 129.66,611.96 130.51,612.24 131.36,612.52 132.22,612.8 133.08,613.07 133.95,613.34 134.83,613.61 135.71,613.87 136.6,614.13 137.49,614.38 138.39,614.64 139.29,614.88 140.2,615.13 141.12,615.37 142.04,615.61 142.97,615.84 143.91,616.07 144.85,616.3 145.79,616.52 146.74,616.74 147.7,616.96 148.66,617.17 149.63,617.38 150.61,617.59 151.59,617.79 152.58,617.99 153.57,618.19 154.57,618.38 155.58,618.57 156.59,618.76 157.6,618.94 158.63,619.12 159.65,619.3 160.69,619.47 161.73,619.64 162.78,619.81 163.83,619.97 164.89,620.13 165.95,620.29 167.02,620.45 168.09,620.6 169.18,620.75 170.26,620.9 171.36,621.04 172.46,621.18 173.56,621.32 174.67,621.45 175.79,621.59 176.91,621.72 178.04,621.84 179.18,621.97 180.32,622.09 181.46,622.21 182.62,622.33 183.77,622.44 184.94,622.55 186.11,622.66 187.28,622.77 188.46,622.87 189.65,622.98 190.85,623.08 192.05,623.18 193.25,623.27 194.46,623.36 195.68,623.46 196.9,623.55 198.13,623.63 199.37,623.72 200.61,623.8 201.85,623.88 203.11,623.96 204.36,624.04 205.63,624.11 206.9,624.19 208.18,624.26 209.46,624.33 210.74,624.4 212.04,624.47 213.34,624.53 214.64,624.59 215.96,624.66 217.27,624.72 218.6,624.77 219.93,624.83 221.26,624.89 222.6,624.94 223.95,624.99 225.3,625.05 226.66,625.1 228.02,625.15 229.39,625.19 230.77,625.24 232.15,625.28 233.54,625.33 234.93,625.37 236.33,625.41 237.74,625.45 239.15,625.49 240.57,625.53 241.99,625.57 243.42,625.6 244.86,625.64 246.3,625.67 247.75,625.7 249.2,625.73 250.66,625.77 252.12,625.8 253.59,625.82 255.07,625.85 256.55,625.88 258.04,625.91 259.53,625.93 261.03,625.96 262.54,625.98 264.05,626.01 265.57,626.03 267.09,626.05 268.62,626.07 270.16,626.09 271.7,626.11 273.25,626.13 274.8,626.15 276.36,626.17 277.92,626.19 279.49,626.21 281.07,626.22 282.65,626.24 284.24,626.25 285.84,626.27 287.44,626.28 289.04,626.3 290.65,626.31 292.27,626.32 293.9,626.34 295.53,626.35 297.16,626.36 298.8,626.37 300.45,626.38 302.1,626.39 303.76,626.41 305.43,626.42 307.1,626.43 308.78,626.43 310.46,626.44 312.15,626.45 313.84,626.46 315.54,626.47 317.25,626.48 318.96,626.48 320.68,626.49 322.4,626.5 324.13,626.51 325.87,626.51 327.61,626.52 329.36,626.52 331.11,626.53 332.87,626.54 334.64,626.54" fill="none" stroke="#ff5050" stroke-width="0.9" stroke-linejoin="round" />
<polyline points="69.4,567.7 69.4,567.75 69.41,567.91 69.43,568.16 69.45,568.52 69.47,568.98 69.51,569.54 69.54,570.2 69.59,570.96 69.64,571.82 69.69,572.77 69.76,573.82 69.82,574.96 69.9,576.19 69.98,577.51 70.06,578.91 70.15,580.4 70.25,581.97 70.35,583.62 70.46,585.35 70.58,587.15 70.7,589.02 70.83,590.96 70.96,592.97 71.1,595.03 71.24,597.16 71.39,599.34 71.55,601.57 71.71,603.86 71.88,606.18 72.05,608.56 72.23,610.97 72.42,613.41 72.61,615.89 72.81,618.4 73.01,620.93 73.22,623.48 73.43,626.06 73.66,628.64 73.88,631.25 74.12,633.86 74.35,636.47 74.6,639.09 74.85,641.71 75.11,644.33 75.37,646.94 75.64,649.54 75.91,652.13 76.19,654.71 76.48,657.27 76.77,659.81 77.07,662.33 77.37,664.83 77.68,667.3 77.99,669.75 78.31,672.16 78.64,674.54 78.98,676.9 79.31,679.21 79.66,681.49 80.01,683.74 80.37,685.94 80.73,688.1 81.1,690.23 81.47,692.31 81.85,694.35 82.24,696.35 82.63,698.3 83.03,700.21 83.43,702.07 83.84,703.89 84.26,705.66 84.68,707.39 85.1,709.07 85.54,710.7 85.98,712.29 86.42,713.83 86.87,715.33 87.33,716.78 87.79,718.19 88.26,719.55 88.74,720.87 89.22,722.14 89.7,723.38 90.19,724.57 90.69,725.71 91.2,726.82 91.71,727.89 92.22,728.91 92.74,729.9 93.27,730.85 93.8,731.77 94.34,732.64 94.89,733.48 95.44,734.29 96,735.06 96.56,735.8 97.13,736.51 97.7,737.19 98.28,737.84 98.87,738.45 99.46,739.04 100.06,739.61 100.67,740.14 101.28,740.65 101.89,741.14 102.51,741.6 103.14,742.04 103.77,742.46 104.41,742.86 105.06,743.23 105.71,743.59 106.37,743.93 107.03,744.25 107.7,744.55 108.38,744.84 109.06,745.11 109.74,745.36 110.44,745.6 111.13,745.83 111.84,746.04 112.55,746.25 113.26,746.44 113.99,746.62 114.71,746.78 115.45,746.94 116.19,747.09 116.93,747.23 117.68,747.36 118.44,747.48 119.21,747.6 119.97,747.7 120.75,747.81 121.53,747.9 122.32,747.99 123.11,748.07 123.91,748.15 124.71,748.22 125.52,748.28 126.34,748.35 127.16,748.4 127.99,748.46 128.82,748.51 129.66,748.55 130.51,748.6 131.36,748.64 132.22,748.67 133.08,748.71 133.95,748.74 134.83,748.77 135.71,748.8 136.6,748.82 137.49,748.84 138.39,748.87 139.29,748.89 140.2,748.9 141.12,748.92 142.04,748.94 142.97,748.95 143.91,748.96 144.85,748.98 145.79,748.99 146.74,749 147.7,749.01 148.66,749.01 149.63,749.02 150.61,749.03 151.59,749.04 152.58,749.04 153.57,749.05 154.57,749.05 155.58,749.06 156.59,749.06 157.6,749.07 158.63,749.07 159.65,749.07 160.69,749.08 161.73,749.08 162.78,749.08 163.83,749.08 164.89,749.08 165.95,749.09 167.02,749.09 168.09,749.09 169.18,749.09 170.26,749.09 171.36,749.09 172.46,749.09 173.56,749.09 174.67,749.1 175.79,749.1 176.91,749.1 178.04,749.1 179.18,749.1 180.32,749.1 181.46,749.1 182.62,749.1 183.77,749.1 184.94,749.1 186.11,749.1 187.28,749.1 188.46,749.1 189.65,749.1 190.85,749.1 192.05,749.1 193.25,749.1 194.46,749.1 195.68,749.1 196.9,749.1 198.13,749.1 199.37,749.1 200.61,749.1 201.85,749.1 203.11,749.1 204.36,749.1 205.63,749.1 206.9,749.1 208.18,749.1 209.46,749.1 210.74,749.1 212.04,749.1 213.34,749.1 214.64,749.1 215.96,749.1 217.27,749.1 218.6,749.1 219.93,749.1 221.26,749.1 222.6,749.1 223.95,749.1 225.3,749.1 226.66,749.1 228.02,749.1 229.39,749.1 230.77,749.1 232.15,749.1 233.54,749.1 234.93,749.1 236.33,749.1 237.74,749.1 239.15,749.1 240.57,749.1 241.99,749.1 243.42,749.1 244.86,749.1 246.3,749.1 247.75,749.1 249.2,749.1 250.66,749.1 252.12,749.1 253.59,749.1 255.07,749.1 256.55,749.1 258.04,749.1 259.53,749.1 261.03,749.1 262.54,749.1 264.05,749.1 265.57,749.1 267.09,749.1 268.62,749.1 270.16,749.1 271.7,749.1 273.25,749.1 274.8,749.1 276.36,749.1 277.92,749.1 279.49,749.1 281.07,749.1 282.65,749.1 284.24,749.1 285.84,749.1 287.44,749.1 289.04,749.1 290.65,749.1 292.27,749.1 293.9,749.1 295.53,749.1 297.16,749.1 298.8,749.1 300.45,749.1 302.1,749.1 303.76,749.1 305.43,749.1 307.1,749.1 308.78,749.1 310.46,749.1 312.15,749.1 313.84,749.1 315.54,749.1 317.25,749.1 318.96,749.1 320.68,749.1 322.4,749.1 324.13,749.1 325.87,749.1 327.61,749.1 329.36,749.1 331.11,749.1 332.87,749.1 334.64,749.1" fill="none" stroke="#ff5050" stroke-width="0.9" stroke-linejoin="round" />
</g>
<g clip-path="url(#cu)">
<line x1="69.6" y1="411.4" x2="69.6" y2="419.4" stroke="#555" stroke-width="0.8" />
<line x1="67.9" y1="411.4" x2="71.3" y2="411.4" stroke="#555" stroke-width="0.8" />
<line x1="67.9" y1="419.4" x2="71.3" y2="419.4" stroke="#555" stroke-width="0.8" />
<line x1="73.6" y1="381.3" x2="73.6" y2="389.3" stroke="#555" stroke-width="0.8" />
<line x1="71.9" y1="381.3" x2="75.3" y2="381.3" stroke="#555" stroke-width="0.8" />
<line x1="71.9" y1="389.3" x2="75.3" y2="389.3" stroke="#555" stroke-width="0.8" />
<line x1="79.6" y1="376" x2="85.6" y2="376" stroke="#555" stroke-width="0.8" />
<line x1="79.6" y1="374.3" x2="79.6" y2="377.7" stroke="#555" stroke-width="0.8" />
<line x1="85.6" y1="374.3" x2="85.6" y2="377.7" stroke="#555" stroke-width="0.8" />
<line x1="82.6" y1="372" x2="82.6" y2="380" stroke="#555" stroke-width="0.8" />
<line x1="80.9" y1="372" x2="84.3" y2="372" stroke="#555" stroke-width="0.8" />
<line x1="80.9" y1="380" x2="84.3" y2="380" stroke="#555" stroke-width="0.8" />
<line x1="96" y1="370.1" x2="109" y2="370.1" stroke="#555" stroke-width="0.8" />
<line x1="96" y1="368.4" x2="96" y2="371.8" stroke="#555" stroke-width="0.8" />
<line x1="109" y1="368.4" x2="109" y2="371.8" stroke="#555" stroke-width="0.8" />
<line x1="102.5" y1="366.1" x2="102.5" y2="374.1" stroke="#555" stroke-width="0.8" />
<line x1="100.8" y1="366.1" x2="104.2" y2="366.1" stroke="#555" stroke-width="0.8" />
<line x1="100.8" y1="374.1" x2="104.2" y2="374.1" stroke="#555" stroke-width="0.8" />
<line x1="116.7" y1="366.6" x2="141.7" y2="366.6" stroke="#555" stroke-width="0.8" />
<line x1="116.7" y1="364.9" x2="116.7" y2="368.3" stroke="#555" stroke-width="0.8" />
<line x1="141.7" y1="364.9" x2="141.7" y2="368.3" stroke="#555" stroke-width="0.8" />
<line x1="129.2" y1="362.6" x2="129.2" y2="370.6" stroke="#555" stroke-width="0.8" />
<line x1="127.5" y1="362.6" x2="130.9" y2="362.6" stroke="#555" stroke-width="0.8" />
<line x1="127.5" y1="370.6" x2="130.9" y2="370.6" stroke="#555" stroke-width="0.8" />
<line x1="159.5" y1="363.9" x2="204.5" y2="363.9" stroke="#555" stroke-width="0.8" />
<line x1="159.5" y1="362.2" x2="159.5" y2="365.6" stroke="#555" stroke-width="0.8" />
<line x1="204.5" y1="362.2" x2="204.5" y2="365.6" stroke="#555" stroke-width="0.8" />
<line x1="182" y1="359.9" x2="182" y2="367.9" stroke="#555" stroke-width="0.8" />
<line x1="180.3" y1="359.9" x2="183.7" y2="359.9" stroke="#555" stroke-width="0.8" />
<line x1="180.3" y1="367.9" x2="183.7" y2="367.9" stroke="#555" stroke-width="0.8" />
<line x1="173.6" y1="363.6" x2="223.6" y2="363.6" stroke="#555" stroke-width="0.8" />
<line x1="173.6" y1="361.9" x2="173.6" y2="365.3" stroke="#555" stroke-width="0.8" />
<line x1="223.6" y1="361.9" x2="223.6" y2="365.3" stroke="#555" stroke-width="0.8" />
<line x1="198.6" y1="359.6" x2="198.6" y2="367.6" stroke="#555" stroke-width="0.8" />
<line x1="196.9" y1="359.6" x2="200.3" y2="359.6" stroke="#555" stroke-width="0.8" />
<line x1="196.9" y1="367.6" x2="200.3" y2="367.6" stroke="#555" stroke-width="0.8" />
<line x1="215.3" y1="362.3" x2="289.3" y2="362.3" stroke="#555" stroke-width="0.8" />
<line x1="215.3" y1="360.6" x2="215.3" y2="364" stroke="#555" stroke-width="0.8" />
<line x1="289.3" y1="360.6" x2="289.3" y2="364" stroke="#555" stroke-width="0.8" />
<line x1="252.3" y1="358.3" x2="252.3" y2="366.3" stroke="#555" stroke-width="0.8" />
<line x1="250.6" y1="358.3" x2="254" y2="358.3" stroke="#555" stroke-width="0.8" />
<line x1="250.6" y1="366.3" x2="254" y2="366.3" stroke="#555" stroke-width="0.8" />
<line x1="281.7" y1="361" x2="387.7" y2="361" stroke="#555" stroke-width="0.8" />
<line x1="281.7" y1="359.3" x2="281.7" y2="362.7" stroke="#555" stroke-width="0.8" />
<line x1="387.7" y1="359.3" x2="387.7" y2="362.7" stroke="#555" stroke-width="0.8" />
<line x1="334.7" y1="357" x2="334.7" y2="365" stroke="#555" stroke-width="0.8" />
<line x1="333" y1="357" x2="336.4" y2="357" stroke="#555" stroke-width="0.8" />
<line x1="333" y1="365" x2="336.4" y2="365" stroke="#555" stroke-width="0.8" />
<line x1="69.6" y1="501.8" x2="69.6" y2="508.8" stroke="#6a6aff" stroke-width="0.8" />
<line x1="67.9" y1="501.8" x2="71.3" y2="501.8" stroke="#6a6aff" stroke-width="0.8" />
<line x1="67.9" y1="508.8" x2="71.3" y2="508.8" stroke="#6a6aff" stroke-width="0.8" />
<line x1="73.6" y1="458.5" x2="73.6" y2="465.5" stroke="#6a6aff" stroke-width="0.8" />
<line x1="71.9" y1="458.5" x2="75.3" y2="458.5" stroke="#6a6aff" stroke-width="0.8" />
<line x1="71.9" y1="465.5" x2="75.3" y2="465.5" stroke="#6a6aff" stroke-width="0.8" />
<line x1="79.6" y1="446.2" x2="85.6" y2="446.2" stroke="#6a6aff" stroke-width="0.8" />
<line x1="79.6" y1="444.5" x2="79.6" y2="447.9" stroke="#6a6aff" stroke-width="0.8" />
<line x1="85.6" y1="444.5" x2="85.6" y2="447.9" stroke="#6a6aff" stroke-width="0.8" />
<line x1="82.6" y1="442.7" x2="82.6" y2="449.7" stroke="#6a6aff" stroke-width="0.8" />
<line x1="80.9" y1="442.7" x2="84.3" y2="442.7" stroke="#6a6aff" stroke-width="0.8" />
<line x1="80.9" y1="449.7" x2="84.3" y2="449.7" stroke="#6a6aff" stroke-width="0.8" />
<line x1="96" y1="431.2" x2="109" y2="431.2" stroke="#6a6aff" stroke-width="0.8" />
<line x1="96" y1="429.5" x2="96" y2="432.9" stroke="#6a6aff" stroke-width="0.8" />
<line x1="109" y1="429.5" x2="109" y2="432.9" stroke="#6a6aff" stroke-width="0.8" />
<line x1="102.5" y1="427.7" x2="102.5" y2="434.7" stroke="#6a6aff" stroke-width="0.8" />
<line x1="100.8" y1="427.7" x2="104.2" y2="427.7" stroke="#6a6aff" stroke-width="0.8" />
<line x1="100.8" y1="434.7" x2="104.2" y2="434.7" stroke="#6a6aff" stroke-width="0.8" />
<line x1="116.7" y1="425.2" x2="141.7" y2="425.2" stroke="#6a6aff" stroke-width="0.8" />
<line x1="116.7" y1="423.5" x2="116.7" y2="426.9" stroke="#6a6aff" stroke-width="0.8" />
<line x1="141.7" y1="423.5" x2="141.7" y2="426.9" stroke="#6a6aff" stroke-width="0.8" />
<line x1="129.2" y1="421.7" x2="129.2" y2="428.7" stroke="#6a6aff" stroke-width="0.8" />
<line x1="127.5" y1="421.7" x2="130.9" y2="421.7" stroke="#6a6aff" stroke-width="0.8" />
<line x1="127.5" y1="428.7" x2="130.9" y2="428.7" stroke="#6a6aff" stroke-width="0.8" />
<line x1="159.5" y1="416.2" x2="204.5" y2="416.2" stroke="#6a6aff" stroke-width="0.8" />
<line x1="159.5" y1="414.5" x2="159.5" y2="417.9" stroke="#6a6aff" stroke-width="0.8" />
<line x1="204.5" y1="414.5" x2="204.5" y2="417.9" stroke="#6a6aff" stroke-width="0.8" />
<line x1="182" y1="412.7" x2="182" y2="419.7" stroke="#6a6aff" stroke-width="0.8" />
<line x1="180.3" y1="412.7" x2="183.7" y2="412.7" stroke="#6a6aff" stroke-width="0.8" />
<line x1="180.3" y1="419.7" x2="183.7" y2="419.7" stroke="#6a6aff" stroke-width="0.8" />
<line x1="173.6" y1="415.6" x2="223.6" y2="415.6" stroke="#6a6aff" stroke-width="0.8" />
<line x1="173.6" y1="413.9" x2="173.6" y2="417.3" stroke="#6a6aff" stroke-width="0.8" />
<line x1="223.6" y1="413.9" x2="223.6" y2="417.3" stroke="#6a6aff" stroke-width="0.8" />
<line x1="198.6" y1="412.1" x2="198.6" y2="419.1" stroke="#6a6aff" stroke-width="0.8" />
<line x1="196.9" y1="412.1" x2="200.3" y2="412.1" stroke="#6a6aff" stroke-width="0.8" />
<line x1="196.9" y1="419.1" x2="200.3" y2="419.1" stroke="#6a6aff" stroke-width="0.8" />
<line x1="215.3" y1="410" x2="289.3" y2="410" stroke="#6a6aff" stroke-width="0.8" />
<line x1="215.3" y1="408.3" x2="215.3" y2="411.7" stroke="#6a6aff" stroke-width="0.8" />
<line x1="289.3" y1="408.3" x2="289.3" y2="411.7" stroke="#6a6aff" stroke-width="0.8" />
<line x1="252.3" y1="406.5" x2="252.3" y2="413.5" stroke="#6a6aff" stroke-width="0.8" />
<line x1="250.6" y1="406.5" x2="254" y2="406.5" stroke="#6a6aff" stroke-width="0.8" />
<line x1="250.6" y1="413.5" x2="254" y2="413.5" stroke="#6a6aff" stroke-width="0.8" />
<line x1="281.7" y1="402.6" x2="387.7" y2="402.6" stroke="#6a6aff" stroke-width="0.8" />
<line x1="281.7" y1="400.9" x2="281.7" y2="404.3" stroke="#6a6aff" stroke-width="0.8" />
<line x1="387.7" y1="400.9" x2="387.7" y2="404.3" stroke="#6a6aff" stroke-width="0.8" />
<line x1="334.7" y1="399.1" x2="334.7" y2="406.1" stroke="#6a6aff" stroke-width="0.8" />
<line x1="333" y1="399.1" x2="336.4" y2="399.1" stroke="#6a6aff" stroke-width="0.8" />
<line x1="333" y1="406.1" x2="336.4" y2="406.1" stroke="#6a6aff" stroke-width="0.8" />
<line x1="69.6" y1="435.8" x2="69.6" y2="441.8" stroke="#555" stroke-width="0.8" />
<line x1="67.9" y1="435.8" x2="71.3" y2="435.8" stroke="#555" stroke-width="0.8" />
<line x1="67.9" y1="441.8" x2="71.3" y2="441.8" stroke="#555" stroke-width="0.8" />
<line x1="73.6" y1="424.7" x2="73.6" y2="430.7" stroke="#555" stroke-width="0.8" />
<line x1="71.9" y1="424.7" x2="75.3" y2="424.7" stroke="#555" stroke-width="0.8" />
<line x1="71.9" y1="430.7" x2="75.3" y2="430.7" stroke="#555" stroke-width="0.8" />
<line x1="79.6" y1="423.4" x2="85.6" y2="423.4" stroke="#555" stroke-width="0.8" />
<line x1="79.6" y1="421.7" x2="79.6" y2="425.1" stroke="#555" stroke-width="0.8" />
<line x1="85.6" y1="421.7" x2="85.6" y2="425.1" stroke="#555" stroke-width="0.8" />
<line x1="82.6" y1="420.4" x2="82.6" y2="426.4" stroke="#555" stroke-width="0.8" />
<line x1="80.9" y1="420.4" x2="84.3" y2="420.4" stroke="#555" stroke-width="0.8" />
<line x1="80.9" y1="426.4" x2="84.3" y2="426.4" stroke="#555" stroke-width="0.8" />
<line x1="96" y1="418.5" x2="109" y2="418.5" stroke="#555" stroke-width="0.8" />
<line x1="96" y1="416.8" x2="96" y2="420.2" stroke="#555" stroke-width="0.8" />
<line x1="109" y1="416.8" x2="109" y2="420.2" stroke="#555" stroke-width="0.8" />
<line x1="102.5" y1="415.5" x2="102.5" y2="421.5" stroke="#555" stroke-width="0.8" />
<line x1="100.8" y1="415.5" x2="104.2" y2="415.5" stroke="#555" stroke-width="0.8" />
<line x1="100.8" y1="421.5" x2="104.2" y2="421.5" stroke="#555" stroke-width="0.8" />
<line x1="116.7" y1="415.4" x2="141.7" y2="415.4" stroke="#555" stroke-width="0.8" />
<line x1="116.7" y1="413.7" x2="116.7" y2="417.1" stroke="#555" stroke-width="0.8" />
<line x1="141.7" y1="413.7" x2="141.7" y2="417.1" stroke="#555" stroke-width="0.8" />
<line x1="129.2" y1="412.4" x2="129.2" y2="418.4" stroke="#555" stroke-width="0.8" />
<line x1="127.5" y1="412.4" x2="130.9" y2="412.4" stroke="#555" stroke-width="0.8" />
<line x1="127.5" y1="418.4" x2="130.9" y2="418.4" stroke="#555" stroke-width="0.8" />
<line x1="159.5" y1="411.3" x2="204.5" y2="411.3" stroke="#555" stroke-width="0.8" />
<line x1="159.5" y1="409.6" x2="159.5" y2="413" stroke="#555" stroke-width="0.8" />
<line x1="204.5" y1="409.6" x2="204.5" y2="413" stroke="#555" stroke-width="0.8" />
<line x1="182" y1="408.3" x2="182" y2="414.3" stroke="#555" stroke-width="0.8" />
<line x1="180.3" y1="408.3" x2="183.7" y2="408.3" stroke="#555" stroke-width="0.8" />
<line x1="180.3" y1="414.3" x2="183.7" y2="414.3" stroke="#555" stroke-width="0.8" />
<line x1="173.6" y1="411.8" x2="223.6" y2="411.8" stroke="#555" stroke-width="0.8" />
<line x1="173.6" y1="410.1" x2="173.6" y2="413.5" stroke="#555" stroke-width="0.8" />
<line x1="223.6" y1="410.1" x2="223.6" y2="413.5" stroke="#555" stroke-width="0.8" />
<line x1="198.6" y1="408.8" x2="198.6" y2="414.8" stroke="#555" stroke-width="0.8" />
<line x1="196.9" y1="408.8" x2="200.3" y2="408.8" stroke="#555" stroke-width="0.8" />
<line x1="196.9" y1="414.8" x2="200.3" y2="414.8" stroke="#555" stroke-width="0.8" />
<line x1="215.3" y1="409.2" x2="289.3" y2="409.2" stroke="#555" stroke-width="0.8" />
<line x1="215.3" y1="407.5" x2="215.3" y2="410.9" stroke="#555" stroke-width="0.8" />
<line x1="289.3" y1="407.5" x2="289.3" y2="410.9" stroke="#555" stroke-width="0.8" />
<line x1="252.3" y1="406.2" x2="252.3" y2="412.2" stroke="#555" stroke-width="0.8" />
<line x1="250.6" y1="406.2" x2="254" y2="406.2" stroke="#555" stroke-width="0.8" />
<line x1="250.6" y1="412.2" x2="254" y2="412.2" stroke="#555" stroke-width="0.8" />
<line x1="281.7" y1="408.7" x2="387.7" y2="408.7" stroke="#555" stroke-width="0.8" />
<line x1="281.7" y1="407" x2="281.7" y2="410.4" stroke="#555" stroke-width="0.8" />
<line x1="387.7" y1="407" x2="387.7" y2="410.4" stroke="#555" stroke-width="0.8" />
<line x1="334.7" y1="405.7" x2="334.7" y2="411.7" stroke="#555" stroke-width="0.8" />
<line x1="333" y1="405.7" x2="336.4" y2="405.7" stroke="#555" stroke-width="0.8" />
<line x1="333" y1="411.7" x2="336.4" y2="411.7" stroke="#555" stroke-width="0.8" />
<line x1="69.6" y1="441.8" x2="69.6" y2="447.8" stroke="#f07070" stroke-width="0.8" />
<line x1="67.9" y1="441.8" x2="71.3" y2="441.8" stroke="#f07070" stroke-width="0.8" />
<line x1="67.9" y1="447.8" x2="71.3" y2="447.8" stroke="#f07070" stroke-width="0.8" />
<line x1="73.6" y1="416" x2="73.6" y2="422" stroke="#f07070" stroke-width="0.8" />
<line x1="71.9" y1="416" x2="75.3" y2="416" stroke="#f07070" stroke-width="0.8" />
<line x1="71.9" y1="422" x2="75.3" y2="422" stroke="#f07070" stroke-width="0.8" />
<line x1="79.6" y1="411.2" x2="85.6" y2="411.2" stroke="#f07070" stroke-width="0.8" />
<line x1="79.6" y1="409.5" x2="79.6" y2="412.9" stroke="#f07070" stroke-width="0.8" />
<line x1="85.6" y1="409.5" x2="85.6" y2="412.9" stroke="#f07070" stroke-width="0.8" />
<line x1="82.6" y1="408.2" x2="82.6" y2="414.2" stroke="#f07070" stroke-width="0.8" />
<line x1="80.9" y1="408.2" x2="84.3" y2="408.2" stroke="#f07070" stroke-width="0.8" />
<line x1="80.9" y1="414.2" x2="84.3" y2="414.2" stroke="#f07070" stroke-width="0.8" />
<line x1="96" y1="409.8" x2="109" y2="409.8" stroke="#f07070" stroke-width="0.8" />
<line x1="96" y1="408.1" x2="96" y2="411.5" stroke="#f07070" stroke-width="0.8" />
<line x1="109" y1="408.1" x2="109" y2="411.5" stroke="#f07070" stroke-width="0.8" />
<line x1="102.5" y1="406.8" x2="102.5" y2="412.8" stroke="#f07070" stroke-width="0.8" />
<line x1="100.8" y1="406.8" x2="104.2" y2="406.8" stroke="#f07070" stroke-width="0.8" />
<line x1="100.8" y1="412.8" x2="104.2" y2="412.8" stroke="#f07070" stroke-width="0.8" />
<line x1="116.7" y1="410.2" x2="141.7" y2="410.2" stroke="#f07070" stroke-width="0.8" />
<line x1="116.7" y1="408.5" x2="116.7" y2="411.9" stroke="#f07070" stroke-width="0.8" />
<line x1="141.7" y1="408.5" x2="141.7" y2="411.9" stroke="#f07070" stroke-width="0.8" />
<line x1="129.2" y1="407.2" x2="129.2" y2="413.2" stroke="#f07070" stroke-width="0.8" />
<line x1="127.5" y1="407.2" x2="130.9" y2="407.2" stroke="#f07070" stroke-width="0.8" />
<line x1="127.5" y1="413.2" x2="130.9" y2="413.2" stroke="#f07070" stroke-width="0.8" />
<line x1="159.5" y1="410.6" x2="204.5" y2="410.6" stroke="#f07070" stroke-width="0.8" />
<line x1="159.5" y1="408.9" x2="159.5" y2="412.3" stroke="#f07070" stroke-width="0.8" />
<line x1="204.5" y1="408.9" x2="204.5" y2="412.3" stroke="#f07070" stroke-width="0.8" />
<line x1="182" y1="407.6" x2="182" y2="413.6" stroke="#f07070" stroke-width="0.8" />
<line x1="180.3" y1="407.6" x2="183.7" y2="407.6" stroke="#f07070" stroke-width="0.8" />
<line x1="180.3" y1="413.6" x2="183.7" y2="413.6" stroke="#f07070" stroke-width="0.8" />
<line x1="173.6" y1="410.6" x2="223.6" y2="410.6" stroke="#f07070" stroke-width="0.8" />
<line x1="173.6" y1="408.9" x2="173.6" y2="412.3" stroke="#f07070" stroke-width="0.8" />
<line x1="223.6" y1="408.9" x2="223.6" y2="412.3" stroke="#f07070" stroke-width="0.8" />
<line x1="198.6" y1="407.6" x2="198.6" y2="413.6" stroke="#f07070" stroke-width="0.8" />
<line x1="196.9" y1="407.6" x2="200.3" y2="407.6" stroke="#f07070" stroke-width="0.8" />
<line x1="196.9" y1="413.6" x2="200.3" y2="413.6" stroke="#f07070" stroke-width="0.8" />
<line x1="215.3" y1="412.5" x2="289.3" y2="412.5" stroke="#f07070" stroke-width="0.8" />
<line x1="215.3" y1="410.8" x2="215.3" y2="414.2" stroke="#f07070" stroke-width="0.8" />
<line x1="289.3" y1="410.8" x2="289.3" y2="414.2" stroke="#f07070" stroke-width="0.8" />
<line x1="252.3" y1="409.5" x2="252.3" y2="415.5" stroke="#f07070" stroke-width="0.8" />
<line x1="250.6" y1="409.5" x2="254" y2="409.5" stroke="#f07070" stroke-width="0.8" />
<line x1="250.6" y1="415.5" x2="254" y2="415.5" stroke="#f07070" stroke-width="0.8" />
<line x1="281.7" y1="413.4" x2="387.7" y2="413.4" stroke="#f07070" stroke-width="0.8" />
<line x1="281.7" y1="411.7" x2="281.7" y2="415.1" stroke="#f07070" stroke-width="0.8" />
<line x1="387.7" y1="411.7" x2="387.7" y2="415.1" stroke="#f07070" stroke-width="0.8" />
<line x1="334.7" y1="410.4" x2="334.7" y2="416.4" stroke="#f07070" stroke-width="0.8" />
<line x1="333" y1="410.4" x2="336.4" y2="410.4" stroke="#f07070" stroke-width="0.8" />
<line x1="333" y1="416.4" x2="336.4" y2="416.4" stroke="#f07070" stroke-width="0.8" />
<line x1="73.6" y1="511.6" x2="73.6" y2="518.6" stroke="#50a050" stroke-width="0.8" />
<line x1="71.9" y1="511.6" x2="75.3" y2="511.6" stroke="#50a050" stroke-width="0.8" />
<line x1="71.9" y1="518.6" x2="75.3" y2="518.6" stroke="#50a050" stroke-width="0.8" />
<line x1="79.6" y1="455.5" x2="85.6" y2="455.5" stroke="#50a050" stroke-width="0.8" />
<line x1="79.6" y1="453.8" x2="79.6" y2="457.2" stroke="#50a050" stroke-width="0.8" />
<line x1="85.6" y1="453.8" x2="85.6" y2="457.2" stroke="#50a050" stroke-width="0.8" />
<line x1="82.6" y1="452" x2="82.6" y2="459" stroke="#50a050" stroke-width="0.8" />
<line x1="80.9" y1="452" x2="84.3" y2="452" stroke="#50a050" stroke-width="0.8" />
<line x1="80.9" y1="459" x2="84.3" y2="459" stroke="#50a050" stroke-width="0.8" />
<line x1="96" y1="438.3" x2="109" y2="438.3" stroke="#50a050" stroke-width="0.8" />
<line x1="96" y1="436.6" x2="96" y2="440" stroke="#50a050" stroke-width="0.8" />
<line x1="109" y1="436.6" x2="109" y2="440" stroke="#50a050" stroke-width="0.8" />
<line x1="102.5" y1="434.8" x2="102.5" y2="441.8" stroke="#50a050" stroke-width="0.8" />
<line x1="100.8" y1="434.8" x2="104.2" y2="434.8" stroke="#50a050" stroke-width="0.8" />
<line x1="100.8" y1="441.8" x2="104.2" y2="441.8" stroke="#50a050" stroke-width="0.8" />
<line x1="116.7" y1="432.2" x2="141.7" y2="432.2" stroke="#50a050" stroke-width="0.8" />
<line x1="116.7" y1="430.5" x2="116.7" y2="433.9" stroke="#50a050" stroke-width="0.8" />
<line x1="141.7" y1="430.5" x2="141.7" y2="433.9" stroke="#50a050" stroke-width="0.8" />
<line x1="129.2" y1="428.7" x2="129.2" y2="435.7" stroke="#50a050" stroke-width="0.8" />
<line x1="127.5" y1="428.7" x2="130.9" y2="428.7" stroke="#50a050" stroke-width="0.8" />
<line x1="127.5" y1="435.7" x2="130.9" y2="435.7" stroke="#50a050" stroke-width="0.8" />
<line x1="159.5" y1="425.9" x2="204.5" y2="425.9" stroke="#50a050" stroke-width="0.8" />
<line x1="159.5" y1="424.2" x2="159.5" y2="427.6" stroke="#50a050" stroke-width="0.8" />
<line x1="204.5" y1="424.2" x2="204.5" y2="427.6" stroke="#50a050" stroke-width="0.8" />
<line x1="182" y1="422.4" x2="182" y2="429.4" stroke="#50a050" stroke-width="0.8" />
<line x1="180.3" y1="422.4" x2="183.7" y2="422.4" stroke="#50a050" stroke-width="0.8" />
<line x1="180.3" y1="429.4" x2="183.7" y2="429.4" stroke="#50a050" stroke-width="0.8" />
<line x1="173.6" y1="424.7" x2="223.6" y2="424.7" stroke="#50a050" stroke-width="0.8" />
<line x1="173.6" y1="423" x2="173.6" y2="426.4" stroke="#50a050" stroke-width="0.8" />
<line x1="223.6" y1="423" x2="223.6" y2="426.4" stroke="#50a050" stroke-width="0.8" />
<line x1="198.6" y1="421.2" x2="198.6" y2="428.2" stroke="#50a050" stroke-width="0.8" />
<line x1="196.9" y1="421.2" x2="200.3" y2="421.2" stroke="#50a050" stroke-width="0.8" />
<line x1="196.9" y1="428.2" x2="200.3" y2="428.2" stroke="#50a050" stroke-width="0.8" />
<line x1="215.3" y1="420.6" x2="289.3" y2="420.6" stroke="#50a050" stroke-width="0.8" />
<line x1="215.3" y1="418.9" x2="215.3" y2="422.3" stroke="#50a050" stroke-width="0.8" />
<line x1="289.3" y1="418.9" x2="289.3" y2="422.3" stroke="#50a050" stroke-width="0.8" />
<line x1="252.3" y1="417.1" x2="252.3" y2="424.1" stroke="#50a050" stroke-width="0.8" />
<line x1="250.6" y1="417.1" x2="254" y2="417.1" stroke="#50a050" stroke-width="0.8" />
<line x1="250.6" y1="424.1" x2="254" y2="424.1" stroke="#50a050" stroke-width="0.8" />
<line x1="281.7" y1="416.7" x2="387.7" y2="416.7" stroke="#50a050" stroke-width="0.8" />
<line x1="281.7" y1="415" x2="281.7" y2="418.4" stroke="#50a050" stroke-width="0.8" />
<line x1="387.7" y1="415" x2="387.7" y2="418.4" stroke="#50a050" stroke-width="0.8" />
<line x1="334.7" y1="413.2" x2="334.7" y2="420.2" stroke="#50a050" stroke-width="0.8" />
<line x1="333" y1="413.2" x2="336.4" y2="413.2" stroke="#50a050" stroke-width="0.8" />
<line x1="333" y1="420.2" x2="336.4" y2="420.2" stroke="#50a050" stroke-width="0.8" />
<line x1="73.6" y1="556.1" x2="73.6" y2="561.1" stroke="#ffa060" stroke-width="0.8" />
<line x1="71.9" y1="556.1" x2="75.3" y2="556.1" stroke="#ffa060" stroke-width="0.8" />
<line x1="71.9" y1="561.1" x2="75.3" y2="561.1" stroke="#ffa060" stroke-width="0.8" />
<line x1="79.6" y1="505.2" x2="85.6" y2="505.2" stroke="#ffa060" stroke-width="0.8" />
<line x1="79.6" y1="503.5" x2="79.6" y2="506.9" stroke="#ffa060" stroke-width="0.8" />
<line x1="85.6" y1="503.5" x2="85.6" y2="506.9" stroke="#ffa060" stroke-width="0.8" />
<line x1="82.6" y1="502.7" x2="82.6" y2="507.7" stroke="#ffa060" stroke-width="0.8" />
<line x1="80.9" y1="502.7" x2="84.3" y2="502.7" stroke="#ffa060" stroke-width="0.8" />
<line x1="80.9" y1="507.7" x2="84.3" y2="507.7" stroke="#ffa060" stroke-width="0.8" />
<line x1="96" y1="474.8" x2="109" y2="474.8" stroke="#ffa060" stroke-width="0.8" />
<line x1="96" y1="473.1" x2="96" y2="476.5" stroke="#ffa060" stroke-width="0.8" />
<line x1="109" y1="473.1" x2="109" y2="476.5" stroke="#ffa060" stroke-width="0.8" />
<line x1="102.5" y1="472.3" x2="102.5" y2="477.3" stroke="#ffa060" stroke-width="0.8" />
<line x1="100.8" y1="472.3" x2="104.2" y2="472.3" stroke="#ffa060" stroke-width="0.8" />
<line x1="100.8" y1="477.3" x2="104.2" y2="477.3" stroke="#ffa060" stroke-width="0.8" />
<line x1="116.7" y1="461.2" x2="141.7" y2="461.2" stroke="#ffa060" stroke-width="0.8" />
<line x1="116.7" y1="459.5" x2="116.7" y2="462.9" stroke="#ffa060" stroke-width="0.8" />
<line x1="141.7" y1="459.5" x2="141.7" y2="462.9" stroke="#ffa060" stroke-width="0.8" />
<line x1="129.2" y1="458.7" x2="129.2" y2="463.7" stroke="#ffa060" stroke-width="0.8" />
<line x1="127.5" y1="458.7" x2="130.9" y2="458.7" stroke="#ffa060" stroke-width="0.8" />
<line x1="127.5" y1="463.7" x2="130.9" y2="463.7" stroke="#ffa060" stroke-width="0.8" />
<line x1="159.5" y1="450.7" x2="204.5" y2="450.7" stroke="#ffa060" stroke-width="0.8" />
<line x1="159.5" y1="449" x2="159.5" y2="452.4" stroke="#ffa060" stroke-width="0.8" />
<line x1="204.5" y1="449" x2="204.5" y2="452.4" stroke="#ffa060" stroke-width="0.8" />
<line x1="182" y1="448.2" x2="182" y2="453.2" stroke="#ffa060" stroke-width="0.8" />
<line x1="180.3" y1="448.2" x2="183.7" y2="448.2" stroke="#ffa060" stroke-width="0.8" />
<line x1="180.3" y1="453.2" x2="183.7" y2="453.2" stroke="#ffa060" stroke-width="0.8" />
<line x1="173.6" y1="449.3" x2="223.6" y2="449.3" stroke="#ffa060" stroke-width="0.8" />
<line x1="173.6" y1="447.6" x2="173.6" y2="451" stroke="#ffa060" stroke-width="0.8" />
<line x1="223.6" y1="447.6" x2="223.6" y2="451" stroke="#ffa060" stroke-width="0.8" />
<line x1="198.6" y1="446.8" x2="198.6" y2="451.8" stroke="#ffa060" stroke-width="0.8" />
<line x1="196.9" y1="446.8" x2="200.3" y2="446.8" stroke="#ffa060" stroke-width="0.8" />
<line x1="196.9" y1="451.8" x2="200.3" y2="451.8" stroke="#ffa060" stroke-width="0.8" />
<line x1="215.3" y1="440.7" x2="289.3" y2="440.7" stroke="#ffa060" stroke-width="0.8" />
<line x1="215.3" y1="439" x2="215.3" y2="442.4" stroke="#ffa060" stroke-width="0.8" />
<line x1="289.3" y1="439" x2="289.3" y2="442.4" stroke="#ffa060" stroke-width="0.8" />
<line x1="252.3" y1="438.2" x2="252.3" y2="443.2" stroke="#ffa060" stroke-width="0.8" />
<line x1="250.6" y1="438.2" x2="254" y2="438.2" stroke="#ffa060" stroke-width="0.8" />
<line x1="250.6" y1="443.2" x2="254" y2="443.2" stroke="#ffa060" stroke-width="0.8" />
<line x1="281.7" y1="433.1" x2="387.7" y2="433.1" stroke="#ffa060" stroke-width="0.8" />
<line x1="281.7" y1="431.4" x2="281.7" y2="434.8" stroke="#ffa060" stroke-width="0.8" />
<line x1="387.7" y1="431.4" x2="387.7" y2="434.8" stroke="#ffa060" stroke-width="0.8" />
<line x1="334.7" y1="430.6" x2="334.7" y2="435.6" stroke="#ffa060" stroke-width="0.8" />
<line x1="333" y1="430.6" x2="336.4" y2="430.6" stroke="#ffa060" stroke-width="0.8" />
<line x1="333" y1="435.6" x2="336.4" y2="435.6" stroke="#ffa060" stroke-width="0.8" />
<line x1="73.6" y1="546" x2="73.6" y2="551" stroke="#6a6aff" stroke-width="0.8" />
<line x1="71.9" y1="546" x2="75.3" y2="546" stroke="#6a6aff" stroke-width="0.8" />
<line x1="71.9" y1="551" x2="75.3" y2="551" stroke="#6a6aff" stroke-width="0.8" />
<line x1="79.6" y1="519.3" x2="85.6" y2="519.3" stroke="#6a6aff" stroke-width="0.8" />
<line x1="79.6" y1="517.6" x2="79.6" y2="521" stroke="#6a6aff" stroke-width="0.8" />
<line x1="85.6" y1="517.6" x2="85.6" y2="521" stroke="#6a6aff" stroke-width="0.8" />
<line x1="82.6" y1="516.8" x2="82.6" y2="521.8" stroke="#6a6aff" stroke-width="0.8" />
<line x1="80.9" y1="516.8" x2="84.3" y2="516.8" stroke="#6a6aff" stroke-width="0.8" />
<line x1="80.9" y1="521.8" x2="84.3" y2="521.8" stroke="#6a6aff" stroke-width="0.8" />
<line x1="96" y1="495.5" x2="109" y2="495.5" stroke="#6a6aff" stroke-width="0.8" />
<line x1="96" y1="493.8" x2="96" y2="497.2" stroke="#6a6aff" stroke-width="0.8" />
<line x1="109" y1="493.8" x2="109" y2="497.2" stroke="#6a6aff" stroke-width="0.8" />
<line x1="102.5" y1="493" x2="102.5" y2="498" stroke="#6a6aff" stroke-width="0.8" />
<line x1="100.8" y1="493" x2="104.2" y2="493" stroke="#6a6aff" stroke-width="0.8" />
<line x1="100.8" y1="498" x2="104.2" y2="498" stroke="#6a6aff" stroke-width="0.8" />
<line x1="116.7" y1="492.2" x2="141.7" y2="492.2" stroke="#6a6aff" stroke-width="0.8" />
<line x1="116.7" y1="490.5" x2="116.7" y2="493.9" stroke="#6a6aff" stroke-width="0.8" />
<line x1="141.7" y1="490.5" x2="141.7" y2="493.9" stroke="#6a6aff" stroke-width="0.8" />
<line x1="129.2" y1="489.7" x2="129.2" y2="494.7" stroke="#6a6aff" stroke-width="0.8" />
<line x1="127.5" y1="489.7" x2="130.9" y2="489.7" stroke="#6a6aff" stroke-width="0.8" />
<line x1="127.5" y1="494.7" x2="130.9" y2="494.7" stroke="#6a6aff" stroke-width="0.8" />
<line x1="159.5" y1="482.1" x2="204.5" y2="482.1" stroke="#6a6aff" stroke-width="0.8" />
<line x1="159.5" y1="480.4" x2="159.5" y2="483.8" stroke="#6a6aff" stroke-width="0.8" />
<line x1="204.5" y1="480.4" x2="204.5" y2="483.8" stroke="#6a6aff" stroke-width="0.8" />
<line x1="182" y1="479.6" x2="182" y2="484.6" stroke="#6a6aff" stroke-width="0.8" />
<line x1="180.3" y1="479.6" x2="183.7" y2="479.6" stroke="#6a6aff" stroke-width="0.8" />
<line x1="180.3" y1="484.6" x2="183.7" y2="484.6" stroke="#6a6aff" stroke-width="0.8" />
<line x1="173.6" y1="482.1" x2="223.6" y2="482.1" stroke="#6a6aff" stroke-width="0.8" />
<line x1="173.6" y1="480.4" x2="173.6" y2="483.8" stroke="#6a6aff" stroke-width="0.8" />
<line x1="223.6" y1="480.4" x2="223.6" y2="483.8" stroke="#6a6aff" stroke-width="0.8" />
<line x1="198.6" y1="479.6" x2="198.6" y2="484.6" stroke="#6a6aff" stroke-width="0.8" />
<line x1="196.9" y1="479.6" x2="200.3" y2="479.6" stroke="#6a6aff" stroke-width="0.8" />
<line x1="196.9" y1="484.6" x2="200.3" y2="484.6" stroke="#6a6aff" stroke-width="0.8" />
<line x1="215.3" y1="476.4" x2="289.3" y2="476.4" stroke="#6a6aff" stroke-width="0.8" />
<line x1="215.3" y1="474.7" x2="215.3" y2="478.1" stroke="#6a6aff" stroke-width="0.8" />
<line x1="289.3" y1="474.7" x2="289.3" y2="478.1" stroke="#6a6aff" stroke-width="0.8" />
<line x1="252.3" y1="473.9" x2="252.3" y2="478.9" stroke="#6a6aff" stroke-width="0.8" />
<line x1="250.6" y1="473.9" x2="254" y2="473.9" stroke="#6a6aff" stroke-width="0.8" />
<line x1="250.6" y1="478.9" x2="254" y2="478.9" stroke="#6a6aff" stroke-width="0.8" />
<line x1="281.7" y1="470.8" x2="387.7" y2="470.8" stroke="#6a6aff" stroke-width="0.8" />
<line x1="281.7" y1="469.1" x2="281.7" y2="472.5" stroke="#6a6aff" stroke-width="0.8" />
<line x1="387.7" y1="469.1" x2="387.7" y2="472.5" stroke="#6a6aff" stroke-width="0.8" />
<line x1="334.7" y1="468.3" x2="334.7" y2="473.3" stroke="#6a6aff" stroke-width="0.8" />
<line x1="333" y1="468.3" x2="336.4" y2="468.3" stroke="#6a6aff" stroke-width="0.8" />
<line x1="333" y1="473.3" x2="336.4" y2="473.3" stroke="#6a6aff" stroke-width="0.8" />
<rect x="66.6" y="413.05" width="6" height="4.7" fill="#000"/>
<rect x="70.6" y="382.95" width="6" height="4.7" fill="#000"/>
<rect x="79.6" y="373.65" width="6" height="4.7" fill="#000"/>
<rect x="99.5" y="367.75" width="6" height="4.7" fill="#000"/>
<rect x="126.2" y="364.25" width="6" height="4.7" fill="#000"/>
<rect x="179" y="361.55" width="6" height="4.7" fill="#000"/>
<rect x="195.6" y="361.25" width="6" height="4.7" fill="#000"/>
<rect x="249.3" y="359.95" width="6" height="4.7" fill="#000"/>
<rect x="331.7" y="358.65" width="6" height="4.7" fill="#000"/>
<rect x="67.1" y="503.3" width="5" height="4" fill="#fff" stroke="#4a4aff" stroke-width="1.1"/>
<rect x="71.1" y="460" width="5" height="4" fill="#fff" stroke="#4a4aff" stroke-width="1.1"/>
<rect x="80.1" y="444.2" width="5" height="4" fill="#fff" stroke="#4a4aff" stroke-width="1.1"/>
<rect x="100" y="429.2" width="5" height="4" fill="#fff" stroke="#4a4aff" stroke-width="1.1"/>
<rect x="126.7" y="423.2" width="5" height="4" fill="#fff" stroke="#4a4aff" stroke-width="1.1"/>
<rect x="179.5" y="414.2" width="5" height="4" fill="#fff" stroke="#4a4aff" stroke-width="1.1"/>
<rect x="196.1" y="413.6" width="5" height="4" fill="#fff" stroke="#4a4aff" stroke-width="1.1"/>
<rect x="249.8" y="408" width="5" height="4" fill="#fff" stroke="#4a4aff" stroke-width="1.1"/>
<rect x="332.2" y="400.6" width="5" height="4" fill="#fff" stroke="#4a4aff" stroke-width="1.1"/>
<ellipse cx="69.6" cy="438.8" rx="2.9" ry="2.4" fill="#000"/>
<ellipse cx="73.6" cy="427.7" rx="2.9" ry="2.4" fill="#000"/>
<ellipse cx="82.6" cy="423.4" rx="2.9" ry="2.4" fill="#000"/>
<ellipse cx="102.5" cy="418.5" rx="2.9" ry="2.4" fill="#000"/>
<ellipse cx="129.2" cy="415.4" rx="2.9" ry="2.4" fill="#000"/>
<ellipse cx="182" cy="411.3" rx="2.9" ry="2.4" fill="#000"/>
<ellipse cx="198.6" cy="411.8" rx="2.9" ry="2.4" fill="#000"/>
<ellipse cx="252.3" cy="409.2" rx="2.9" ry="2.4" fill="#000"/>
<ellipse cx="334.7" cy="408.7" rx="2.9" ry="2.4" fill="#000"/>
<polygon points="69.6,442.2 66.8,447 72.4,447" fill="#ee1111"/>
<polygon points="73.6,416.4 70.8,421.2 76.4,421.2" fill="#ee1111"/>
<polygon points="82.6,408.6 79.8,413.4 85.4,413.4" fill="#ee1111"/>
<polygon points="102.5,407.2 99.7,412 105.3,412" fill="#ee1111"/>
<polygon points="129.2,407.6 126.4,412.4 132,412.4" fill="#ee1111"/>
<polygon points="182,408 179.2,412.8 184.8,412.8" fill="#ee1111"/>
<polygon points="198.6,408 195.8,412.8 201.4,412.8" fill="#ee1111"/>
<polygon points="252.3,409.9 249.5,414.7 255.1,414.7" fill="#ee1111"/>
<polygon points="334.7,410.8 331.9,415.6 337.5,415.6" fill="#ee1111"/>
<polygon points="73.6,517.7 70.7,512.9 76.5,512.9" fill="#1e6e1e"/>
<polygon points="82.6,458.1 79.7,453.3 85.5,453.3" fill="#1e6e1e"/>
<polygon points="102.5,440.9 99.6,436.1 105.4,436.1" fill="#1e6e1e"/>
<polygon points="129.2,434.8 126.3,430 132.1,430" fill="#1e6e1e"/>
<polygon points="182,428.5 179.1,423.7 184.9,423.7" fill="#1e6e1e"/>
<polygon points="198.6,427.3 195.7,422.5 201.5,422.5" fill="#1e6e1e"/>
<polygon points="252.3,423.2 249.4,418.4 255.2,418.4" fill="#1e6e1e"/>
<polygon points="334.7,419.3 331.8,414.5 337.6,414.5" fill="#1e6e1e"/>
<rect x="70.6" y="556.25" width="6" height="4.7" fill="#ff7a1a"/>
<rect x="79.6" y="502.85" width="6" height="4.7" fill="#ff7a1a"/>
<rect x="99.5" y="472.45" width="6" height="4.7" fill="#ff7a1a"/>
<rect x="126.2" y="458.85" width="6" height="4.7" fill="#ff7a1a"/>
<rect x="179" y="448.35" width="6" height="4.7" fill="#ff7a1a"/>
<rect x="195.6" y="446.95" width="6" height="4.7" fill="#ff7a1a"/>
<rect x="249.3" y="438.35" width="6" height="4.7" fill="#ff7a1a"/>
<rect x="331.7" y="430.75" width="6" height="4.7" fill="#ff7a1a"/>
<ellipse cx="73.6" cy="548.5" rx="2.5" ry="2.05" fill="#fff" stroke="#4a4aff" stroke-width="1.2"/>
<ellipse cx="82.6" cy="519.3" rx="2.5" ry="2.05" fill="#fff" stroke="#4a4aff" stroke-width="1.2"/>
<ellipse cx="102.5" cy="495.5" rx="2.5" ry="2.05" fill="#fff" stroke="#4a4aff" stroke-width="1.2"/>
<ellipse cx="129.2" cy="492.2" rx="2.5" ry="2.05" fill="#fff" stroke="#4a4aff" stroke-width="1.2"/>
<ellipse cx="182" cy="482.1" rx="2.5" ry="2.05" fill="#fff" stroke="#4a4aff" stroke-width="1.2"/>
<ellipse cx="198.6" cy="482.1" rx="2.5" ry="2.05" fill="#fff" stroke="#4a4aff" stroke-width="1.2"/>
<ellipse cx="252.3" cy="476.4" rx="2.5" ry="2.05" fill="#fff" stroke="#4a4aff" stroke-width="1.2"/>
<ellipse cx="334.7" cy="470.8" rx="2.5" ry="2.05" fill="#fff" stroke="#4a4aff" stroke-width="1.2"/>
</g>
<clipPath id="cl2"><rect x="55.2" y="565" width="397.2" height="220.3"/></clipPath>
<g clip-path="url(#cl2)">
<line x1="69.6" y1="569.1" x2="69.6" y2="572.1" stroke="#50a050" stroke-width="0.8" />
<line x1="67.9" y1="569.1" x2="71.3" y2="569.1" stroke="#50a050" stroke-width="0.8" />
<line x1="67.9" y1="572.1" x2="71.3" y2="572.1" stroke="#50a050" stroke-width="0.8" />
<line x1="73.6" y1="569.3" x2="73.6" y2="572.3" stroke="#50a050" stroke-width="0.8" />
<line x1="71.9" y1="569.3" x2="75.3" y2="569.3" stroke="#50a050" stroke-width="0.8" />
<line x1="71.9" y1="572.3" x2="75.3" y2="572.3" stroke="#50a050" stroke-width="0.8" />
<line x1="79.6" y1="571" x2="85.6" y2="571" stroke="#50a050" stroke-width="0.8" />
<line x1="79.6" y1="569.3" x2="79.6" y2="572.7" stroke="#50a050" stroke-width="0.8" />
<line x1="85.6" y1="569.3" x2="85.6" y2="572.7" stroke="#50a050" stroke-width="0.8" />
<line x1="82.6" y1="569.5" x2="82.6" y2="572.5" stroke="#50a050" stroke-width="0.8" />
<line x1="80.9" y1="569.5" x2="84.3" y2="569.5" stroke="#50a050" stroke-width="0.8" />
<line x1="80.9" y1="572.5" x2="84.3" y2="572.5" stroke="#50a050" stroke-width="0.8" />
<line x1="96" y1="571.7" x2="109" y2="571.7" stroke="#50a050" stroke-width="0.8" />
<line x1="96" y1="570" x2="96" y2="573.4" stroke="#50a050" stroke-width="0.8" />
<line x1="109" y1="570" x2="109" y2="573.4" stroke="#50a050" stroke-width="0.8" />
<line x1="102.5" y1="570.2" x2="102.5" y2="573.2" stroke="#50a050" stroke-width="0.8" />
<line x1="100.8" y1="570.2" x2="104.2" y2="570.2" stroke="#50a050" stroke-width="0.8" />
<line x1="100.8" y1="573.2" x2="104.2" y2="573.2" stroke="#50a050" stroke-width="0.8" />
<line x1="116.7" y1="572.3" x2="141.7" y2="572.3" stroke="#50a050" stroke-width="0.8" />
<line x1="116.7" y1="570.6" x2="116.7" y2="574" stroke="#50a050" stroke-width="0.8" />
<line x1="141.7" y1="570.6" x2="141.7" y2="574" stroke="#50a050" stroke-width="0.8" />
<line x1="129.2" y1="570.8" x2="129.2" y2="573.8" stroke="#50a050" stroke-width="0.8" />
<line x1="127.5" y1="570.8" x2="130.9" y2="570.8" stroke="#50a050" stroke-width="0.8" />
<line x1="127.5" y1="573.8" x2="130.9" y2="573.8" stroke="#50a050" stroke-width="0.8" />
<line x1="159.5" y1="573.6" x2="204.5" y2="573.6" stroke="#50a050" stroke-width="0.8" />
<line x1="159.5" y1="571.9" x2="159.5" y2="575.3" stroke="#50a050" stroke-width="0.8" />
<line x1="204.5" y1="571.9" x2="204.5" y2="575.3" stroke="#50a050" stroke-width="0.8" />
<line x1="182" y1="572.1" x2="182" y2="575.1" stroke="#50a050" stroke-width="0.8" />
<line x1="180.3" y1="572.1" x2="183.7" y2="572.1" stroke="#50a050" stroke-width="0.8" />
<line x1="180.3" y1="575.1" x2="183.7" y2="575.1" stroke="#50a050" stroke-width="0.8" />
<line x1="173.6" y1="573.6" x2="223.6" y2="573.6" stroke="#50a050" stroke-width="0.8" />
<line x1="173.6" y1="571.9" x2="173.6" y2="575.3" stroke="#50a050" stroke-width="0.8" />
<line x1="223.6" y1="571.9" x2="223.6" y2="575.3" stroke="#50a050" stroke-width="0.8" />
<line x1="198.6" y1="572.1" x2="198.6" y2="575.1" stroke="#50a050" stroke-width="0.8" />
<line x1="196.9" y1="572.1" x2="200.3" y2="572.1" stroke="#50a050" stroke-width="0.8" />
<line x1="196.9" y1="575.1" x2="200.3" y2="575.1" stroke="#50a050" stroke-width="0.8" />
<line x1="215.3" y1="575.1" x2="289.3" y2="575.1" stroke="#50a050" stroke-width="0.8" />
<line x1="215.3" y1="573.4" x2="215.3" y2="576.8" stroke="#50a050" stroke-width="0.8" />
<line x1="289.3" y1="573.4" x2="289.3" y2="576.8" stroke="#50a050" stroke-width="0.8" />
<line x1="252.3" y1="573.6" x2="252.3" y2="576.6" stroke="#50a050" stroke-width="0.8" />
<line x1="250.6" y1="573.6" x2="254" y2="573.6" stroke="#50a050" stroke-width="0.8" />
<line x1="250.6" y1="576.6" x2="254" y2="576.6" stroke="#50a050" stroke-width="0.8" />
<line x1="281.7" y1="575.1" x2="387.7" y2="575.1" stroke="#50a050" stroke-width="0.8" />
<line x1="281.7" y1="573.4" x2="281.7" y2="576.8" stroke="#50a050" stroke-width="0.8" />
<line x1="387.7" y1="573.4" x2="387.7" y2="576.8" stroke="#50a050" stroke-width="0.8" />
<line x1="334.7" y1="573.6" x2="334.7" y2="576.6" stroke="#50a050" stroke-width="0.8" />
<line x1="333" y1="573.6" x2="336.4" y2="573.6" stroke="#50a050" stroke-width="0.8" />
<line x1="333" y1="576.6" x2="336.4" y2="576.6" stroke="#50a050" stroke-width="0.8" />
<line x1="69.6" y1="578.6" x2="69.6" y2="584.6" stroke="#f07070" stroke-width="0.8" />
<line x1="67.9" y1="578.6" x2="71.3" y2="578.6" stroke="#f07070" stroke-width="0.8" />
<line x1="67.9" y1="584.6" x2="71.3" y2="584.6" stroke="#f07070" stroke-width="0.8" />
<line x1="73.6" y1="580.3" x2="73.6" y2="586.3" stroke="#f07070" stroke-width="0.8" />
<line x1="71.9" y1="580.3" x2="75.3" y2="580.3" stroke="#f07070" stroke-width="0.8" />
<line x1="71.9" y1="586.3" x2="75.3" y2="586.3" stroke="#f07070" stroke-width="0.8" />
<line x1="79.6" y1="589.9" x2="85.6" y2="589.9" stroke="#f07070" stroke-width="0.8" />
<line x1="79.6" y1="588.2" x2="79.6" y2="591.6" stroke="#f07070" stroke-width="0.8" />
<line x1="85.6" y1="588.2" x2="85.6" y2="591.6" stroke="#f07070" stroke-width="0.8" />
<line x1="82.6" y1="586.9" x2="82.6" y2="592.9" stroke="#f07070" stroke-width="0.8" />
<line x1="80.9" y1="586.9" x2="84.3" y2="586.9" stroke="#f07070" stroke-width="0.8" />
<line x1="80.9" y1="592.9" x2="84.3" y2="592.9" stroke="#f07070" stroke-width="0.8" />
<line x1="96" y1="603.6" x2="109" y2="603.6" stroke="#f07070" stroke-width="0.8" />
<line x1="96" y1="601.9" x2="96" y2="605.3" stroke="#f07070" stroke-width="0.8" />
<line x1="109" y1="601.9" x2="109" y2="605.3" stroke="#f07070" stroke-width="0.8" />
<line x1="102.5" y1="600.6" x2="102.5" y2="606.6" stroke="#f07070" stroke-width="0.8" />
<line x1="100.8" y1="600.6" x2="104.2" y2="600.6" stroke="#f07070" stroke-width="0.8" />
<line x1="100.8" y1="606.6" x2="104.2" y2="606.6" stroke="#f07070" stroke-width="0.8" />
<line x1="116.7" y1="611" x2="141.7" y2="611" stroke="#f07070" stroke-width="0.8" />
<line x1="116.7" y1="609.3" x2="116.7" y2="612.7" stroke="#f07070" stroke-width="0.8" />
<line x1="141.7" y1="609.3" x2="141.7" y2="612.7" stroke="#f07070" stroke-width="0.8" />
<line x1="129.2" y1="608" x2="129.2" y2="614" stroke="#f07070" stroke-width="0.8" />
<line x1="127.5" y1="608" x2="130.9" y2="608" stroke="#f07070" stroke-width="0.8" />
<line x1="127.5" y1="614" x2="130.9" y2="614" stroke="#f07070" stroke-width="0.8" />
<line x1="159.5" y1="619.5" x2="204.5" y2="619.5" stroke="#f07070" stroke-width="0.8" />
<line x1="159.5" y1="617.8" x2="159.5" y2="621.2" stroke="#f07070" stroke-width="0.8" />
<line x1="204.5" y1="617.8" x2="204.5" y2="621.2" stroke="#f07070" stroke-width="0.8" />
<line x1="182" y1="616.5" x2="182" y2="622.5" stroke="#f07070" stroke-width="0.8" />
<line x1="180.3" y1="616.5" x2="183.7" y2="616.5" stroke="#f07070" stroke-width="0.8" />
<line x1="180.3" y1="622.5" x2="183.7" y2="622.5" stroke="#f07070" stroke-width="0.8" />
<line x1="173.6" y1="619.5" x2="223.6" y2="619.5" stroke="#f07070" stroke-width="0.8" />
<line x1="173.6" y1="617.8" x2="173.6" y2="621.2" stroke="#f07070" stroke-width="0.8" />
<line x1="223.6" y1="617.8" x2="223.6" y2="621.2" stroke="#f07070" stroke-width="0.8" />
<line x1="198.6" y1="616.5" x2="198.6" y2="622.5" stroke="#f07070" stroke-width="0.8" />
<line x1="196.9" y1="616.5" x2="200.3" y2="616.5" stroke="#f07070" stroke-width="0.8" />
<line x1="196.9" y1="622.5" x2="200.3" y2="622.5" stroke="#f07070" stroke-width="0.8" />
<line x1="215.3" y1="623.6" x2="289.3" y2="623.6" stroke="#f07070" stroke-width="0.8" />
<line x1="215.3" y1="621.9" x2="215.3" y2="625.3" stroke="#f07070" stroke-width="0.8" />
<line x1="289.3" y1="621.9" x2="289.3" y2="625.3" stroke="#f07070" stroke-width="0.8" />
<line x1="252.3" y1="620.6" x2="252.3" y2="626.6" stroke="#f07070" stroke-width="0.8" />
<line x1="250.6" y1="620.6" x2="254" y2="620.6" stroke="#f07070" stroke-width="0.8" />
<line x1="250.6" y1="626.6" x2="254" y2="626.6" stroke="#f07070" stroke-width="0.8" />
<line x1="281.7" y1="630.2" x2="387.7" y2="630.2" stroke="#f07070" stroke-width="0.8" />
<line x1="281.7" y1="628.5" x2="281.7" y2="631.9" stroke="#f07070" stroke-width="0.8" />
<line x1="387.7" y1="628.5" x2="387.7" y2="631.9" stroke="#f07070" stroke-width="0.8" />
<line x1="334.7" y1="627.2" x2="334.7" y2="633.2" stroke="#f07070" stroke-width="0.8" />
<line x1="333" y1="627.2" x2="336.4" y2="627.2" stroke="#f07070" stroke-width="0.8" />
<line x1="333" y1="633.2" x2="336.4" y2="633.2" stroke="#f07070" stroke-width="0.8" />
<line x1="69.6" y1="569.2" x2="69.6" y2="575.2" stroke="#555" stroke-width="0.8" />
<line x1="67.9" y1="569.2" x2="71.3" y2="569.2" stroke="#555" stroke-width="0.8" />
<line x1="67.9" y1="575.2" x2="71.3" y2="575.2" stroke="#555" stroke-width="0.8" />
<line x1="73.6" y1="580.3" x2="73.6" y2="586.3" stroke="#555" stroke-width="0.8" />
<line x1="71.9" y1="580.3" x2="75.3" y2="580.3" stroke="#555" stroke-width="0.8" />
<line x1="71.9" y1="586.3" x2="75.3" y2="586.3" stroke="#555" stroke-width="0.8" />
<line x1="79.6" y1="589.4" x2="85.6" y2="589.4" stroke="#555" stroke-width="0.8" />
<line x1="79.6" y1="587.7" x2="79.6" y2="591.1" stroke="#555" stroke-width="0.8" />
<line x1="85.6" y1="587.7" x2="85.6" y2="591.1" stroke="#555" stroke-width="0.8" />
<line x1="82.6" y1="586.4" x2="82.6" y2="592.4" stroke="#555" stroke-width="0.8" />
<line x1="80.9" y1="586.4" x2="84.3" y2="586.4" stroke="#555" stroke-width="0.8" />
<line x1="80.9" y1="592.4" x2="84.3" y2="592.4" stroke="#555" stroke-width="0.8" />
<line x1="96" y1="596.2" x2="109" y2="596.2" stroke="#555" stroke-width="0.8" />
<line x1="96" y1="594.5" x2="96" y2="597.9" stroke="#555" stroke-width="0.8" />
<line x1="109" y1="594.5" x2="109" y2="597.9" stroke="#555" stroke-width="0.8" />
<line x1="102.5" y1="593.2" x2="102.5" y2="599.2" stroke="#555" stroke-width="0.8" />
<line x1="100.8" y1="593.2" x2="104.2" y2="593.2" stroke="#555" stroke-width="0.8" />
<line x1="100.8" y1="599.2" x2="104.2" y2="599.2" stroke="#555" stroke-width="0.8" />
<line x1="116.7" y1="598.5" x2="141.7" y2="598.5" stroke="#555" stroke-width="0.8" />
<line x1="116.7" y1="596.8" x2="116.7" y2="600.2" stroke="#555" stroke-width="0.8" />
<line x1="141.7" y1="596.8" x2="141.7" y2="600.2" stroke="#555" stroke-width="0.8" />
<line x1="129.2" y1="595.5" x2="129.2" y2="601.5" stroke="#555" stroke-width="0.8" />
<line x1="127.5" y1="595.5" x2="130.9" y2="595.5" stroke="#555" stroke-width="0.8" />
<line x1="127.5" y1="601.5" x2="130.9" y2="601.5" stroke="#555" stroke-width="0.8" />
<line x1="159.5" y1="601.5" x2="204.5" y2="601.5" stroke="#555" stroke-width="0.8" />
<line x1="159.5" y1="599.8" x2="159.5" y2="603.2" stroke="#555" stroke-width="0.8" />
<line x1="204.5" y1="599.8" x2="204.5" y2="603.2" stroke="#555" stroke-width="0.8" />
<line x1="182" y1="598.5" x2="182" y2="604.5" stroke="#555" stroke-width="0.8" />
<line x1="180.3" y1="598.5" x2="183.7" y2="598.5" stroke="#555" stroke-width="0.8" />
<line x1="180.3" y1="604.5" x2="183.7" y2="604.5" stroke="#555" stroke-width="0.8" />
<line x1="173.6" y1="602.5" x2="223.6" y2="602.5" stroke="#555" stroke-width="0.8" />
<line x1="173.6" y1="600.8" x2="173.6" y2="604.2" stroke="#555" stroke-width="0.8" />
<line x1="223.6" y1="600.8" x2="223.6" y2="604.2" stroke="#555" stroke-width="0.8" />
<line x1="198.6" y1="599.5" x2="198.6" y2="605.5" stroke="#555" stroke-width="0.8" />
<line x1="196.9" y1="599.5" x2="200.3" y2="599.5" stroke="#555" stroke-width="0.8" />
<line x1="196.9" y1="605.5" x2="200.3" y2="605.5" stroke="#555" stroke-width="0.8" />
<line x1="215.3" y1="606.7" x2="289.3" y2="606.7" stroke="#555" stroke-width="0.8" />
<line x1="215.3" y1="605" x2="215.3" y2="608.4" stroke="#555" stroke-width="0.8" />
<line x1="289.3" y1="605" x2="289.3" y2="608.4" stroke="#555" stroke-width="0.8" />
<line x1="252.3" y1="603.7" x2="252.3" y2="609.7" stroke="#555" stroke-width="0.8" />
<line x1="250.6" y1="603.7" x2="254" y2="603.7" stroke="#555" stroke-width="0.8" />
<line x1="250.6" y1="609.7" x2="254" y2="609.7" stroke="#555" stroke-width="0.8" />
<line x1="281.7" y1="609.8" x2="387.7" y2="609.8" stroke="#555" stroke-width="0.8" />
<line x1="281.7" y1="608.1" x2="281.7" y2="611.5" stroke="#555" stroke-width="0.8" />
<line x1="387.7" y1="608.1" x2="387.7" y2="611.5" stroke="#555" stroke-width="0.8" />
<line x1="334.7" y1="606.8" x2="334.7" y2="612.8" stroke="#555" stroke-width="0.8" />
<line x1="333" y1="606.8" x2="336.4" y2="606.8" stroke="#555" stroke-width="0.8" />
<line x1="333" y1="612.8" x2="336.4" y2="612.8" stroke="#555" stroke-width="0.8" />
<line x1="69.6" y1="573.7" x2="69.6" y2="579.7" stroke="#6a6aff" stroke-width="0.8" />
<line x1="67.9" y1="573.7" x2="71.3" y2="573.7" stroke="#6a6aff" stroke-width="0.8" />
<line x1="67.9" y1="579.7" x2="71.3" y2="579.7" stroke="#6a6aff" stroke-width="0.8" />
<line x1="73.6" y1="585.2" x2="73.6" y2="591.2" stroke="#6a6aff" stroke-width="0.8" />
<line x1="71.9" y1="585.2" x2="75.3" y2="585.2" stroke="#6a6aff" stroke-width="0.8" />
<line x1="71.9" y1="591.2" x2="75.3" y2="591.2" stroke="#6a6aff" stroke-width="0.8" />
<line x1="79.6" y1="594.3" x2="85.6" y2="594.3" stroke="#6a6aff" stroke-width="0.8" />
<line x1="79.6" y1="592.6" x2="79.6" y2="596" stroke="#6a6aff" stroke-width="0.8" />
<line x1="85.6" y1="592.6" x2="85.6" y2="596" stroke="#6a6aff" stroke-width="0.8" />
<line x1="82.6" y1="591.3" x2="82.6" y2="597.3" stroke="#6a6aff" stroke-width="0.8" />
<line x1="80.9" y1="591.3" x2="84.3" y2="591.3" stroke="#6a6aff" stroke-width="0.8" />
<line x1="80.9" y1="597.3" x2="84.3" y2="597.3" stroke="#6a6aff" stroke-width="0.8" />
<line x1="96" y1="598" x2="109" y2="598" stroke="#6a6aff" stroke-width="0.8" />
<line x1="96" y1="596.3" x2="96" y2="599.7" stroke="#6a6aff" stroke-width="0.8" />
<line x1="109" y1="596.3" x2="109" y2="599.7" stroke="#6a6aff" stroke-width="0.8" />
<line x1="102.5" y1="595" x2="102.5" y2="601" stroke="#6a6aff" stroke-width="0.8" />
<line x1="100.8" y1="595" x2="104.2" y2="595" stroke="#6a6aff" stroke-width="0.8" />
<line x1="100.8" y1="601" x2="104.2" y2="601" stroke="#6a6aff" stroke-width="0.8" />
<line x1="116.7" y1="600.4" x2="141.7" y2="600.4" stroke="#6a6aff" stroke-width="0.8" />
<line x1="116.7" y1="598.7" x2="116.7" y2="602.1" stroke="#6a6aff" stroke-width="0.8" />
<line x1="141.7" y1="598.7" x2="141.7" y2="602.1" stroke="#6a6aff" stroke-width="0.8" />
<line x1="129.2" y1="597.4" x2="129.2" y2="603.4" stroke="#6a6aff" stroke-width="0.8" />
<line x1="127.5" y1="597.4" x2="130.9" y2="597.4" stroke="#6a6aff" stroke-width="0.8" />
<line x1="127.5" y1="603.4" x2="130.9" y2="603.4" stroke="#6a6aff" stroke-width="0.8" />
<line x1="159.5" y1="603.2" x2="204.5" y2="603.2" stroke="#6a6aff" stroke-width="0.8" />
<line x1="159.5" y1="601.5" x2="159.5" y2="604.9" stroke="#6a6aff" stroke-width="0.8" />
<line x1="204.5" y1="601.5" x2="204.5" y2="604.9" stroke="#6a6aff" stroke-width="0.8" />
<line x1="182" y1="600.2" x2="182" y2="606.2" stroke="#6a6aff" stroke-width="0.8" />
<line x1="180.3" y1="600.2" x2="183.7" y2="600.2" stroke="#6a6aff" stroke-width="0.8" />
<line x1="180.3" y1="606.2" x2="183.7" y2="606.2" stroke="#6a6aff" stroke-width="0.8" />
<line x1="173.6" y1="604.2" x2="223.6" y2="604.2" stroke="#6a6aff" stroke-width="0.8" />
<line x1="173.6" y1="602.5" x2="173.6" y2="605.9" stroke="#6a6aff" stroke-width="0.8" />
<line x1="223.6" y1="602.5" x2="223.6" y2="605.9" stroke="#6a6aff" stroke-width="0.8" />
<line x1="198.6" y1="601.2" x2="198.6" y2="607.2" stroke="#6a6aff" stroke-width="0.8" />
<line x1="196.9" y1="601.2" x2="200.3" y2="601.2" stroke="#6a6aff" stroke-width="0.8" />
<line x1="196.9" y1="607.2" x2="200.3" y2="607.2" stroke="#6a6aff" stroke-width="0.8" />
<line x1="215.3" y1="605.7" x2="289.3" y2="605.7" stroke="#6a6aff" stroke-width="0.8" />
<line x1="215.3" y1="604" x2="215.3" y2="607.4" stroke="#6a6aff" stroke-width="0.8" />
<line x1="289.3" y1="604" x2="289.3" y2="607.4" stroke="#6a6aff" stroke-width="0.8" />
<line x1="252.3" y1="602.7" x2="252.3" y2="608.7" stroke="#6a6aff" stroke-width="0.8" />
<line x1="250.6" y1="602.7" x2="254" y2="602.7" stroke="#6a6aff" stroke-width="0.8" />
<line x1="250.6" y1="608.7" x2="254" y2="608.7" stroke="#6a6aff" stroke-width="0.8" />
<line x1="281.7" y1="604.2" x2="387.7" y2="604.2" stroke="#6a6aff" stroke-width="0.8" />
<line x1="281.7" y1="602.5" x2="281.7" y2="605.9" stroke="#6a6aff" stroke-width="0.8" />
<line x1="387.7" y1="602.5" x2="387.7" y2="605.9" stroke="#6a6aff" stroke-width="0.8" />
<line x1="334.7" y1="601.2" x2="334.7" y2="607.2" stroke="#6a6aff" stroke-width="0.8" />
<line x1="333" y1="601.2" x2="336.4" y2="601.2" stroke="#6a6aff" stroke-width="0.8" />
<line x1="333" y1="607.2" x2="336.4" y2="607.2" stroke="#6a6aff" stroke-width="0.8" />
<line x1="69.6" y1="595.5" x2="69.6" y2="601.5" stroke="#7a7aff" stroke-width="0.8" />
<line x1="67.9" y1="595.5" x2="71.3" y2="595.5" stroke="#7a7aff" stroke-width="0.8" />
<line x1="67.9" y1="601.5" x2="71.3" y2="601.5" stroke="#7a7aff" stroke-width="0.8" />
<line x1="73.6" y1="645.2" x2="73.6" y2="662.6" stroke="#7a7aff" stroke-width="0.8" />
<line x1="71.9" y1="645.2" x2="75.3" y2="645.2" stroke="#7a7aff" stroke-width="0.8" />
<line x1="71.9" y1="662.6" x2="75.3" y2="662.6" stroke="#7a7aff" stroke-width="0.8" />
<line x1="79.6" y1="690" x2="85.6" y2="690" stroke="#7a7aff" stroke-width="0.8" />
<line x1="79.6" y1="688.3" x2="79.6" y2="691.7" stroke="#7a7aff" stroke-width="0.8" />
<line x1="85.6" y1="688.3" x2="85.6" y2="691.7" stroke="#7a7aff" stroke-width="0.8" />
<line x1="82.6" y1="678" x2="82.6" y2="702" stroke="#7a7aff" stroke-width="0.8" />
<line x1="80.9" y1="678" x2="84.3" y2="678" stroke="#7a7aff" stroke-width="0.8" />
<line x1="80.9" y1="702" x2="84.3" y2="702" stroke="#7a7aff" stroke-width="0.8" />
<line x1="96" y1="716.3" x2="109" y2="716.3" stroke="#7a7aff" stroke-width="0.8" />
<line x1="96" y1="714.6" x2="96" y2="718" stroke="#7a7aff" stroke-width="0.8" />
<line x1="109" y1="714.6" x2="109" y2="718" stroke="#7a7aff" stroke-width="0.8" />
<line x1="102.5" y1="701.3" x2="102.5" y2="731.3" stroke="#7a7aff" stroke-width="0.8" />
<line x1="100.8" y1="701.3" x2="104.2" y2="701.3" stroke="#7a7aff" stroke-width="0.8" />
<line x1="100.8" y1="731.3" x2="104.2" y2="731.3" stroke="#7a7aff" stroke-width="0.8" />
<line x1="116.7" y1="730.9" x2="141.7" y2="730.9" stroke="#7a7aff" stroke-width="0.8" />
<line x1="116.7" y1="729.2" x2="116.7" y2="732.6" stroke="#7a7aff" stroke-width="0.8" />
<line x1="141.7" y1="729.2" x2="141.7" y2="732.6" stroke="#7a7aff" stroke-width="0.8" />
<line x1="129.2" y1="714.9" x2="129.2" y2="746.9" stroke="#7a7aff" stroke-width="0.8" />
<line x1="127.5" y1="714.9" x2="130.9" y2="714.9" stroke="#7a7aff" stroke-width="0.8" />
<line x1="127.5" y1="746.9" x2="130.9" y2="746.9" stroke="#7a7aff" stroke-width="0.8" />
<line x1="159.5" y1="745.5" x2="204.5" y2="745.5" stroke="#7a7aff" stroke-width="0.8" />
<line x1="159.5" y1="743.8" x2="159.5" y2="747.2" stroke="#7a7aff" stroke-width="0.8" />
<line x1="204.5" y1="743.8" x2="204.5" y2="747.2" stroke="#7a7aff" stroke-width="0.8" />
<line x1="182" y1="727.5" x2="182" y2="763.5" stroke="#7a7aff" stroke-width="0.8" />
<line x1="180.3" y1="727.5" x2="183.7" y2="727.5" stroke="#7a7aff" stroke-width="0.8" />
<line x1="180.3" y1="763.5" x2="183.7" y2="763.5" stroke="#7a7aff" stroke-width="0.8" />
<line x1="173.6" y1="747.6" x2="223.6" y2="747.6" stroke="#7a7aff" stroke-width="0.8" />
<line x1="173.6" y1="745.9" x2="173.6" y2="749.3" stroke="#7a7aff" stroke-width="0.8" />
<line x1="223.6" y1="745.9" x2="223.6" y2="749.3" stroke="#7a7aff" stroke-width="0.8" />
<line x1="198.6" y1="729.6" x2="198.6" y2="765.6" stroke="#7a7aff" stroke-width="0.8" />
<line x1="196.9" y1="729.6" x2="200.3" y2="729.6" stroke="#7a7aff" stroke-width="0.8" />
<line x1="196.9" y1="765.6" x2="200.3" y2="765.6" stroke="#7a7aff" stroke-width="0.8" />
<line x1="215.3" y1="756.6" x2="289.3" y2="756.6" stroke="#7a7aff" stroke-width="0.8" />
<line x1="215.3" y1="754.9" x2="215.3" y2="758.3" stroke="#7a7aff" stroke-width="0.8" />
<line x1="289.3" y1="754.9" x2="289.3" y2="758.3" stroke="#7a7aff" stroke-width="0.8" />
<line x1="252.3" y1="739.6" x2="252.3" y2="773.6" stroke="#7a7aff" stroke-width="0.8" />
<line x1="250.6" y1="739.6" x2="254" y2="739.6" stroke="#7a7aff" stroke-width="0.8" />
<line x1="250.6" y1="773.6" x2="254" y2="773.6" stroke="#7a7aff" stroke-width="0.8" />
<line x1="281.7" y1="763.5" x2="387.7" y2="763.5" stroke="#7a7aff" stroke-width="0.8" />
<line x1="281.7" y1="761.8" x2="281.7" y2="765.2" stroke="#7a7aff" stroke-width="0.8" />
<line x1="387.7" y1="761.8" x2="387.7" y2="765.2" stroke="#7a7aff" stroke-width="0.8" />
<line x1="334.7" y1="746.5" x2="334.7" y2="780.5" stroke="#7a7aff" stroke-width="0.8" />
<line x1="333" y1="746.5" x2="336.4" y2="746.5" stroke="#7a7aff" stroke-width="0.8" />
<line x1="333" y1="780.5" x2="336.4" y2="780.5" stroke="#7a7aff" stroke-width="0.8" />
<rect x="66.6" y="579.25" width="6" height="4.7" fill="#ee0000"/>
<rect x="70.6" y="580.95" width="6" height="4.7" fill="#ee0000"/>
<rect x="79.6" y="587.55" width="6" height="4.7" fill="#ee0000"/>
<rect x="99.5" y="601.25" width="6" height="4.7" fill="#ee0000"/>
<rect x="126.2" y="608.65" width="6" height="4.7" fill="#ee0000"/>
<rect x="179" y="617.15" width="6" height="4.7" fill="#ee0000"/>
<rect x="195.6" y="617.15" width="6" height="4.7" fill="#ee0000"/>
<rect x="249.3" y="621.25" width="6" height="4.7" fill="#ee0000"/>
<rect x="331.7" y="627.85" width="6" height="4.7" fill="#ee0000"/>
<rect x="66.6" y="569.85" width="6" height="4.7" fill="#000"/>
<rect x="70.6" y="580.95" width="6" height="4.7" fill="#000"/>
<rect x="79.6" y="587.05" width="6" height="4.7" fill="#000"/>
<rect x="99.5" y="593.85" width="6" height="4.7" fill="#000"/>
<rect x="126.2" y="596.15" width="6" height="4.7" fill="#000"/>
<rect x="179" y="599.15" width="6" height="4.7" fill="#000"/>
<rect x="195.6" y="600.15" width="6" height="4.7" fill="#000"/>
<rect x="249.3" y="604.35" width="6" height="4.7" fill="#000"/>
<rect x="331.7" y="607.45" width="6" height="4.7" fill="#000"/>
<ellipse cx="69.6" cy="576.7" rx="2.5" ry="2.05" fill="#fff" stroke="#4a4aff" stroke-width="1.2"/>
<ellipse cx="73.6" cy="588.2" rx="2.5" ry="2.05" fill="#fff" stroke="#4a4aff" stroke-width="1.2"/>
<ellipse cx="82.6" cy="594.3" rx="2.5" ry="2.05" fill="#fff" stroke="#4a4aff" stroke-width="1.2"/>
<ellipse cx="102.5" cy="598" rx="2.5" ry="2.05" fill="#fff" stroke="#4a4aff" stroke-width="1.2"/>
<ellipse cx="129.2" cy="600.4" rx="2.5" ry="2.05" fill="#fff" stroke="#4a4aff" stroke-width="1.2"/>
<ellipse cx="182" cy="603.2" rx="2.5" ry="2.05" fill="#fff" stroke="#4a4aff" stroke-width="1.2"/>
<ellipse cx="198.6" cy="604.2" rx="2.5" ry="2.05" fill="#fff" stroke="#4a4aff" stroke-width="1.2"/>
<ellipse cx="252.3" cy="605.7" rx="2.5" ry="2.05" fill="#fff" stroke="#4a4aff" stroke-width="1.2"/>
<ellipse cx="334.7" cy="604.2" rx="2.5" ry="2.05" fill="#fff" stroke="#4a4aff" stroke-width="1.2"/>
<rect x="66.6" y="596.15" width="6" height="4.7" fill="#1010ee"/>
<rect x="70.6" y="651.55" width="6" height="4.7" fill="#1010ee"/>
<rect x="79.6" y="687.65" width="6" height="4.7" fill="#1010ee"/>
<rect x="99.5" y="713.95" width="6" height="4.7" fill="#1010ee"/>
<rect x="126.2" y="728.55" width="6" height="4.7" fill="#1010ee"/>
<rect x="179" y="743.15" width="6" height="4.7" fill="#1010ee"/>
<rect x="195.6" y="745.25" width="6" height="4.7" fill="#1010ee"/>
<rect x="249.3" y="754.25" width="6" height="4.7" fill="#1010ee"/>
<rect x="331.7" y="761.15" width="6" height="4.7" fill="#1010ee"/>
<polygon points="69.6,568 66.8,572.8 72.4,572.8" fill="#1e7a1e"/>
<polygon points="73.6,568.2 70.8,573 76.4,573" fill="#1e7a1e"/>
<polygon points="82.6,568.4 79.8,573.2 85.4,573.2" fill="#1e7a1e"/>
<polygon points="102.5,569.1 99.7,573.9 105.3,573.9" fill="#1e7a1e"/>
<polygon points="129.2,569.7 126.4,574.5 132,574.5" fill="#1e7a1e"/>
<polygon points="182,571 179.2,575.8 184.8,575.8" fill="#1e7a1e"/>
<polygon points="198.6,571 195.8,575.8 201.4,575.8" fill="#1e7a1e"/>
<polygon points="252.3,572.5 249.5,577.3 255.1,577.3" fill="#1e7a1e"/>
<polygon points="334.7,572.5 331.9,577.3 337.5,577.3" fill="#1e7a1e"/>
</g>
<text transform="translate(62.7 360.6) scale(1.1 1)" font-family='"Liberation Sans", sans-serif' font-size="10.3" fill="#111" text-anchor="start">A</text>
<text transform="translate(69.6 360.6) scale(1.1 1)" font-family='"Liberation Sans", sans-serif' font-size="10.3" fill="#111" text-anchor="start">-</text>
<text transform="translate(72.6 360.6) scale(1.1 1)" font-family='"Liberation Sans", sans-serif' font-size="10.3" fill="#111" text-anchor="start">A</text>
<text x="82.5" y="364.5" font-family='"Liberation Sans", sans-serif' font-size="7.4" fill="#111" text-anchor="start">o</text>
<text transform="translate(87.7 360.6) scale(1.1 1)" font-family='"Liberation Sans", sans-serif' font-size="10.3" fill="#111" text-anchor="start">=</text>
<text transform="translate(94.9 360.6) scale(1.1 1)" font-family='"Liberation Sans", sans-serif' font-size="10.3" fill="#111" text-anchor="start">A</text>
<text transform="translate(102.6 364.9) scale(1.12 1)" font-family='"Liberation Sans", sans-serif' font-size="10.2" fill="#111" text-anchor="start">&#8734;</text>
<text transform="translate(111.9 360.6) scale(1.1 1)" font-family='"Liberation Sans", sans-serif' font-size="10.3" fill="#111" text-anchor="start">(</text>
<text transform="translate(116.2 360.6) scale(1.1 1)" font-family='"Liberation Sans", sans-serif' font-size="10.3" fill="#111" text-anchor="start">1</text>
<text transform="translate(126 360.6) scale(1.1 1)" font-family='"Liberation Sans", sans-serif' font-size="10.3" fill="#111" text-anchor="start">-</text>
<text transform="translate(132.6 360.6) scale(1.1 1)" font-family='"Liberation Sans", sans-serif' font-size="10.3" fill="#111" text-anchor="start">e</text>
<text x="140.7" y="354.7" font-family='"Liberation Sans", sans-serif' font-size="9" fill="#111" text-anchor="start">(</text>
<text x="145" y="354.7" font-family='"Liberation Sans", sans-serif' font-size="9" fill="#111" text-anchor="start">-</text>
<text transform="translate(147.7 354.7) scale(1.1 1)" font-family='"Liberation Sans", sans-serif' font-size="9" fill="#111" text-anchor="start">&#963;</text>
<text x="155" y="357.3" font-family='"Liberation Sans", sans-serif' font-size="5.8" fill="#111" text-anchor="start">f</text>
<text transform="translate(160.5 354.7) scale(1.05 1)" font-family='"Liberation Sans", sans-serif' font-size="9" fill="#111" text-anchor="start">F</text>
<text x="167.7" y="354.7" font-family='"Liberation Sans", sans-serif' font-size="9" fill="#111" text-anchor="start">)</text>
<text x="174.1" y="360.7" font-family='"Liberation Sans", sans-serif' font-size="8.2" fill="#111" text-anchor="start">)</text>
<text transform="translate(65 775.1) scale(1.1 1)" font-family='"Liberation Sans", sans-serif' font-size="10.3" fill="#111" text-anchor="start">A</text>
<text transform="translate(71.9 775.1) scale(1.1 1)" font-family='"Liberation Sans", sans-serif' font-size="10.3" fill="#111" text-anchor="start">-</text>
<text transform="translate(74.9 775.1) scale(1.1 1)" font-family='"Liberation Sans", sans-serif' font-size="10.3" fill="#111" text-anchor="start">A</text>
<text x="84.8" y="779" font-family='"Liberation Sans", sans-serif' font-size="7.4" fill="#111" text-anchor="start">o</text>
<text transform="translate(90 775.1) scale(1.1 1)" font-family='"Liberation Sans", sans-serif' font-size="10.3" fill="#111" text-anchor="start">=</text>
<text transform="translate(97.2 775.1) scale(1.1 1)" font-family='"Liberation Sans", sans-serif' font-size="10.3" fill="#111" text-anchor="start">A</text>
<text transform="translate(104.9 779.4) scale(1.12 1)" font-family='"Liberation Sans", sans-serif' font-size="10.2" fill="#111" text-anchor="start">&#8734;</text>
<text transform="translate(114.2 775.1) scale(1.1 1)" font-family='"Liberation Sans", sans-serif' font-size="10.3" fill="#111" text-anchor="start">(</text>
<text transform="translate(118.5 775.1) scale(1.1 1)" font-family='"Liberation Sans", sans-serif' font-size="10.3" fill="#111" text-anchor="start">1</text>
<text transform="translate(128.3 775.1) scale(1.1 1)" font-family='"Liberation Sans", sans-serif' font-size="10.3" fill="#111" text-anchor="start">-</text>
<text transform="translate(134.9 775.1) scale(1.1 1)" font-family='"Liberation Sans", sans-serif' font-size="10.3" fill="#111" text-anchor="start">e</text>
<text x="143.7" y="769.2" font-family='"Liberation Sans", sans-serif' font-size="9" fill="#111" text-anchor="start">(</text>
<text x="146.3" y="769.2" font-family='"Liberation Sans", sans-serif' font-size="9" fill="#111" text-anchor="start">-</text>
<text transform="translate(148.1 769.2) scale(1.1 1)" font-family='"Liberation Sans", sans-serif' font-size="9" fill="#111" text-anchor="start">&#963;</text>
<text x="154.7" y="771.8" font-family='"Liberation Sans", sans-serif' font-size="5.8" fill="#111" text-anchor="start">d</text>
<text transform="translate(160.9 769.2) scale(1.05 1)" font-family='"Liberation Sans", sans-serif' font-size="9" fill="#111" text-anchor="start">F</text>
<text x="169.4" y="769.2" font-family='"Liberation Sans", sans-serif' font-size="9" fill="#111" text-anchor="start">)</text>
<text x="175.6" y="776" font-family='"Liberation Sans", sans-serif' font-size="8.6" fill="#111" text-anchor="start">)</text>
<text transform="translate(392.7 365.7) scale(1.18 1)" font-family='"Liberation Sans", sans-serif' font-size="12.1" fill="#111" text-anchor="start">H</text>
<text transform="translate(404.2 370.6) scale(1.15 1)" font-family='"Liberation Sans", sans-serif' font-size="8.3" fill="#111" text-anchor="start">3</text>
<text transform="translate(409 365.7) scale(1.18 1)" font-family='"Liberation Sans", sans-serif' font-size="12.1" fill="#111" text-anchor="start">O</text>
<text x="421.4" y="359.5" font-family='"Liberation Sans", sans-serif' font-size="7" fill="#111" text-anchor="start">+</text>
<text transform="translate(382.9 390) scale(1.2 1)" font-family='"Liberation Sans", sans-serif' font-size="9.8" fill="#3a3af0" text-anchor="start" stroke="#3a3af0" stroke-width="0.22">1470 cm</text>
<text transform="translate(429.6 386) scale(1.15 1)" font-family='"Liberation Sans", sans-serif' font-size="6.3" fill="#3a3af0" text-anchor="start">-1</text>
<text transform="translate(393 403.6) scale(1.24 1)" font-family='"Liberation Sans", sans-serif' font-size="9.2" fill="#222" text-anchor="start" stroke="#222" stroke-width="0.1">HSO</text>
<text transform="translate(418.6 407.4) scale(1.15 1)" font-family='"Liberation Sans", sans-serif' font-size="6.8" fill="#222" text-anchor="start">3</text>
<text x="423.4" y="398.8" font-family='"Liberation Sans", sans-serif' font-size="6" fill="#222" text-anchor="start">-</text>
<text transform="translate(417 416.4) scale(1.24 1)" font-family='"Liberation Sans", sans-serif' font-size="9.2" fill="#ee2222" text-anchor="start" stroke="#ee2222" stroke-width="0.1">SO</text>
<text transform="translate(430.6 420.2) scale(1.15 1)" font-family='"Liberation Sans", sans-serif' font-size="6.6" fill="#ee2222" text-anchor="start">4</text>
<text transform="translate(435.8 411.6) scale(1.1 1)" font-family='"Liberation Sans", sans-serif' font-size="6.3" fill="#ee2222" text-anchor="start">-2</text>
<text transform="translate(391.1 427) scale(1.1 1)" font-family='"Liberation Sans", sans-serif' font-size="9.1" fill="#2e8b2e" text-anchor="start" stroke="#2e8b2e" stroke-width="0.15">H</text>
<text transform="translate(399 430.8) scale(1.15 1)" font-family='"Liberation Sans", sans-serif' font-size="6.6" fill="#2e8b2e" text-anchor="start">2</text>
<text transform="translate(403.3 427) scale(1.1 1)" font-family='"Liberation Sans", sans-serif' font-size="9.1" fill="#2e8b2e" text-anchor="start" stroke="#2e8b2e" stroke-width="0.15">O</text>
<text transform="translate(412.4 430.8) scale(1.15 1)" font-family='"Liberation Sans", sans-serif' font-size="6.6" fill="#2e8b2e" text-anchor="start">2</text>
<text transform="translate(389 448.1) scale(1.1 1)" font-family='"Liberation Sans", sans-serif' font-size="10.8" fill="#ff8833" text-anchor="start" stroke="#ff8833" stroke-width="0.15">OCN</text>
<text x="416.6" y="442.6" font-family='"Liberation Sans", sans-serif' font-size="6" fill="#ff8833" text-anchor="start">-</text>
<text transform="translate(396.3 475) scale(1.24 1)" font-family='"Liberation Sans", sans-serif' font-size="10.2" fill="#2424ee" text-anchor="start" stroke="#2424ee" stroke-width="0.15">CO</text>
<text transform="translate(401.2 581.1) scale(1.24 1)" font-family='"Liberation Sans", sans-serif' font-size="11.0" fill="#2e8b2e" text-anchor="start" stroke="#2e8b2e" stroke-width="0.2">NH</text>
<text transform="translate(420.3 585.6) scale(1.15 1)" font-family='"Liberation Sans", sans-serif' font-size="7.2" fill="#2e8b2e" text-anchor="start">3</text>
<text transform="translate(397.1 603.7) scale(1.28 1)" font-family='"Liberation Sans", sans-serif' font-size="8.9" fill="#3a3af0" text-anchor="start" stroke="#3a3af0" stroke-width="0.2">OH db</text>
<text transform="translate(397.1 617) scale(1.32 1)" font-family='"Liberation Sans", sans-serif' font-size="10.0" fill="#111" text-anchor="start" stroke="#111" stroke-width="0.2">SO</text>
<text transform="translate(416.6 621.9) scale(1.15 1)" font-family='"Liberation Sans", sans-serif' font-size="7.2" fill="#111" text-anchor="start">2</text>
<text transform="translate(398 633.3) scale(1.32 1)" font-family='"Liberation Sans", sans-serif' font-size="10.0" fill="#ee2222" text-anchor="start" stroke="#ee2222" stroke-width="0.2">CO</text>
<text transform="translate(417.5 638.2) scale(1.15 1)" font-family='"Liberation Sans", sans-serif' font-size="7.2" fill="#ee2222" text-anchor="start">2</text>
<text transform="translate(404.9 767.2) scale(1.18 1)" font-family='"Liberation Sans", sans-serif' font-size="11.0" fill="#2424ee" text-anchor="start" stroke="#2424ee" stroke-width="0.15">H</text>
<text transform="translate(414.4 771.2) scale(1.15 1)" font-family='"Liberation Sans", sans-serif' font-size="7.5" fill="#2424ee" text-anchor="start">2</text>
<text transform="translate(419 767.2) scale(1.2 1)" font-family='"Liberation Sans", sans-serif' font-size="11.0" fill="#2424ee" text-anchor="start" stroke="#2424ee" stroke-width="0.15">O</text>
<line x1="385.7" y1="393.1" x2="351.16" y2="401.06" stroke="#111" stroke-width="0.8" />
<polygon points="345.8,402.3 350.71,399.12 351.61,403.01" fill="#111"/>
<text transform="translate(404.2 527.5) scale(1.1 1)" font-family='"Liberation Serif", serif' font-size="24" fill="#111">b)</text>
<text transform="translate(470.5 457.5) rotate(-90)" font-family='"Liberation Sans", sans-serif' font-size="11.5" fill="#222" text-anchor="middle" textLength="55" lengthAdjust="spacingAndGlyphs">Production</text>
<text transform="translate(470.5 689.3) rotate(-90)" font-family='"Liberation Sans", sans-serif' font-size="11.5" fill="#222" text-anchor="middle" textLength="58.5" lengthAdjust="spacingAndGlyphs">Destruction</text>
<text transform="translate(11.0 596.2) rotate(-90)" font-family='"Liberation Sans", sans-serif' font-size="11.8" fill="#222" text-anchor="middle" textLength="126.4" lengthAdjust="spacingAndGlyphs">Difference band area</text>
<text transform="translate(10.6 523.7) rotate(-90) scale(1.225 1)" font-family='"Liberation Sans", sans-serif' font-size="11.8" fill="#222">A-A<tspan dy="2.5" font-size="8">o</tspan><tspan dy="-2.5" dx="4"> (cm</tspan><tspan dy="-4" font-size="7">-1</tspan><tspan dy="4">)</tspan></text>
<text x="177.8" y="817.2" font-family='"Liberation Sans", sans-serif' font-size="10.3" fill="#222" text-anchor="start" textLength="151.8" lengthAdjust="spacingAndGlyphs" >Fluence (10<tspan dy="-4" font-size="6.5">18</tspan><tspan dy="4"> photons cm</tspan><tspan dy="-4" font-size="6.5">-2</tspan><tspan dy="4">)</tspan></text>
</svg>
</body></html>
